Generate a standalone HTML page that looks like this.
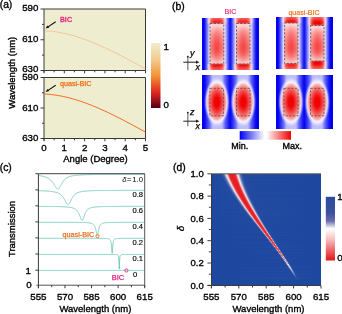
<!DOCTYPE html>
<html><head><meta charset="utf-8"><style>
html,body{margin:0;padding:0;background:#fff;width:342px;height:314px;overflow:hidden;position:relative}
#r div{position:absolute}
svg{position:absolute;left:0;top:0;will-change:transform}
text{font-family:"Liberation Sans",sans-serif}
</style></head><body>
<div id="r">
<div style="left:202px;top:18px;width:57px;height:1px;background:linear-gradient(90deg,#0000f0 0.5px,#0202f0 1.5px,#1111f1 2.5px,#6363f6 4.5px,#d2ccf7 6.5px,#f5d0d7 7.5px,#f9a0a0 8.5px,#f77b7b 9.5px,#f55b5b 11.5px,#f55454 16.5px,#f55d5d 18.5px,#f77f7f 20.5px,#f9a0a0 21.5px,#f7cbd0 22.5px,#ddd5f5 23.5px,#7373f7 25.5px,#2222f2 27.5px,#1616f1 28.5px,#3333f3 29.5px,#8e8ef8 31.5px,#c6c3f8 32.5px,#f1d8e4 33.5px,#faaeaf 34.5px,#f88787 35.5px,#f66060 37.5px,#f55454 40.5px,#f55a5a 44.5px,#f77777 46.5px,#f99696 47.5px,#f8c2c6 48.5px,#e3d8f2 49.5px,#aeadfa 50.5px,#4949f4 52.5px,#2222f2 53.5px,#0707f0 54.5px,#0000f0 56.5px)"></div>
<div style="left:202px;top:19px;width:57px;height:1px;background:linear-gradient(90deg,#0000f0 0.5px,#0202f0 1.5px,#1111f1 2.5px,#6363f6 4.5px,#d4cef5 6.5px,#f6cbd1 7.5px,#f99696 8.5px,#f76f6f 9.5px,#f44c4c 11.5px,#f44545 16.5px,#f54e4e 18.5px,#f77373 20.5px,#f99797 21.5px,#f7c6ca 22.5px,#dfd6f4 23.5px,#7474f7 25.5px,#2222f2 27.5px,#1616f1 28.5px,#3333f3 29.5px,#8f8ff8 31.5px,#c8c4f8 32.5px,#f2d5e0 33.5px,#f9a7a7 34.5px,#f77c7c 35.5px,#f66262 36.5px,#f44848 38.5px,#f44646 43.5px,#f55757 45.5px,#f66b6b 46.5px,#f88c8c 47.5px,#f8bcbf 48.5px,#e5d7ef 49.5px,#afaffa 50.5px,#4a4af4 52.5px,#2222f2 53.5px,#0707f0 54.5px,#0000f0 56.5px)"></div>
<div style="left:202px;top:20px;width:57px;height:1px;background:linear-gradient(90deg,#0000f0 0.5px,#0202f0 1.5px,#1212f1 2.5px,#3636f3 3.5px,#9c9cf9 5.5px,#d8d0f4 6.5px,#f6c4ca 7.5px,#f88a8a 8.5px,#f66060 9.5px,#f44848 10.5px,#f33333 12.5px,#f33434 17.5px,#f44b4b 19.5px,#f66565 20.5px,#f88b8b 21.5px,#f8bfc3 22.5px,#e1d6f2 23.5px,#aaaafa 24.5px,#4747f4 26.5px,#2222f2 27.5px,#1616f1 28.5px,#3333f3 29.5px,#9191f9 31.5px,#cac6f7 32.5px,#f3d2db 33.5px,#f99d9d 34.5px,#f76f6f 35.5px,#f55151 36.5px,#f33535 38.5px,#f33333 43.5px,#f44545 45.5px,#f55b5b 46.5px,#f77f7f 47.5px,#f8b4b7 48.5px,#e7d7ed 49.5px,#b2b1f9 50.5px,#4a4af4 52.5px,#2222f2 53.5px,#0707f0 54.5px,#0000f0 56.5px)"></div>
<div style="left:202px;top:21px;width:57px;height:1px;background:linear-gradient(90deg,#0000f0 0.5px,#0202f0 1.5px,#1212f1 2.5px,#3636f3 3.5px,#6565f6 4.5px,#dbd1f3 6.5px,#f6bec2 7.5px,#f77e7e 8.5px,#f55151 9.5px,#f33636 10.5px,#f22020 12.5px,#f22121 17.5px,#f33b3b 19.5px,#f55757 20.5px,#f88080 21.5px,#f8b9bc 22.5px,#e3d5ef 23.5px,#acacfa 24.5px,#4747f4 26.5px,#2222f2 27.5px,#1616f1 28.5px,#3333f3 29.5px,#9292f9 31.5px,#cdc7f6 32.5px,#f4cdd5 33.5px,#f99393 34.5px,#f66161 35.5px,#f44141 36.5px,#f22323 38.5px,#f22020 43.5px,#f33434 45.5px,#f44c4c 46.5px,#f77373 47.5px,#f8adaf 48.5px,#e9d6ea 49.5px,#b4b2f9 50.5px,#4a4af4 52.5px,#2222f2 53.5px,#0707f0 54.5px,#0000f0 56.5px)"></div>
<div style="left:202px;top:22px;width:57px;height:1px;background:linear-gradient(90deg,#0000f0 0.5px,#0202f0 1.5px,#1212f1 2.5px,#3636f3 3.5px,#9d9df9 5.5px,#d7cdf2 6.5px,#f3bcc4 7.5px,#f78283 8.5px,#f55858 9.5px,#f43f3f 10.5px,#f22929 12.5px,#f22a2a 17.5px,#f44343 19.5px,#f55d5d 20.5px,#f88585 21.5px,#f6b9be 22.5px,#e0d3ef 23.5px,#abaaf9 24.5px,#4747f4 26.5px,#2222f2 27.5px,#1616f1 28.5px,#3333f3 29.5px,#9191f9 31.5px,#cac5f6 32.5px,#f1cbd6 33.5px,#f89697 34.5px,#f66767 35.5px,#f44949 36.5px,#f32c2c 38.5px,#f22929 43.5px,#f43c3c 45.5px,#f55353 46.5px,#f77878 47.5px,#f7aeb1 48.5px,#e6d3ea 49.5px,#b2b0f9 50.5px,#4a4af4 52.5px,#2222f2 53.5px,#0707f0 54.5px,#0000f0 56.5px)"></div>
<div style="left:202px;top:23px;width:57px;height:1px;background:linear-gradient(90deg,#0000f0 0.5px,#0202f0 1.5px,#1111f1 2.5px,#5f5ff6 4.5px,#c2bdf6 6.5px,#e7cbe0 7.5px,#f8b8bb 8.5px,#faa4a4 9.5px,#f88a8a 12.5px,#f88a8a 17.5px,#faa6a6 20.5px,#fabbbd 21.5px,#f0d1de 22.5px,#cfc9f5 23.5px,#4646f4 26.5px,#2222f2 27.5px,#1616f1 28.5px,#3232f3 29.5px,#bab7f8 32.5px,#e3d0e9 33.5px,#f7c4c8 34.5px,#faacac 35.5px,#f99191 37.5px,#f88787 41.5px,#f99595 45.5px,#f9b4b5 47.5px,#f1ccd7 48.5px,#d4cbf3 49.5px,#7474f7 51.5px,#2121f2 53.5px,#0707f0 54.5px,#0000f0 56.5px)"></div>
<div style="left:202px;top:24px;width:57px;height:1px;background:linear-gradient(90deg,#0000f0 0.5px,#0202f0 1.5px,#1111f1 2.5px,#8686f8 5.5px,#dfd7f5 7.5px,#f8dde2 8.5px,#fccece 11.5px,#fccccc 17.5px,#fbe0e2 21.5px,#ece2f4 22.5px,#c4c3fa 23.5px,#4545f4 26.5px,#2121f2 27.5px,#1616f1 28.5px,#3232f3 29.5px,#dbd6f7 33.5px,#f7e4ea 34.5px,#fcd4d4 36.5px,#fcc9c9 42.5px,#fbddde 47.5px,#eee2f1 48.5px,#c8c6fa 49.5px,#2121f2 53.5px,#0707f0 54.5px,#0000f0 56.5px)"></div>
<div style="left:202px;top:25px;width:57px;height:1px;background:linear-gradient(90deg,#0000f0 0.5px,#0202f0 1.5px,#1111f1 2.5px,#8484f8 5.5px,#dfdaf8 7.5px,#f9dfe4 8.5px,#fccfcf 12.5px,#fcd0d0 17.5px,#fbe3e5 21.5px,#ece5f7 22.5px,#9696f9 24.5px,#2121f2 27.5px,#1616f1 28.5px,#3232f3 29.5px,#dad7fa 33.5px,#f8e7ec 34.5px,#fdd7d7 36.5px,#fccccc 42.5px,#fcdfe1 47.5px,#efe6f5 48.5px,#c7c6fb 49.5px,#2121f2 53.5px,#0707f0 54.5px,#0000f0 56.5px)"></div>
<div style="left:202px;top:26px;width:57px;height:1px;background:linear-gradient(90deg,#0000f0 0.5px,#0202f0 1.5px,#1111f1 2.5px,#8484f8 5.5px,#e1dbf6 7.5px,#f9dade 8.5px,#fccdcd 10.5px,#fbc0c0 15.5px,#fcd3d3 20.5px,#fbdedf 21.5px,#ede4f5 22.5px,#c3c3fb 23.5px,#4545f4 26.5px,#2121f2 27.5px,#1616f1 28.5px,#3232f3 29.5px,#adadfa 32.5px,#dbd7f9 33.5px,#f8e3e8 34.5px,#fdd6d6 35.5px,#fbc0c0 41.5px,#fcd1d1 46.5px,#fcd9da 47.5px,#f0e5f3 48.5px,#c8c7fb 49.5px,#4747f4 52.5px,#2121f2 53.5px,#0707f0 54.5px,#0000f0 56.5px)"></div>
<div style="left:202px;top:27px;width:57px;height:1px;background:linear-gradient(90deg,#0000f0 0.5px,#0202f0 1.5px,#1111f1 2.5px,#8484f8 5.5px,#e3dbf5 7.5px,#f9d4d8 8.5px,#fcc4c4 10.5px,#fbb5b5 15.5px,#fccbcb 20.5px,#fbd8da 21.5px,#eee4f3 22.5px,#c4c3fb 23.5px,#4545f4 26.5px,#2121f2 27.5px,#1616f1 28.5px,#3232f3 29.5px,#aeaefa 32.5px,#ddd8f8 33.5px,#f8dfe4 34.5px,#fccfcf 35.5px,#fbb6b6 40.5px,#fbc3c3 45.5px,#fbd3d4 47.5px,#f1e3f0 48.5px,#c9c7fa 49.5px,#4747f4 52.5px,#2121f2 53.5px,#0707f0 54.5px,#0000f0 56.5px)"></div>
<div style="left:202px;top:28px;width:57px;height:1px;background:linear-gradient(90deg,#0000f0 0.5px,#0202f0 1.5px,#1111f1 2.5px,#8585f8 5.5px,#e5dbf4 7.5px,#f9ced1 8.5px,#fbbbbb 10.5px,#faaaaa 15.5px,#fbc3c3 20.5px,#fbd3d4 21.5px,#efe3f1 22.5px,#c5c3fa 23.5px,#4545f4 26.5px,#2121f2 27.5px,#1616f1 28.5px,#3232f3 29.5px,#aeaefa 32.5px,#ded8f7 33.5px,#f8dadf 34.5px,#fcc7c7 35.5px,#faabab 40.5px,#fbb5b5 44.5px,#fbcccd 47.5px,#f1e1ed 48.5px,#c9c8fa 49.5px,#4747f4 52.5px,#2121f2 53.5px,#0707f0 54.5px,#0000f0 56.5px)"></div>
<div style="left:202px;top:29px;width:57px;height:1px;background:linear-gradient(90deg,#0000f0 0.5px,#0202f0 1.5px,#1111f1 2.5px,#8585f8 5.5px,#b6b6fa 6.5px,#e6dbf2 7.5px,#f9c8cb 8.5px,#fbbaba 9.5px,#f99f9f 14.5px,#faaeae 18.5px,#fbbcbc 20.5px,#fbcecf 21.5px,#efe2f0 22.5px,#c5c4fa 23.5px,#4545f4 26.5px,#2121f2 27.5px,#1616f1 28.5px,#3232f3 29.5px,#afaffa 32.5px,#dfd9f6 33.5px,#f8d6db 34.5px,#fbc0c0 35.5px,#f9a0a0 40.5px,#faabab 44.5px,#fbb8b8 46.5px,#fbc6c6 47.5px,#f2dfeb 48.5px,#cac8fa 49.5px,#6f6ff7 51.5px,#2121f2 53.5px,#0707f0 54.5px,#0000f0 56.5px)"></div>
<div style="left:202px;top:30px;width:57px;height:1px;background:linear-gradient(90deg,#0000f0 0.5px,#0202f0 1.5px,#1111f1 2.5px,#8585f8 5.5px,#b7b6fa 6.5px,#e7daf0 7.5px,#f9c3c5 8.5px,#fab2b2 9.5px,#f99595 14.5px,#faa5a5 18.5px,#fbb5b5 20.5px,#fbc9ca 21.5px,#f0e0ee 22.5px,#c6c4fa 23.5px,#4545f4 26.5px,#2121f2 27.5px,#1616f1 28.5px,#3232f3 29.5px,#afaffa 32.5px,#e0d9f6 33.5px,#f8d3d7 34.5px,#fbbaba 35.5px,#f99696 40.5px,#f99c9c 43.5px,#fab1b1 46.5px,#fbc0c0 47.5px,#f2dee8 48.5px,#cbc9f9 49.5px,#6f6ff7 51.5px,#2121f2 53.5px,#0707f0 54.5px,#0000f0 56.5px)"></div>
<div style="left:202px;top:31px;width:57px;height:1px;background:linear-gradient(90deg,#0000f0 0.5px,#0202f0 1.5px,#1111f1 2.5px,#8585f8 5.5px,#b8b7fa 6.5px,#e8d9ee 7.5px,#f9bec0 8.5px,#faacac 9.5px,#f88c8c 14.5px,#f99d9d 18.5px,#faafaf 20.5px,#fbc4c5 21.5px,#f0dfec 22.5px,#c6c4fa 23.5px,#4545f4 26.5px,#2121f2 27.5px,#1616f1 28.5px,#3232f3 29.5px,#afaffa 32.5px,#e1d9f5 33.5px,#f8cfd3 34.5px,#fbb4b4 35.5px,#f88d8d 40.5px,#f99494 43.5px,#faaaaa 46.5px,#fbbbbb 47.5px,#f3dce6 48.5px,#ccc9f9 49.5px,#6f6ff7 51.5px,#2121f2 53.5px,#0707f0 54.5px,#0000f0 56.5px)"></div>
<div style="left:202px;top:32px;width:57px;height:1px;background:linear-gradient(90deg,#0000f0 0.5px,#0202f0 1.5px,#1111f1 2.5px,#8585f8 5.5px,#b8b8fa 6.5px,#e9d9ed 7.5px,#f9b9bb 8.5px,#faa6a6 9.5px,#f88484 14.5px,#f88e8e 17.5px,#faa9a9 20.5px,#fac0c1 21.5px,#f0ddea 22.5px,#c6c4f9 23.5px,#4545f4 26.5px,#2121f2 27.5px,#1616f1 28.5px,#3232f3 29.5px,#b0b0fa 32.5px,#e2d9f4 33.5px,#f8ccd0 34.5px,#faaeae 35.5px,#f88989 39.5px,#f88686 42.5px,#faa4a4 46.5px,#fab6b6 47.5px,#f3dae4 48.5px,#ccc9f9 49.5px,#6f6ff7 51.5px,#2121f2 53.5px,#0707f0 54.5px,#0000f0 56.5px)"></div>
<div style="left:202px;top:33px;width:57px;height:1px;background:linear-gradient(90deg,#0000f0 0.5px,#0202f0 1.5px,#1111f1 2.5px,#8585f8 5.5px,#b9b8fa 6.5px,#ead8eb 7.5px,#f9b5b7 8.5px,#f9a0a0 9.5px,#f77d7d 14.5px,#f88888 17.5px,#faa4a4 20.5px,#fabcbd 21.5px,#f1dce8 22.5px,#c7c4f9 23.5px,#4545f4 26.5px,#2121f2 27.5px,#1616f1 28.5px,#3232f3 29.5px,#b0b0fa 32.5px,#e2d9f3 33.5px,#f8c9cd 34.5px,#faa9a9 35.5px,#f88282 39.5px,#f77f7f 42.5px,#f99f9f 46.5px,#fab1b1 47.5px,#f4d9e2 48.5px,#cdcaf9 49.5px,#6f6ff7 51.5px,#2121f2 53.5px,#0707f0 54.5px,#0000f0 56.5px)"></div>
<div style="left:202px;top:34px;width:57px;height:1px;background:linear-gradient(90deg,#0000f0 0.5px,#0202f0 1.5px,#1111f1 2.5px,#8585f8 5.5px,#b9b8fa 6.5px,#ead8ea 7.5px,#f9b1b3 8.5px,#f99b9b 9.5px,#f77979 13.5px,#f77a7a 16.5px,#f99f9f 20.5px,#fab8b9 21.5px,#f1dbe7 22.5px,#c7c4f9 23.5px,#4545f4 26.5px,#2121f2 27.5px,#1616f1 28.5px,#3232f3 29.5px,#b0b0fa 32.5px,#e3d9f3 33.5px,#f8c6ca 34.5px,#faa5a5 35.5px,#f77c7c 39.5px,#f77878 42.5px,#f99a9a 46.5px,#faadad 47.5px,#f4d8e0 48.5px,#cecaf8 49.5px,#6f6ff7 51.5px,#2121f2 53.5px,#0707f0 54.5px,#0000f0 56.5px)"></div>
<div style="left:202px;top:35px;width:57px;height:1px;background:linear-gradient(90deg,#0000f0 0.5px,#0202f0 1.5px,#1111f1 2.5px,#8686f8 5.5px,#bab9fa 6.5px,#ebd7e9 7.5px,#f9aeb0 8.5px,#f99797 9.5px,#f77373 13.5px,#f77575 16.5px,#f99b9b 20.5px,#fab5b6 21.5px,#f1dae6 22.5px,#c7c5f9 23.5px,#4545f4 26.5px,#2121f2 27.5px,#1616f1 28.5px,#3232f3 29.5px,#b0b0fa 32.5px,#e3d8f2 33.5px,#f8c4c7 34.5px,#f9a1a1 35.5px,#f77676 39.5px,#f77272 42.5px,#f99595 46.5px,#faaaaa 47.5px,#f4d6df 48.5px,#cecaf8 49.5px,#6f6ff7 51.5px,#2121f2 53.5px,#0707f0 54.5px,#0000f0 56.5px)"></div>
<div style="left:202px;top:36px;width:57px;height:1px;background:linear-gradient(90deg,#0000f0 0.5px,#0202f0 1.5px,#1111f1 2.5px,#8686f8 5.5px,#bab9fa 6.5px,#ecd7e8 7.5px,#f9abac 8.5px,#f99393 9.5px,#f66e6e 13.5px,#f76f6f 16.5px,#f99797 20.5px,#fab3b3 21.5px,#f1d9e5 22.5px,#c7c5f9 23.5px,#4545f4 26.5px,#2121f2 27.5px,#1616f1 28.5px,#3232f3 29.5px,#b0b0fa 32.5px,#e4d8f1 33.5px,#f8c2c5 34.5px,#f99d9d 35.5px,#f77171 39.5px,#f66d6d 42.5px,#f99191 46.5px,#faa6a6 47.5px,#f5d5dd 48.5px,#cfcbf8 49.5px,#6f6ff7 51.5px,#2121f2 53.5px,#0707f0 54.5px,#0000f0 56.5px)"></div>
<div style="left:202px;top:37px;width:57px;height:1px;background:linear-gradient(90deg,#0000f0 0.5px,#0202f0 1.5px,#1111f1 2.5px,#8686f8 5.5px,#bbbafa 6.5px,#ecd6e7 7.5px,#f9a8a9 8.5px,#f88f8f 9.5px,#f66969 13.5px,#f66a6a 16.5px,#f99393 20.5px,#fab0b0 21.5px,#f1d8e3 22.5px,#c8c5f9 23.5px,#4545f4 26.5px,#2121f2 27.5px,#1616f1 28.5px,#3232f3 29.5px,#b1b0fa 32.5px,#e4d8f0 33.5px,#f8c0c3 34.5px,#f99a9a 35.5px,#f66c6c 39.5px,#f66868 42.5px,#f88d8d 46.5px,#faa3a3 47.5px,#f5d4dc 48.5px,#cfcbf8 49.5px,#6f6ff7 51.5px,#2121f2 53.5px,#0707f0 54.5px,#0000f0 56.5px)"></div>
<div style="left:202px;top:38px;width:57px;height:1px;background:linear-gradient(90deg,#0000f0 0.5px,#0202f0 1.5px,#1111f1 2.5px,#8686f8 5.5px,#bbbaf9 6.5px,#ecd6e6 7.5px,#f8a5a6 8.5px,#f88c8c 9.5px,#f66464 13.5px,#f66565 16.5px,#f89090 20.5px,#faadae 21.5px,#f2d7e2 22.5px,#c8c5f8 23.5px,#6d6df6 25.5px,#2121f2 27.5px,#1616f1 28.5px,#3232f3 29.5px,#b1b0fa 32.5px,#e4d7f0 33.5px,#f8bec1 34.5px,#f99696 35.5px,#f66767 39.5px,#f66363 42.5px,#f88a8a 46.5px,#f9a0a0 47.5px,#f5d3da 48.5px,#cfcbf7 49.5px,#6f6ff7 51.5px,#2121f2 53.5px,#0707f0 54.5px,#0000f0 56.5px)"></div>
<div style="left:202px;top:39px;width:57px;height:1px;background:linear-gradient(90deg,#0000f0 0.5px,#0202f0 1.5px,#1111f1 2.5px,#8686f8 5.5px,#bcbaf9 6.5px,#edd5e5 7.5px,#f8a2a4 8.5px,#f88888 9.5px,#f66060 13.5px,#f66161 16.5px,#f88c8c 20.5px,#faabab 21.5px,#f2d7e1 22.5px,#c8c5f8 23.5px,#6d6df6 25.5px,#2121f2 27.5px,#1616f1 28.5px,#3232f3 29.5px,#b1b0fa 32.5px,#e4d7ef 33.5px,#f8bcbf 34.5px,#f99393 35.5px,#f66c6c 38.5px,#f55b5b 41.5px,#f77070 44.5px,#f88686 46.5px,#f99d9d 47.5px,#f5d1d9 48.5px,#cfcbf7 49.5px,#6f6ff7 51.5px,#2121f2 53.5px,#0707f0 54.5px,#0000f0 56.5px)"></div>
<div style="left:202px;top:40px;width:57px;height:1px;background:linear-gradient(90deg,#0000f0 0.5px,#0202f0 1.5px,#1111f1 2.5px,#8686f8 5.5px,#bcbaf9 6.5px,#edd4e4 7.5px,#f8a0a1 8.5px,#f88585 9.5px,#f55b5b 13.5px,#f55d5d 16.5px,#f88989 20.5px,#faa9a9 21.5px,#f2d6e1 22.5px,#c8c5f8 23.5px,#6d6df6 25.5px,#2121f2 27.5px,#1616f1 28.5px,#3232f3 29.5px,#b1b0fa 32.5px,#e5d7ef 33.5px,#f8babd 34.5px,#f89090 35.5px,#f66868 38.5px,#f55757 41.5px,#f66c6c 44.5px,#f88383 46.5px,#f99b9b 47.5px,#f5d0d8 48.5px,#d0cbf7 49.5px,#6f6ff7 51.5px,#2121f2 53.5px,#0707f0 54.5px,#0000f0 56.5px)"></div>
<div style="left:202px;top:41px;width:57px;height:1px;background:linear-gradient(90deg,#0000f0 0.5px,#0202f0 1.5px,#1111f1 2.5px,#8686f8 5.5px,#bcbaf9 6.5px,#edd3e3 7.5px,#f89d9f 8.5px,#f88282 9.5px,#f55757 13.5px,#f55959 16.5px,#f88686 20.5px,#f9a7a7 21.5px,#f2d5e0 22.5px,#c8c5f8 23.5px,#6d6df6 25.5px,#2121f2 27.5px,#1616f1 28.5px,#3232f3 29.5px,#b1b0fa 32.5px,#e5d6ee 33.5px,#f8b8bb 34.5px,#f88d8d 35.5px,#f66464 38.5px,#f55353 41.5px,#f66969 44.5px,#f88080 46.5px,#f99898 47.5px,#f5cfd6 48.5px,#d0cbf7 49.5px,#6f6ff7 51.5px,#2121f2 53.5px,#0707f0 54.5px,#0000f0 56.5px)"></div>
<div style="left:202px;top:42px;width:57px;height:1px;background:linear-gradient(90deg,#0000f0 0.5px,#0202f0 1.5px,#1111f1 2.5px,#8686f8 5.5px,#bcbaf9 6.5px,#edd2e2 7.5px,#f89b9c 8.5px,#f77f7f 9.5px,#f55353 13.5px,#f55555 16.5px,#f88484 20.5px,#f9a5a5 21.5px,#f2d4df 22.5px,#c9c5f8 23.5px,#6d6df6 25.5px,#2121f2 27.5px,#1616f1 28.5px,#3232f3 29.5px,#b1b1fa 32.5px,#e5d6ee 33.5px,#f8b7b9 34.5px,#f88b8b 35.5px,#f66161 38.5px,#f54f4f 41.5px,#f66565 44.5px,#f77d7d 46.5px,#f99696 47.5px,#f5ced5 48.5px,#d0cbf7 49.5px,#6f6ff7 51.5px,#2121f2 53.5px,#0707f0 54.5px,#0000f0 56.5px)"></div>
<div style="left:202px;top:43px;width:57px;height:1px;background:linear-gradient(90deg,#0000f0 0.5px,#0202f0 1.5px,#1111f1 2.5px,#8686f8 5.5px,#bdbaf9 6.5px,#edd2e1 7.5px,#f8999a 8.5px,#f77c7c 9.5px,#f55050 13.5px,#f55151 16.5px,#f88181 20.5px,#f9a3a3 21.5px,#f2d4de 22.5px,#c9c5f8 23.5px,#6d6df6 25.5px,#2121f2 27.5px,#1616f1 28.5px,#3232f3 29.5px,#b1b1fa 32.5px,#e5d6ed 33.5px,#f8b5b8 34.5px,#f88989 35.5px,#f55d5d 38.5px,#f44b4b 41.5px,#f66262 44.5px,#f77a7a 46.5px,#f99393 47.5px,#f5cdd4 48.5px,#d1cbf7 49.5px,#6f6ff7 51.5px,#2121f2 53.5px,#0707f0 54.5px,#0000f0 56.5px)"></div>
<div style="left:202px;top:44px;width:57px;height:1px;background:linear-gradient(90deg,#0000f0 0.5px,#0202f0 1.5px,#1111f1 2.5px,#8686f8 5.5px,#bdbbf9 6.5px,#edd1e0 7.5px,#f89798 8.5px,#f77a7a 9.5px,#f54d4d 13.5px,#f44949 15.5px,#f77070 19.5px,#f77f7f 20.5px,#f9a1a2 21.5px,#f2d3dd 22.5px,#c9c5f8 23.5px,#6d6df6 25.5px,#2121f2 27.5px,#1616f1 28.5px,#3232f3 29.5px,#b1b1fa 32.5px,#e5d6ed 33.5px,#f8b4b7 34.5px,#f88787 35.5px,#f55b5b 38.5px,#f44848 41.5px,#f66060 44.5px,#f77878 46.5px,#f99292 47.5px,#f5ccd3 48.5px,#d1cbf6 49.5px,#6f6ff7 51.5px,#2121f2 53.5px,#0707f0 54.5px,#0000f0 56.5px)"></div>
<div style="left:202px;top:45px;width:57px;height:1px;background:linear-gradient(90deg,#0000f0 0.5px,#0202f0 1.5px,#1111f1 2.5px,#8686f8 5.5px,#bdbbf9 6.5px,#eed1df 7.5px,#f89697 8.5px,#f77979 9.5px,#f44b4b 13.5px,#f44747 15.5px,#f66e6e 19.5px,#f77e7e 20.5px,#f9a0a0 21.5px,#f2d3dd 22.5px,#c9c5f8 23.5px,#6d6df6 25.5px,#2121f2 27.5px,#1616f1 28.5px,#3232f3 29.5px,#b2b1fa 32.5px,#e6d6ed 33.5px,#f8b3b6 34.5px,#f88585 35.5px,#f55959 38.5px,#f44646 41.5px,#f65e5e 44.5px,#f77777 46.5px,#f89090 47.5px,#f5cbd3 48.5px,#d1cbf6 49.5px,#6f6ff7 51.5px,#2121f2 53.5px,#0707f0 54.5px,#0000f0 56.5px)"></div>
<div style="left:202px;top:46px;width:57px;height:1px;background:linear-gradient(90deg,#0000f0 0.5px,#0202f0 1.5px,#1111f1 2.5px,#8686f8 5.5px,#bdbbf9 6.5px,#eed1df 7.5px,#f89596 8.5px,#f77878 9.5px,#f44949 13.5px,#f44545 15.5px,#f66d6d 19.5px,#f77c7c 20.5px,#f99fa0 21.5px,#f2d3dd 22.5px,#c9c5f8 23.5px,#6d6df6 25.5px,#2121f2 27.5px,#1616f1 28.5px,#3232f3 29.5px,#8282f8 31.5px,#b2b1fa 32.5px,#e6d6ec 33.5px,#f8b3b5 34.5px,#f88484 35.5px,#f55757 38.5px,#f44545 41.5px,#f55c5c 44.5px,#f77575 46.5px,#f88f8f 47.5px,#f5cbd2 48.5px,#d1cbf6 49.5px,#6f6ff7 51.5px,#2121f2 53.5px,#0707f0 54.5px,#0000f0 56.5px)"></div>
<div style="left:202px;top:47px;width:57px;height:1px;background:linear-gradient(90deg,#0000f0 0.5px,#0202f0 1.5px,#1111f1 2.5px,#8686f8 5.5px,#bdbbf9 6.5px,#eed0df 7.5px,#f89596 8.5px,#f77777 9.5px,#f44949 13.5px,#f44545 15.5px,#f66d6d 19.5px,#f77c7c 20.5px,#f99f9f 21.5px,#f2d3dd 22.5px,#c9c5f8 23.5px,#6d6df6 25.5px,#2121f2 27.5px,#1616f1 28.5px,#3232f3 29.5px,#8282f8 31.5px,#b2b1fa 32.5px,#e6d6ec 33.5px,#f8b2b5 34.5px,#f88484 35.5px,#f55757 38.5px,#f44444 41.5px,#f55c5c 44.5px,#f77575 46.5px,#f88f8f 47.5px,#f5cbd2 48.5px,#d1cbf6 49.5px,#6f6ff7 51.5px,#2121f2 53.5px,#0707f0 54.5px,#0000f0 56.5px)"></div>
<div style="left:202px;top:48px;width:57px;height:1px;background:linear-gradient(90deg,#0000f0 0.5px,#0202f0 1.5px,#1111f1 2.5px,#8686f8 5.5px,#bdbbf9 6.5px,#eed1df 7.5px,#f89596 8.5px,#f77777 9.5px,#f44949 13.5px,#f44545 15.5px,#f66d6d 19.5px,#f77c7c 20.5px,#f99fa0 21.5px,#f2d3dd 22.5px,#c9c5f8 23.5px,#6d6df6 25.5px,#2121f2 27.5px,#1616f1 28.5px,#3232f3 29.5px,#8282f8 31.5px,#b2b1fa 32.5px,#e6d6ec 33.5px,#f8b3b5 34.5px,#f88484 35.5px,#f55757 38.5px,#f44444 41.5px,#f55c5c 44.5px,#f77575 46.5px,#f88f8f 47.5px,#f5cbd2 48.5px,#d1cbf6 49.5px,#6f6ff7 51.5px,#2121f2 53.5px,#0707f0 54.5px,#0000f0 56.5px)"></div>
<div style="left:202px;top:49px;width:57px;height:1px;background:linear-gradient(90deg,#0000f0 0.5px,#0202f0 1.5px,#1111f1 2.5px,#8686f8 5.5px,#bdbbf9 6.5px,#eed1df 7.5px,#f89697 8.5px,#f77979 9.5px,#f44b4b 13.5px,#f44747 15.5px,#f66e6e 19.5px,#f77d7d 20.5px,#f9a0a0 21.5px,#f2d3dd 22.5px,#c9c5f8 23.5px,#6d6df6 25.5px,#2121f2 27.5px,#1616f1 28.5px,#3232f3 29.5px,#b2b1fa 32.5px,#e6d6ed 33.5px,#f8b3b6 34.5px,#f88585 35.5px,#f55959 38.5px,#f44646 41.5px,#f55d5d 44.5px,#f77676 46.5px,#f89090 47.5px,#f5cbd2 48.5px,#d1cbf6 49.5px,#6f6ff7 51.5px,#2121f2 53.5px,#0707f0 54.5px,#0000f0 56.5px)"></div>
<div style="left:202px;top:50px;width:57px;height:1px;background:linear-gradient(90deg,#0000f0 0.5px,#0202f0 1.5px,#1111f1 2.5px,#8686f8 5.5px,#bdbaf9 6.5px,#edd1e0 7.5px,#f89899 8.5px,#f77b7b 9.5px,#f54d4d 13.5px,#f44949 15.5px,#f77171 19.5px,#f77f7f 20.5px,#f9a2a2 21.5px,#f2d3de 22.5px,#c9c5f8 23.5px,#6d6df6 25.5px,#2121f2 27.5px,#1616f1 28.5px,#3232f3 29.5px,#b1b1fa 32.5px,#e5d6ed 33.5px,#f8b4b7 34.5px,#f88787 35.5px,#f55b5b 38.5px,#f44949 41.5px,#f66060 44.5px,#f77878 46.5px,#f99292 47.5px,#f5ccd3 48.5px,#d1cbf6 49.5px,#6f6ff7 51.5px,#2121f2 53.5px,#0707f0 54.5px,#0000f0 56.5px)"></div>
<div style="left:202px;top:51px;width:57px;height:1px;background:linear-gradient(90deg,#0000f0 0.5px,#0202f0 1.5px,#1111f1 2.5px,#8686f8 5.5px,#bcbaf9 6.5px,#edd2e1 7.5px,#f89a9b 8.5px,#f77d7d 9.5px,#f55151 13.5px,#f55353 16.5px,#f88282 20.5px,#f9a4a4 21.5px,#f2d4de 22.5px,#c9c5f8 23.5px,#6d6df6 25.5px,#2121f2 27.5px,#1616f1 28.5px,#3232f3 29.5px,#b1b1fa 32.5px,#e5d6ed 33.5px,#f8b6b9 34.5px,#f88989 35.5px,#f65f5f 38.5px,#f54d4d 41.5px,#f66363 44.5px,#f77b7b 46.5px,#f99494 47.5px,#f5cdd5 48.5px,#d0cbf7 49.5px,#6f6ff7 51.5px,#2121f2 53.5px,#0707f0 54.5px,#0000f0 56.5px)"></div>
<div style="left:202px;top:52px;width:57px;height:1px;background:linear-gradient(90deg,#0000f0 0.5px,#0202f0 1.5px,#1111f1 2.5px,#8686f8 5.5px,#bcbaf9 6.5px,#edd3e2 7.5px,#f89d9e 8.5px,#f88181 9.5px,#f55656 13.5px,#f55858 16.5px,#f88686 20.5px,#f9a6a7 21.5px,#f2d5df 22.5px,#c8c5f8 23.5px,#6d6df6 25.5px,#2121f2 27.5px,#1616f1 28.5px,#3232f3 29.5px,#b1b0fa 32.5px,#e5d6ee 33.5px,#f8b8bb 34.5px,#f88d8d 35.5px,#f66363 38.5px,#f55252 41.5px,#f66868 44.5px,#f77f7f 46.5px,#f99797 47.5px,#f5cfd6 48.5px,#d0cbf7 49.5px,#6f6ff7 51.5px,#2121f2 53.5px,#0707f0 54.5px,#0000f0 56.5px)"></div>
<div style="left:202px;top:53px;width:57px;height:1px;background:linear-gradient(90deg,#0000f0 0.5px,#0202f0 1.5px,#1111f1 2.5px,#8686f8 5.5px,#bcbaf9 6.5px,#edd4e4 7.5px,#f8a1a2 8.5px,#f88686 9.5px,#f55c5c 13.5px,#f65e5e 16.5px,#f88a8a 20.5px,#faa9aa 21.5px,#f2d6e1 22.5px,#c8c5f8 23.5px,#6d6df6 25.5px,#2121f2 27.5px,#1616f1 28.5px,#3232f3 29.5px,#b1b0fa 32.5px,#e5d7ef 33.5px,#f8bbbd 34.5px,#f99191 35.5px,#f66969 38.5px,#f55858 41.5px,#f66d6d 44.5px,#f88484 46.5px,#f99b9b 47.5px,#f5d0d8 48.5px,#d0cbf7 49.5px,#6f6ff7 51.5px,#2121f2 53.5px,#0707f0 54.5px,#0000f0 56.5px)"></div>
<div style="left:202px;top:54px;width:57px;height:1px;background:linear-gradient(90deg,#0000f0 0.5px,#0202f0 1.5px,#1111f1 2.5px,#8686f8 5.5px,#bbbaf9 6.5px,#ecd6e6 7.5px,#f8a5a6 8.5px,#f88b8b 9.5px,#f66464 13.5px,#f66565 16.5px,#f88f8f 20.5px,#faadae 21.5px,#f2d7e2 22.5px,#c8c5f8 23.5px,#6d6df6 25.5px,#2121f2 27.5px,#1616f1 28.5px,#3232f3 29.5px,#b1b0fa 32.5px,#e4d7f0 33.5px,#f8bec1 34.5px,#f99696 35.5px,#f66767 39.5px,#f66363 42.5px,#f88989 46.5px,#f9a0a0 47.5px,#f5d3da 48.5px,#cfcbf7 49.5px,#6f6ff7 51.5px,#2121f2 53.5px,#0707f0 54.5px,#0000f0 56.5px)"></div>
<div style="left:202px;top:55px;width:57px;height:1px;background:linear-gradient(90deg,#0000f0 0.5px,#0202f0 1.5px,#1111f1 2.5px,#8686f8 5.5px,#bbb9fa 6.5px,#ecd7e8 7.5px,#f9aaab 8.5px,#f99191 9.5px,#f66c6c 13.5px,#f66d6d 16.5px,#f99595 20.5px,#fab2b2 21.5px,#f1d9e4 22.5px,#c8c5f9 23.5px,#4545f4 26.5px,#2121f2 27.5px,#1616f1 28.5px,#3232f3 29.5px,#b1b0fa 32.5px,#e4d8f1 33.5px,#f8c1c4 34.5px,#f99c9c 35.5px,#f76f6f 39.5px,#f66b6b 42.5px,#f89090 46.5px,#faa5a5 47.5px,#f5d5dd 48.5px,#cfcbf8 49.5px,#6f6ff7 51.5px,#2121f2 53.5px,#0707f0 54.5px,#0000f0 56.5px)"></div>
<div style="left:202px;top:56px;width:57px;height:1px;background:linear-gradient(90deg,#0000f0 0.5px,#0202f0 1.5px,#1111f1 2.5px,#8686f8 5.5px,#bab9fa 6.5px,#ebd7e9 7.5px,#f9afb1 8.5px,#f99898 9.5px,#f77575 13.5px,#f77676 16.5px,#f99c9c 20.5px,#fab6b7 21.5px,#f1dae6 22.5px,#c7c4f9 23.5px,#4545f4 26.5px,#2121f2 27.5px,#1616f1 28.5px,#3232f3 29.5px,#b0b0fa 32.5px,#e3d8f2 33.5px,#f8c5c8 34.5px,#faa2a2 35.5px,#f77878 39.5px,#f77474 42.5px,#f99797 46.5px,#faabab 47.5px,#f4d7df 48.5px,#cecaf8 49.5px,#6f6ff7 51.5px,#2121f2 53.5px,#0707f0 54.5px,#0000f0 56.5px)"></div>
<div style="left:202px;top:57px;width:57px;height:1px;background:linear-gradient(90deg,#0000f0 0.5px,#0202f0 1.5px,#1111f1 2.5px,#8585f8 5.5px,#b9b8fa 6.5px,#ead8eb 7.5px,#f9b5b7 8.5px,#f9a0a0 9.5px,#f77c7c 14.5px,#f88787 17.5px,#faa3a3 20.5px,#fabcbc 21.5px,#f1dce8 22.5px,#c7c4f9 23.5px,#4545f4 26.5px,#2121f2 27.5px,#1616f1 28.5px,#3232f3 29.5px,#b0b0fa 32.5px,#e2d9f3 33.5px,#f8c9cc 34.5px,#faa9a9 35.5px,#f88282 39.5px,#f77f7f 42.5px,#f99e9e 46.5px,#fab1b1 47.5px,#f4d9e2 48.5px,#cdcaf9 49.5px,#6f6ff7 51.5px,#2121f2 53.5px,#0707f0 54.5px,#0000f0 56.5px)"></div>
<div style="left:202px;top:58px;width:57px;height:1px;background:linear-gradient(90deg,#0000f0 0.5px,#0202f0 1.5px,#1111f1 2.5px,#8585f8 5.5px,#b8b7fa 6.5px,#e9d9ed 7.5px,#f9bbbd 8.5px,#faa8a8 9.5px,#f88787 14.5px,#f99191 17.5px,#faabab 20.5px,#fbc1c2 21.5px,#f0deeb 22.5px,#c6c4fa 23.5px,#4545f4 26.5px,#2121f2 27.5px,#1616f1 28.5px,#3232f3 29.5px,#b0b0fa 32.5px,#e2d9f5 33.5px,#f8cdd1 34.5px,#fab0b0 35.5px,#f88888 40.5px,#f88f8f 43.5px,#faa7a7 46.5px,#fab8b8 47.5px,#f3dbe5 48.5px,#ccc9f9 49.5px,#6f6ff7 51.5px,#2121f2 53.5px,#0707f0 54.5px,#0000f0 56.5px)"></div>
<div style="left:202px;top:59px;width:57px;height:1px;background:linear-gradient(90deg,#0000f0 0.5px,#0202f0 1.5px,#1111f1 2.5px,#8585f8 5.5px,#b7b7fa 6.5px,#e7daef 7.5px,#f9c2c4 8.5px,#fab1b1 9.5px,#f99393 14.5px,#faa3a3 18.5px,#fbb3b3 20.5px,#fbc7c8 21.5px,#f0e0ed 22.5px,#c6c4fa 23.5px,#4545f4 26.5px,#2121f2 27.5px,#1616f1 28.5px,#3232f3 29.5px,#afaffa 32.5px,#e0d9f6 33.5px,#f8d2d6 34.5px,#fbb8b8 35.5px,#f99494 40.5px,#f99a9a 43.5px,#faafaf 46.5px,#fbbfbf 47.5px,#f3dde8 48.5px,#cbc9f9 49.5px,#6f6ff7 51.5px,#2121f2 53.5px,#0707f0 54.5px,#0000f0 56.5px)"></div>
<div style="left:202px;top:60px;width:57px;height:1px;background:linear-gradient(90deg,#0000f0 0.5px,#0202f0 1.5px,#1111f1 2.5px,#8585f8 5.5px,#b6b6fa 6.5px,#e6dbf2 7.5px,#f9c8cb 8.5px,#fbbaba 9.5px,#f99f9f 14.5px,#faaeae 18.5px,#fbbcbc 20.5px,#fbcecf 21.5px,#efe2f0 22.5px,#c5c4fa 23.5px,#4545f4 26.5px,#2121f2 27.5px,#1616f1 28.5px,#3232f3 29.5px,#afaffa 32.5px,#dfd9f6 33.5px,#f8d6db 34.5px,#fbc0c0 35.5px,#f9a0a0 40.5px,#faabab 44.5px,#fbb8b8 46.5px,#fbc6c6 47.5px,#f2dfeb 48.5px,#cac8fa 49.5px,#6f6ff7 51.5px,#2121f2 53.5px,#0707f0 54.5px,#0000f0 56.5px)"></div>
<div style="left:202px;top:61px;width:57px;height:1px;background:linear-gradient(90deg,#0000f0 0.5px,#0202f0 1.5px,#1111f1 2.5px,#8585f8 5.5px,#e5dbf4 7.5px,#f9cfd2 8.5px,#fbbdbd 10.5px,#faacac 15.5px,#fcc5c5 20.5px,#fbd4d5 21.5px,#efe3f2 22.5px,#c4c3fa 23.5px,#4545f4 26.5px,#2121f2 27.5px,#1616f1 28.5px,#3232f3 29.5px,#aeaefa 32.5px,#ded8f7 33.5px,#f8dbe0 34.5px,#fcc9c9 35.5px,#faacac 40.5px,#fbb6b6 44.5px,#fbcdce 47.5px,#f1e2ee 48.5px,#c9c8fa 49.5px,#4747f4 52.5px,#2121f2 53.5px,#0707f0 54.5px,#0000f0 56.5px)"></div>
<div style="left:202px;top:62px;width:57px;height:1px;background:linear-gradient(90deg,#0000f0 0.5px,#0202f0 1.5px,#1111f1 2.5px,#8484f8 5.5px,#e3dbf5 7.5px,#f9d6d9 8.5px,#fcc7c7 10.5px,#fbb8b8 15.5px,#fccdcd 20.5px,#fbdadb 21.5px,#ede4f4 22.5px,#c4c3fb 23.5px,#4545f4 26.5px,#2121f2 27.5px,#1616f1 28.5px,#3232f3 29.5px,#adadfa 32.5px,#dcd8f8 33.5px,#f8e0e5 34.5px,#fcd1d1 35.5px,#fbb9b9 40.5px,#fcc6c6 45.5px,#fbd4d5 47.5px,#f1e4f1 48.5px,#c8c7fa 49.5px,#4747f4 52.5px,#2121f2 53.5px,#0707f0 54.5px,#0000f0 56.5px)"></div>
<div style="left:202px;top:63px;width:57px;height:1px;background:linear-gradient(90deg,#0000f0 0.5px,#0202f0 1.5px,#1111f1 2.5px,#5d5df5 4.5px,#bbb8f8 6.5px,#e5d4eb 7.5px,#f8c7ca 8.5px,#faaeae 10.5px,#f99f9f 14.5px,#faa9a9 18.5px,#fbbaba 20.5px,#facacc 21.5px,#efdbe9 22.5px,#c9c6f8 23.5px,#4545f4 26.5px,#2121f2 27.5px,#1616f1 28.5px,#3232f3 29.5px,#b3b2f9 32.5px,#e0d4f1 33.5px,#f8d2d7 34.5px,#fbbebe 35.5px,#faa5a5 38.5px,#faa3a3 43.5px,#fbb6b6 46.5px,#fbc4c5 47.5px,#f1d9e4 48.5px,#cec9f7 49.5px,#4848f4 52.5px,#2121f2 53.5px,#0707f0 54.5px,#0000f0 56.5px)"></div>
<div style="left:202px;top:64px;width:57px;height:1px;background:linear-gradient(90deg,#0000f0 0.5px,#0202f0 1.5px,#1212f1 2.5px,#3636f3 3.5px,#9c9cf9 5.5px,#d6ccf2 6.5px,#f3bbc3 7.5px,#f78182 8.5px,#f55757 9.5px,#f43e3e 10.5px,#f22929 12.5px,#f22a2a 17.5px,#f44242 19.5px,#f55d5d 20.5px,#f78585 21.5px,#f6b9be 22.5px,#dfd1ef 23.5px,#aaa9f9 24.5px,#4747f4 26.5px,#2222f2 27.5px,#1616f1 28.5px,#3333f3 29.5px,#9191f9 31.5px,#c9c4f6 32.5px,#f0c9d5 33.5px,#f89697 34.5px,#f66767 35.5px,#f44848 36.5px,#f32b2b 38.5px,#f22828 43.5px,#f43c3c 45.5px,#f55353 46.5px,#f77878 47.5px,#f7aeb2 48.5px,#e5d2e9 49.5px,#b1aff9 50.5px,#4a4af4 52.5px,#2222f2 53.5px,#0707f0 54.5px,#0000f0 56.5px)"></div>
<div style="left:202px;top:65px;width:57px;height:1px;background:linear-gradient(90deg,#0000f0 0.5px,#0202f0 1.5px,#1212f1 2.5px,#3636f3 3.5px,#6666f6 4.5px,#a1a0f9 5.5px,#ddd1f1 6.5px,#f7b7bc 7.5px,#f77373 8.5px,#f44343 9.5px,#f22727 10.5px,#f10f0f 12.5px,#f11010 17.5px,#f32b2b 19.5px,#f44949 20.5px,#f77676 21.5px,#f8b2b5 22.5px,#e4d5ed 23.5px,#aeadf9 24.5px,#4747f4 26.5px,#2222f2 27.5px,#1616f1 28.5px,#3333f3 29.5px,#9494f9 31.5px,#cfc8f5 32.5px,#f4c9d0 33.5px,#f88a8a 34.5px,#f55555 35.5px,#f33232 36.5px,#f21d1d 37.5px,#f10d0d 39.5px,#f10e0e 43.5px,#f22424 45.5px,#f43e3e 46.5px,#f66868 47.5px,#f8a6a7 48.5px,#ead5e7 49.5px,#b5b4f9 50.5px,#4a4af4 52.5px,#2222f2 53.5px,#0707f0 54.5px,#0000f0 56.5px)"></div>
<div style="left:202px;top:66px;width:57px;height:1px;background:linear-gradient(90deg,#0000f0 0.5px,#0202f0 1.5px,#1212f1 2.5px,#3636f3 3.5px,#6565f6 4.5px,#dbd1f3 6.5px,#f6bec2 7.5px,#f77e7e 8.5px,#f55151 9.5px,#f33636 10.5px,#f22020 12.5px,#f22121 17.5px,#f33b3b 19.5px,#f55757 20.5px,#f88080 21.5px,#f8b9bc 22.5px,#e3d5ef 23.5px,#acacfa 24.5px,#4747f4 26.5px,#2222f2 27.5px,#1616f1 28.5px,#3333f3 29.5px,#9292f9 31.5px,#cdc7f6 32.5px,#f4cdd5 33.5px,#f99393 34.5px,#f66161 35.5px,#f44141 36.5px,#f22323 38.5px,#f22020 43.5px,#f33434 45.5px,#f44c4c 46.5px,#f77373 47.5px,#f8adaf 48.5px,#e9d6ea 49.5px,#b4b2f9 50.5px,#4a4af4 52.5px,#2222f2 53.5px,#0707f0 54.5px,#0000f0 56.5px)"></div>
<div style="left:202px;top:67px;width:57px;height:1px;background:linear-gradient(90deg,#0000f0 0.5px,#0202f0 1.5px,#1212f1 2.5px,#3636f3 3.5px,#9c9cf9 5.5px,#d8d0f4 6.5px,#f6c4ca 7.5px,#f88a8a 8.5px,#f66060 9.5px,#f44848 10.5px,#f33333 12.5px,#f33434 17.5px,#f44b4b 19.5px,#f66565 20.5px,#f88b8b 21.5px,#f8bfc3 22.5px,#e1d6f2 23.5px,#aaaafa 24.5px,#4747f4 26.5px,#2222f2 27.5px,#1616f1 28.5px,#3333f3 29.5px,#9191f9 31.5px,#cac6f7 32.5px,#f3d2db 33.5px,#f99d9d 34.5px,#f76f6f 35.5px,#f55151 36.5px,#f33535 38.5px,#f33333 43.5px,#f44545 45.5px,#f55b5b 46.5px,#f77f7f 47.5px,#f8b4b7 48.5px,#e7d7ed 49.5px,#b2b1f9 50.5px,#4a4af4 52.5px,#2222f2 53.5px,#0707f0 54.5px,#0000f0 56.5px)"></div>
<div style="left:202px;top:68px;width:57px;height:1px;background:linear-gradient(90deg,#0000f0 0.5px,#0202f0 1.5px,#1111f1 2.5px,#6363f6 4.5px,#d4cef5 6.5px,#f6cbd1 7.5px,#f99696 8.5px,#f76f6f 9.5px,#f44c4c 11.5px,#f44545 16.5px,#f54e4e 18.5px,#f77373 20.5px,#f99797 21.5px,#f7c6ca 22.5px,#dfd6f4 23.5px,#7474f7 25.5px,#2222f2 27.5px,#1616f1 28.5px,#3333f3 29.5px,#8f8ff8 31.5px,#c8c4f8 32.5px,#f2d5e0 33.5px,#f9a7a7 34.5px,#f77c7c 35.5px,#f66262 36.5px,#f44848 38.5px,#f44646 43.5px,#f55757 45.5px,#f66b6b 46.5px,#f88c8c 47.5px,#f8bcbf 48.5px,#e5d7ef 49.5px,#afaffa 50.5px,#4a4af4 52.5px,#2222f2 53.5px,#0707f0 54.5px,#0000f0 56.5px)"></div>
<div style="left:202px;top:69px;width:57px;height:1px;background:linear-gradient(90deg,#0000f0 0.5px,#0202f0 1.5px,#1111f1 2.5px,#6363f6 4.5px,#d2ccf7 6.5px,#f5d0d7 7.5px,#f9a0a0 8.5px,#f77b7b 9.5px,#f55b5b 11.5px,#f55454 16.5px,#f55d5d 18.5px,#f77f7f 20.5px,#f9a0a0 21.5px,#f7cbd0 22.5px,#ddd5f5 23.5px,#7373f7 25.5px,#2222f2 27.5px,#1616f1 28.5px,#3333f3 29.5px,#8e8ef8 31.5px,#c6c3f8 32.5px,#f1d8e4 33.5px,#faaeaf 34.5px,#f88787 35.5px,#f66060 37.5px,#f55454 40.5px,#f55a5a 44.5px,#f77777 46.5px,#f99696 47.5px,#f8c2c6 48.5px,#e3d8f2 49.5px,#aeadfa 50.5px,#4949f4 52.5px,#2222f2 53.5px,#0707f0 54.5px,#0000f0 56.5px)"></div>
<div style="left:276px;top:17px;width:57px;height:1px;background:linear-gradient(90deg,#0000f0 0.5px,#0202f0 1.5px,#1111f1 2.5px,#5e5ef6 4.5px,#c5c2f9 6.5px,#f1d9e5 7.5px,#fab0b1 8.5px,#f88a8a 9.5px,#f66060 11.5px,#f55454 14.5px,#f55b5b 18.5px,#f77979 20.5px,#f99999 21.5px,#f8c6ca 22.5px,#e0d7f3 23.5px,#7474f7 25.5px,#2222f2 27.5px,#1616f1 28.5px,#3232f3 29.5px,#8b8bf8 31.5px,#c2c0f9 32.5px,#efdae7 33.5px,#fab4b5 34.5px,#f88d8d 35.5px,#f66262 37.5px,#f55454 40.5px,#f55a5a 44.5px,#f77777 46.5px,#f99595 47.5px,#f8c2c5 48.5px,#e3d7f2 49.5px,#adadfa 50.5px,#4949f4 52.5px,#2222f2 53.5px,#0707f0 54.5px,#0000f0 56.5px)"></div>
<div style="left:276px;top:18px;width:57px;height:1px;background:linear-gradient(90deg,#0000f0 0.5px,#0202f0 1.5px,#1111f1 2.5px,#5f5ff6 4.5px,#c7c4f8 6.5px,#f2d6e1 7.5px,#f9a9a9 8.5px,#f77f7f 9.5px,#f66363 10.5px,#f44949 12.5px,#f44646 17.5px,#f55757 19.5px,#f66d6d 20.5px,#f88f8f 21.5px,#f8c0c3 22.5px,#e2d6f1 23.5px,#ababfa 24.5px,#4747f4 26.5px,#2222f2 27.5px,#1616f1 28.5px,#3232f3 29.5px,#8c8cf8 31.5px,#c3c1f9 32.5px,#f0d7e4 33.5px,#f9adad 34.5px,#f88282 35.5px,#f66565 36.5px,#f44949 38.5px,#f44646 43.5px,#f55656 45.5px,#f66a6a 46.5px,#f88b8b 47.5px,#f8bcbf 48.5px,#e4d7ef 49.5px,#afaefa 50.5px,#4949f4 52.5px,#2222f2 53.5px,#0707f0 54.5px,#0000f0 56.5px)"></div>
<div style="left:276px;top:19px;width:57px;height:1px;background:linear-gradient(90deg,#0000f0 0.5px,#0202f0 1.5px,#1111f1 2.5px,#5f5ff6 4.5px,#c9c5f7 6.5px,#f3d3dc 7.5px,#f9a0a0 8.5px,#f77171 9.5px,#f55353 10.5px,#f33636 12.5px,#f33333 17.5px,#f44646 19.5px,#f55d5d 20.5px,#f88383 21.5px,#f8b9bc 22.5px,#e4d6ef 23.5px,#adadfa 24.5px,#4747f4 26.5px,#2222f2 27.5px,#1616f1 28.5px,#3232f3 29.5px,#8e8ef8 31.5px,#c6c2f8 32.5px,#f1d4e0 33.5px,#f9a4a4 34.5px,#f77575 35.5px,#f55555 36.5px,#f33636 38.5px,#f33232 43.5px,#f44444 45.5px,#f55b5b 46.5px,#f77f7f 47.5px,#f8b4b7 48.5px,#e6d6ed 49.5px,#b1b0f9 50.5px,#4a4af4 52.5px,#2222f2 53.5px,#0707f0 54.5px,#0000f0 56.5px)"></div>
<div style="left:276px;top:20px;width:57px;height:1px;background:linear-gradient(90deg,#0000f0 0.5px,#0202f0 1.5px,#1111f1 2.5px,#5f5ff6 4.5px,#ccc7f7 6.5px,#f4cfd7 7.5px,#f99696 8.5px,#f66464 9.5px,#f44343 10.5px,#f32e2e 11.5px,#f21e1e 13.5px,#f22020 17.5px,#f33535 19.5px,#f54e4e 20.5px,#f77777 21.5px,#f8b1b4 22.5px,#e6d5ec 23.5px,#afaef9 24.5px,#4848f4 26.5px,#2222f2 27.5px,#1616f1 28.5px,#3232f3 29.5px,#8f8ff8 31.5px,#c8c4f7 32.5px,#f2d1db 33.5px,#f99b9b 34.5px,#f66868 35.5px,#f44545 36.5px,#f32f2f 37.5px,#f21f1f 39.5px,#f21f1f 43.5px,#f33333 45.5px,#f44b4b 46.5px,#f77272 47.5px,#f8acae 48.5px,#e9d6ea 49.5px,#b3b2f9 50.5px,#4a4af4 52.5px,#2222f2 53.5px,#0707f0 54.5px,#0000f0 56.5px)"></div>
<div style="left:276px;top:21px;width:57px;height:1px;background:linear-gradient(90deg,#0000f0 0.5px,#0202f0 1.5px,#1111f1 2.5px,#6060f6 4.5px,#cec8f6 6.5px,#f4cbd2 7.5px,#f88d8d 8.5px,#f55858 9.5px,#f33434 10.5px,#f21d1d 11.5px,#f10d0d 13.5px,#f10e0e 17.5px,#f22525 19.5px,#f44141 20.5px,#f66c6c 21.5px,#f8abad 22.5px,#e7d5ea 23.5px,#b1b0f9 24.5px,#4848f4 26.5px,#2222f2 27.5px,#1616f1 28.5px,#3232f3 29.5px,#9090f8 31.5px,#cac5f7 32.5px,#f3ced7 33.5px,#f99393 34.5px,#f55c5c 35.5px,#f33737 36.5px,#f21f1f 37.5px,#f10d0d 39.5px,#f10e0e 43.5px,#f22323 45.5px,#f43d3d 46.5px,#f66767 47.5px,#f8a5a7 48.5px,#ead5e7 49.5px,#b5b3f9 50.5px,#4a4af4 52.5px,#2222f2 53.5px,#0707f0 54.5px,#0000f0 56.5px)"></div>
<div style="left:276px;top:22px;width:57px;height:1px;background:linear-gradient(90deg,#0000f0 0.5px,#0202f0 1.5px,#1111f1 2.5px,#5f5ff6 4.5px,#c9c3f6 6.5px,#f0cbd7 7.5px,#f89a9b 8.5px,#f66c6c 9.5px,#f54d4d 10.5px,#f32f2f 12.5px,#f32c2c 17.5px,#f44040 19.5px,#f55858 20.5px,#f77d7e 21.5px,#f6b2b7 22.5px,#e2d1ec 23.5px,#adacf9 24.5px,#4747f4 26.5px,#2222f2 27.5px,#1616f1 28.5px,#3232f3 29.5px,#9090f8 31.5px,#cbc5f6 32.5px,#f4ccd5 33.5px,#f88e8e 34.5px,#f55555 35.5px,#f32f2f 36.5px,#f11616 37.5px,#f00404 39.5px,#f00404 43.5px,#f21a1a 45.5px,#f33535 46.5px,#f66161 47.5px,#f8a1a3 48.5px,#ebd4e5 49.5px,#b6b4f9 50.5px,#7b7bf7 51.5px,#2222f2 53.5px,#0707f0 54.5px,#0000f0 56.5px)"></div>
<div style="left:276px;top:23px;width:57px;height:1px;background:linear-gradient(90deg,#0000f0 0.5px,#0202f0 1.5px,#1111f1 2.5px,#8686f8 5.5px,#dfd5f3 7.5px,#f8d9de 8.5px,#fbc0c0 10.5px,#fab1b1 15.5px,#fbbcbc 19.5px,#facfd1 21.5px,#eedae9 22.5px,#cac6f8 23.5px,#4646f4 26.5px,#2121f2 27.5px,#1616f1 28.5px,#3333f3 29.5px,#9090f8 31.5px,#cbc5f6 32.5px,#f4ccd4 33.5px,#f88d8d 34.5px,#f55454 35.5px,#f32e2e 36.5px,#f11515 37.5px,#f00202 39.5px,#f00303 43.5px,#f11919 45.5px,#f33434 46.5px,#f66060 47.5px,#f8a1a2 48.5px,#ebd4e5 49.5px,#b6b4f9 50.5px,#7b7bf7 51.5px,#2222f2 53.5px,#0707f0 54.5px,#0000f0 56.5px)"></div>
<div style="left:276px;top:24px;width:57px;height:1px;background:linear-gradient(90deg,#0000f0 0.5px,#0202f0 1.5px,#1111f1 2.5px,#8383f8 5.5px,#dbd8fa 7.5px,#f8e9ee 8.5px,#fddbdb 10.5px,#fcd0d0 16.5px,#fbe2e4 21.5px,#ece5f6 22.5px,#c4c3fb 23.5px,#4545f4 26.5px,#2121f2 27.5px,#1616f1 28.5px,#3232f3 29.5px,#8f8ff8 31.5px,#c7c2f7 32.5px,#f0cdd9 33.5px,#f8999a 34.5px,#f66666 35.5px,#f44444 36.5px,#f32e2e 37.5px,#f21d1d 39.5px,#f21d1d 43.5px,#f33131 45.5px,#f44a4a 46.5px,#f67071 47.5px,#f7a9ac 48.5px,#e6d2e8 49.5px,#b3b1f9 50.5px,#4a4af4 52.5px,#2222f2 53.5px,#0707f0 54.5px,#0000f0 56.5px)"></div>
<div style="left:276px;top:25px;width:57px;height:1px;background:linear-gradient(90deg,#0000f0 0.5px,#0202f0 1.5px,#1111f1 2.5px,#8383f8 5.5px,#dcd8f9 7.5px,#f8e5ea 8.5px,#fdd9d9 9.5px,#fcc5c5 15.5px,#fbdcdd 21.5px,#eee4f4 22.5px,#c4c4fb 23.5px,#4545f4 26.5px,#2121f2 27.5px,#1616f1 28.5px,#3232f3 29.5px,#b8b6f9 32.5px,#e2d2ec 33.5px,#f7c6cb 34.5px,#faaeae 35.5px,#f99191 37.5px,#f88686 41.5px,#f99393 45.5px,#f9b3b4 47.5px,#f1cbd6 48.5px,#d4caf2 49.5px,#7474f7 51.5px,#2121f2 53.5px,#0707f0 54.5px,#0000f0 56.5px)"></div>
<div style="left:276px;top:26px;width:57px;height:1px;background:linear-gradient(90deg,#0000f0 0.5px,#0202f0 1.5px,#1111f1 2.5px,#8383f8 5.5px,#ddd9f8 7.5px,#f8e1e6 8.5px,#fcd2d2 9.5px,#fbbaba 14.5px,#fcc7c7 19.5px,#fbd5d7 21.5px,#efe3f2 22.5px,#c5c4fb 23.5px,#4545f4 26.5px,#2121f2 27.5px,#1616f1 28.5px,#3232f3 29.5px,#dad5f8 33.5px,#f7e4eb 34.5px,#fcd4d4 36.5px,#fcc9c9 42.5px,#fbdcde 47.5px,#eee2f1 48.5px,#c8c6fa 49.5px,#2121f2 53.5px,#0707f0 54.5px,#0000f0 56.5px)"></div>
<div style="left:276px;top:27px;width:57px;height:1px;background:linear-gradient(90deg,#0000f0 0.5px,#0202f0 1.5px,#1111f1 2.5px,#8383f8 5.5px,#ded9f8 7.5px,#f8dce1 8.5px,#fccbcb 9.5px,#faafaf 14.5px,#fbb9b9 18.5px,#fbcfd0 21.5px,#f0e2f0 22.5px,#c6c5fa 23.5px,#4545f4 26.5px,#2121f2 27.5px,#1616f1 28.5px,#3232f3 29.5px,#d9d6fa 33.5px,#f7e7ed 34.5px,#fdd7d7 36.5px,#fccbcb 42.5px,#fcdee0 47.5px,#efe6f4 48.5px,#c7c6fb 49.5px,#2121f2 53.5px,#0707f0 54.5px,#0000f0 56.5px)"></div>
<div style="left:276px;top:28px;width:57px;height:1px;background:linear-gradient(90deg,#0000f0 0.5px,#0202f0 1.5px,#1111f1 2.5px,#8383f8 5.5px,#dfd9f7 7.5px,#f8d8dd 8.5px,#fcc4c4 9.5px,#faa4a4 14.5px,#faafaf 18.5px,#fbbcbc 20.5px,#fbc9ca 21.5px,#f0e0ed 22.5px,#c7c6fa 23.5px,#4545f4 26.5px,#2121f2 27.5px,#1616f1 28.5px,#3232f3 29.5px,#dad6f9 33.5px,#f8e2e8 34.5px,#fdd5d5 35.5px,#fbbdbd 41.5px,#fccece 46.5px,#fcd7d8 47.5px,#f0e5f2 48.5px,#c8c7fb 49.5px,#4747f4 52.5px,#2121f2 53.5px,#0707f0 54.5px,#0000f0 56.5px)"></div>
<div style="left:276px;top:29px;width:57px;height:1px;background:linear-gradient(90deg,#0000f0 0.5px,#0202f0 1.5px,#1111f1 2.5px,#8484f8 5.5px,#e0daf6 7.5px,#f8d5d9 8.5px,#fbbdbd 9.5px,#f99a9a 14.5px,#faa7a7 18.5px,#fbb4b4 20.5px,#fbc3c4 21.5px,#f1dfeb 22.5px,#c8c6fa 23.5px,#4545f4 26.5px,#2121f2 27.5px,#1616f1 28.5px,#3232f3 29.5px,#adadfa 32.5px,#dbd7f8 33.5px,#f8dee3 34.5px,#fccdcd 35.5px,#fab1b1 40.5px,#fbbaba 44.5px,#fbd0d1 47.5px,#f1e3ef 48.5px,#c9c7fa 49.5px,#4747f4 52.5px,#2121f2 53.5px,#0707f0 54.5px,#0000f0 56.5px)"></div>
<div style="left:276px;top:30px;width:57px;height:1px;background:linear-gradient(90deg,#0000f0 0.5px,#0202f0 1.5px,#1111f1 2.5px,#8484f8 5.5px,#e1daf5 7.5px,#f8d1d5 8.5px,#fbb7b7 9.5px,#f99191 14.5px,#f99797 17.5px,#faaeae 20.5px,#fabdbe 21.5px,#f1dde9 22.5px,#c8c6f9 23.5px,#6d6df6 25.5px,#2121f2 27.5px,#1616f1 28.5px,#3232f3 29.5px,#adadfa 32.5px,#dcd7f7 33.5px,#f8d9de 34.5px,#fcc5c5 35.5px,#faa5a5 40.5px,#faafaf 44.5px,#fbc9c9 47.5px,#f2e0ec 48.5px,#cac8fa 49.5px,#4747f4 52.5px,#2121f2 53.5px,#0707f0 54.5px,#0000f0 56.5px)"></div>
<div style="left:276px;top:31px;width:57px;height:1px;background:linear-gradient(90deg,#0000f0 0.5px,#0202f0 1.5px,#1111f1 2.5px,#8484f8 5.5px,#e2daf5 7.5px,#f8ced2 8.5px,#fab1b1 9.5px,#f88888 14.5px,#f88f8f 17.5px,#faa7a7 20.5px,#fab8b9 21.5px,#f2dbe7 22.5px,#c9c6f9 23.5px,#6d6df6 25.5px,#2121f2 27.5px,#1616f1 28.5px,#3232f3 29.5px,#adadfa 32.5px,#ddd7f6 33.5px,#f8d5da 34.5px,#fbbdbd 35.5px,#f99a9a 40.5px,#f99f9f 43.5px,#fbb3b3 46.5px,#fbc2c2 47.5px,#f2dee9 48.5px,#cbc9f9 49.5px,#6f6ff7 51.5px,#2121f2 53.5px,#0707f0 54.5px,#0000f0 56.5px)"></div>
<div style="left:276px;top:32px;width:57px;height:1px;background:linear-gradient(90deg,#0000f0 0.5px,#0202f0 1.5px,#1111f1 2.5px,#8484f8 5.5px,#e2daf4 7.5px,#f8cbcf 8.5px,#faacac 9.5px,#f88585 13.5px,#f88282 16.5px,#f9a1a1 20.5px,#fab4b4 21.5px,#f2dae5 22.5px,#c9c7f9 23.5px,#6d6df6 25.5px,#2121f2 27.5px,#1616f1 28.5px,#3232f3 29.5px,#aeaefa 32.5px,#ded7f6 33.5px,#f8d1d6 34.5px,#fbb6b6 35.5px,#f88f8f 40.5px,#f99595 43.5px,#faacac 46.5px,#fbbcbc 47.5px,#f3dce6 48.5px,#ccc9f9 49.5px,#6f6ff7 51.5px,#2121f2 53.5px,#0707f0 54.5px,#0000f0 56.5px)"></div>
<div style="left:276px;top:33px;width:57px;height:1px;background:linear-gradient(90deg,#0000f0 0.5px,#0202f0 1.5px,#1111f1 2.5px,#8484f8 5.5px,#e3d9f3 7.5px,#f8c8cc 8.5px,#faa7a7 9.5px,#f77f7f 13.5px,#f77b7b 16.5px,#f99c9c 20.5px,#fab0b0 21.5px,#f2d8e3 22.5px,#cac7f9 23.5px,#6d6df6 25.5px,#2121f2 27.5px,#1616f1 28.5px,#3232f3 29.5px,#aeaefa 32.5px,#dfd7f5 33.5px,#f8ced2 34.5px,#fab0b0 35.5px,#f88686 40.5px,#f88c8c 43.5px,#faa5a5 46.5px,#fab6b6 47.5px,#f3dae4 48.5px,#ccc9f9 49.5px,#6f6ff7 51.5px,#2121f2 53.5px,#0707f0 54.5px,#0000f0 56.5px)"></div>
<div style="left:276px;top:34px;width:57px;height:1px;background:linear-gradient(90deg,#0000f0 0.5px,#0202f0 1.5px,#1111f1 2.5px,#8484f8 5.5px,#b1b1fa 6.5px,#e3d9f2 7.5px,#f8c6c9 8.5px,#faa3a3 9.5px,#f77979 13.5px,#f77575 16.5px,#f99898 20.5px,#faacac 21.5px,#f3d7e1 22.5px,#cac7f9 23.5px,#6d6df6 25.5px,#2121f2 27.5px,#1616f1 28.5px,#3232f3 29.5px,#aeaefa 32.5px,#e0d7f4 33.5px,#f8cbcf 34.5px,#faabab 35.5px,#f88383 39.5px,#f77f7f 42.5px,#f99e9e 46.5px,#fab1b1 47.5px,#f4d9e2 48.5px,#cdcaf9 49.5px,#6f6ff7 51.5px,#2121f2 53.5px,#0707f0 54.5px,#0000f0 56.5px)"></div>
<div style="left:276px;top:35px;width:57px;height:1px;background:linear-gradient(90deg,#0000f0 0.5px,#0202f0 1.5px,#1111f1 2.5px,#8484f8 5.5px,#b1b1fa 6.5px,#e3d8f2 7.5px,#f8c4c7 8.5px,#f99f9f 9.5px,#f77373 13.5px,#f76f6f 16.5px,#f99494 20.5px,#faa9a9 21.5px,#f3d6e0 22.5px,#cbc7f8 23.5px,#6d6df6 25.5px,#2121f2 27.5px,#1616f1 28.5px,#3232f3 29.5px,#aeaefa 32.5px,#e0d8f4 33.5px,#f8c8cc 34.5px,#faa6a6 35.5px,#f77c7c 39.5px,#f77777 42.5px,#f99999 46.5px,#faadad 47.5px,#f4d7e0 48.5px,#cecaf8 49.5px,#6f6ff7 51.5px,#2121f2 53.5px,#0707f0 54.5px,#0000f0 56.5px)"></div>
<div style="left:276px;top:36px;width:57px;height:1px;background:linear-gradient(90deg,#0000f0 0.5px,#0202f0 1.5px,#1111f1 2.5px,#8484f8 5.5px,#b2b1fa 6.5px,#e4d8f1 7.5px,#f8c1c5 8.5px,#f99c9c 9.5px,#f66e6e 13.5px,#f66a6a 16.5px,#f89090 20.5px,#f9a6a6 21.5px,#f3d5df 22.5px,#cbc8f8 23.5px,#6d6df6 25.5px,#2121f2 27.5px,#1616f1 28.5px,#3232f3 29.5px,#afaffa 32.5px,#e1d7f3 33.5px,#f8c6ca 34.5px,#faa2a2 35.5px,#f77676 39.5px,#f77171 42.5px,#f99494 46.5px,#faa9a9 47.5px,#f4d6de 48.5px,#cecaf8 49.5px,#6f6ff7 51.5px,#2121f2 53.5px,#0707f0 54.5px,#0000f0 56.5px)"></div>
<div style="left:276px;top:37px;width:57px;height:1px;background:linear-gradient(90deg,#0000f0 0.5px,#0202f0 1.5px,#1111f1 2.5px,#8484f8 5.5px,#b2b1fa 6.5px,#e4d8f0 7.5px,#f8bfc3 8.5px,#f99999 9.5px,#f66969 13.5px,#f66565 16.5px,#f88c8c 20.5px,#f9a3a3 21.5px,#f3d4dd 22.5px,#cbc8f8 23.5px,#6d6df6 25.5px,#2121f2 27.5px,#1616f1 28.5px,#3232f3 29.5px,#afaffa 32.5px,#e1d7f3 33.5px,#f8c4c7 34.5px,#f99e9e 35.5px,#f77070 39.5px,#f66b6b 42.5px,#f89090 46.5px,#faa5a5 47.5px,#f5d5dd 48.5px,#cfcbf8 49.5px,#6f6ff7 51.5px,#2121f2 53.5px,#0707f0 54.5px,#0000f0 56.5px)"></div>
<div style="left:276px;top:38px;width:57px;height:1px;background:linear-gradient(90deg,#0000f0 0.5px,#0202f0 1.5px,#1111f1 2.5px,#8484f8 5.5px,#b2b1fa 6.5px,#e4d7f0 7.5px,#f8bec1 8.5px,#f99595 9.5px,#f66565 13.5px,#f66161 16.5px,#f88888 20.5px,#f9a0a0 21.5px,#f3d3dc 22.5px,#ccc8f8 23.5px,#6d6df6 25.5px,#2121f2 27.5px,#1616f1 28.5px,#3232f3 29.5px,#afaffa 32.5px,#e1d7f2 33.5px,#f8c2c5 34.5px,#f99a9a 35.5px,#f66b6b 39.5px,#f66666 42.5px,#f88c8c 46.5px,#faa2a2 47.5px,#f5d4db 48.5px,#cfcbf8 49.5px,#6f6ff7 51.5px,#2121f2 53.5px,#0707f0 54.5px,#0000f0 56.5px)"></div>
<div style="left:276px;top:39px;width:57px;height:1px;background:linear-gradient(90deg,#0000f0 0.5px,#0202f0 1.5px,#1111f1 2.5px,#8484f8 5.5px,#b2b1fa 6.5px,#e4d7ef 7.5px,#f8bcbf 8.5px,#f99292 9.5px,#f66a6a 12.5px,#f55959 15.5px,#f66e6e 18.5px,#f88585 20.5px,#f99d9d 21.5px,#f4d3db 22.5px,#ccc8f8 23.5px,#6d6df6 25.5px,#2121f2 27.5px,#1616f1 28.5px,#3232f3 29.5px,#afaffa 32.5px,#e2d6f1 33.5px,#f8c0c3 34.5px,#f99797 35.5px,#f77070 38.5px,#f65e5e 41.5px,#f77272 44.5px,#f88888 46.5px,#f99f9f 47.5px,#f5d2da 48.5px,#cfcbf7 49.5px,#6f6ff7 51.5px,#2121f2 53.5px,#0707f0 54.5px,#0000f0 56.5px)"></div>
<div style="left:276px;top:40px;width:57px;height:1px;background:linear-gradient(90deg,#0000f0 0.5px,#0202f0 1.5px,#1111f1 2.5px,#8484f8 5.5px,#b2b1fa 6.5px,#e5d7ef 7.5px,#f8babd 8.5px,#f89090 9.5px,#f66666 12.5px,#f55555 15.5px,#f66b6b 18.5px,#f88282 20.5px,#f99b9b 21.5px,#f4d2da 22.5px,#ccc8f8 23.5px,#6d6df6 25.5px,#2121f2 27.5px,#1616f1 28.5px,#3232f3 29.5px,#afaffa 32.5px,#e2d6f1 33.5px,#f8bec1 34.5px,#f99494 35.5px,#f66b6b 38.5px,#f55959 41.5px,#f66d6d 44.5px,#f88484 46.5px,#f99c9c 47.5px,#f5d1d8 48.5px,#d0cbf7 49.5px,#6f6ff7 51.5px,#2121f2 53.5px,#0707f0 54.5px,#0000f0 56.5px)"></div>
<div style="left:276px;top:41px;width:57px;height:1px;background:linear-gradient(90deg,#0000f0 0.5px,#0202f0 1.5px,#1111f1 2.5px,#8484f8 5.5px,#b2b1fa 6.5px,#e5d7ee 7.5px,#f8b9bb 8.5px,#f88d8d 9.5px,#f66363 12.5px,#f55050 15.5px,#f66767 18.5px,#f77f7f 20.5px,#f99898 21.5px,#f4d1d9 22.5px,#cdc8f7 23.5px,#6d6df6 25.5px,#2121f2 27.5px,#1616f1 28.5px,#3232f3 29.5px,#afaffa 32.5px,#e2d6f0 33.5px,#f8bcbf 34.5px,#f99191 35.5px,#f66767 38.5px,#f55454 41.5px,#f66969 44.5px,#f88181 46.5px,#f99999 47.5px,#f5cfd7 48.5px,#d0cbf7 49.5px,#6f6ff7 51.5px,#2121f2 53.5px,#0707f0 54.5px,#0000f0 56.5px)"></div>
<div style="left:276px;top:42px;width:57px;height:1px;background:linear-gradient(90deg,#0000f0 0.5px,#0202f0 1.5px,#1111f1 2.5px,#8484f8 5.5px,#b2b2fa 6.5px,#e5d6ee 7.5px,#f8b7ba 8.5px,#f88b8b 9.5px,#f65f5f 12.5px,#f54d4d 15.5px,#f66464 18.5px,#f77c7c 20.5px,#f99696 21.5px,#f4d0d8 22.5px,#cdc8f7 23.5px,#6d6df6 25.5px,#2121f2 27.5px,#1616f1 28.5px,#3232f3 29.5px,#afaffa 32.5px,#e2d5f0 33.5px,#f8babd 34.5px,#f88e8e 35.5px,#f66363 38.5px,#f55050 41.5px,#f66565 44.5px,#f77d7d 46.5px,#f99696 47.5px,#f5ced5 48.5px,#d0cbf7 49.5px,#6f6ff7 51.5px,#2121f2 53.5px,#0707f0 54.5px,#0000f0 56.5px)"></div>
<div style="left:276px;top:43px;width:57px;height:1px;background:linear-gradient(90deg,#0000f0 0.5px,#0202f0 1.5px,#1111f1 2.5px,#8484f8 5.5px,#b2b2fa 6.5px,#e5d6ee 7.5px,#f8b6b9 8.5px,#f88888 9.5px,#f55c5c 12.5px,#f44a4a 15.5px,#f66161 18.5px,#f77a7a 20.5px,#f99494 21.5px,#f4cfd7 22.5px,#cdc8f7 23.5px,#6d6df6 25.5px,#2121f2 27.5px,#1616f1 28.5px,#3232f3 29.5px,#afaffa 32.5px,#e2d5ef 33.5px,#f7b8bc 34.5px,#f88b8b 35.5px,#f65f5f 38.5px,#f44c4c 41.5px,#f66262 44.5px,#f77a7a 46.5px,#f99494 47.5px,#f5cdd4 48.5px,#d1cbf7 49.5px,#6f6ff7 51.5px,#2121f2 53.5px,#0707f0 54.5px,#0000f0 56.5px)"></div>
<div style="left:276px;top:44px;width:57px;height:1px;background:linear-gradient(90deg,#0000f0 0.5px,#0202f0 1.5px,#1111f1 2.5px,#8484f8 5.5px,#b2b2fa 6.5px,#e5d6ed 7.5px,#f8b5b8 8.5px,#f88787 9.5px,#f55a5a 12.5px,#f44747 15.5px,#f65f5f 18.5px,#f77878 20.5px,#f99292 21.5px,#f4ced6 22.5px,#cdc8f7 23.5px,#6d6df6 25.5px,#2121f2 27.5px,#1616f1 28.5px,#3232f3 29.5px,#afaffa 32.5px,#e2d5ef 33.5px,#f7b7bb 34.5px,#f88989 35.5px,#f55c5c 38.5px,#f44848 41.5px,#f65f5f 44.5px,#f77878 46.5px,#f99191 47.5px,#f5ccd3 48.5px,#d1cbf6 49.5px,#6f6ff7 51.5px,#2121f2 53.5px,#0707f0 54.5px,#0000f0 56.5px)"></div>
<div style="left:276px;top:45px;width:57px;height:1px;background:linear-gradient(90deg,#0000f0 0.5px,#0202f0 1.5px,#1111f1 2.5px,#8484f8 5.5px,#b2b2fa 6.5px,#e5d6ed 7.5px,#f8b4b7 8.5px,#f88585 9.5px,#f55858 12.5px,#f44545 15.5px,#f55d5d 18.5px,#f77777 20.5px,#f99191 21.5px,#f4ced6 22.5px,#cdc8f7 23.5px,#6d6df6 25.5px,#2121f2 27.5px,#1616f1 28.5px,#3232f3 29.5px,#afaffa 32.5px,#e3d5ef 33.5px,#f7b6ba 34.5px,#f88787 35.5px,#f55a5a 38.5px,#f44646 41.5px,#f55d5d 44.5px,#f77676 46.5px,#f89090 47.5px,#f5cbd2 48.5px,#d1cbf6 49.5px,#6f6ff7 51.5px,#2121f2 53.5px,#0707f0 54.5px,#0000f0 56.5px)"></div>
<div style="left:276px;top:46px;width:57px;height:2px;background:linear-gradient(90deg,#0000f0 0.5px,#0202f0 1.5px,#1111f1 2.5px,#8484f8 5.5px,#b2b2fa 6.5px,#e5d6ed 7.5px,#f8b4b6 8.5px,#f88585 9.5px,#f55757 12.5px,#f44444 15.5px,#f55c5c 18.5px,#f77676 20.5px,#f99191 21.5px,#f4ced6 22.5px,#cdc8f7 23.5px,#6d6df6 25.5px,#2121f2 27.5px,#1616f1 28.5px,#3232f3 29.5px,#afaffa 32.5px,#e3d5ef 33.5px,#f7b6b9 34.5px,#f88686 35.5px,#f55959 38.5px,#f44444 41.5px,#f55b5b 44.5px,#f77575 46.5px,#f88f8f 47.5px,#f5cbd2 48.5px,#d1cbf6 49.5px,#6f6ff7 51.5px,#2121f2 53.5px,#0707f0 54.5px,#0000f0 56.5px)"></div>
<div style="left:276px;top:48px;width:57px;height:1px;background:linear-gradient(90deg,#0000f0 0.5px,#0202f0 1.5px,#1111f1 2.5px,#8484f8 5.5px,#b2b2fa 6.5px,#e5d6ed 7.5px,#f8b4b7 8.5px,#f88585 9.5px,#f55858 12.5px,#f44545 15.5px,#f55d5d 18.5px,#f77777 20.5px,#f99191 21.5px,#f4ced6 22.5px,#cdc8f7 23.5px,#6d6df6 25.5px,#2121f2 27.5px,#1616f1 28.5px,#3232f3 29.5px,#afaffa 32.5px,#e3d5ef 33.5px,#f7b6b9 34.5px,#f88787 35.5px,#f55a5a 38.5px,#f44545 41.5px,#f55c5c 44.5px,#f77676 46.5px,#f89090 47.5px,#f5cbd2 48.5px,#d1cbf6 49.5px,#6f6ff7 51.5px,#2121f2 53.5px,#0707f0 54.5px,#0000f0 56.5px)"></div>
<div style="left:276px;top:49px;width:57px;height:1px;background:linear-gradient(90deg,#0000f0 0.5px,#0202f0 1.5px,#1111f1 2.5px,#8484f8 5.5px,#b2b2fa 6.5px,#e5d6ed 7.5px,#f8b5b8 8.5px,#f88787 9.5px,#f55a5a 12.5px,#f44747 15.5px,#f65f5f 18.5px,#f77878 20.5px,#f99393 21.5px,#f4ced7 22.5px,#cdc8f7 23.5px,#6d6df6 25.5px,#2121f2 27.5px,#1616f1 28.5px,#3232f3 29.5px,#afaffa 32.5px,#e2d5ef 33.5px,#f7b7bb 34.5px,#f88989 35.5px,#f55c5c 38.5px,#f44848 41.5px,#f65f5f 44.5px,#f77878 46.5px,#f99292 47.5px,#f5ccd3 48.5px,#d1cbf6 49.5px,#6f6ff7 51.5px,#2121f2 53.5px,#0707f0 54.5px,#0000f0 56.5px)"></div>
<div style="left:276px;top:50px;width:57px;height:1px;background:linear-gradient(90deg,#0000f0 0.5px,#0202f0 1.5px,#1111f1 2.5px,#8484f8 5.5px,#b2b2fa 6.5px,#e5d6ee 7.5px,#f8b6b9 8.5px,#f88989 9.5px,#f55d5d 12.5px,#f44b4b 15.5px,#f66262 18.5px,#f77b7b 20.5px,#f99595 21.5px,#f4cfd7 22.5px,#cdc8f7 23.5px,#6d6df6 25.5px,#2121f2 27.5px,#1616f1 28.5px,#3232f3 29.5px,#afaffa 32.5px,#e2d5f0 33.5px,#f7b9bc 34.5px,#f88c8c 35.5px,#f66161 38.5px,#f54d4d 41.5px,#f66363 44.5px,#f77b7b 46.5px,#f99494 47.5px,#f5cdd5 48.5px,#d0cbf7 49.5px,#6f6ff7 51.5px,#2121f2 53.5px,#0707f0 54.5px,#0000f0 56.5px)"></div>
<div style="left:276px;top:51px;width:57px;height:1px;background:linear-gradient(90deg,#0000f0 0.5px,#0202f0 1.5px,#1111f1 2.5px,#8484f8 5.5px,#b2b1fa 6.5px,#e5d7ee 7.5px,#f8b8bb 8.5px,#f88c8c 9.5px,#f66161 12.5px,#f54f4f 15.5px,#f66666 18.5px,#f77e7e 20.5px,#f99898 21.5px,#f4d1d9 22.5px,#cdc8f7 23.5px,#6d6df6 25.5px,#2121f2 27.5px,#1616f1 28.5px,#3232f3 29.5px,#afaffa 32.5px,#e2d6f0 33.5px,#f8bbbf 34.5px,#f89090 35.5px,#f66666 38.5px,#f55353 41.5px,#f66868 44.5px,#f88080 46.5px,#f99898 47.5px,#f5cfd6 48.5px,#d0cbf7 49.5px,#6f6ff7 51.5px,#2121f2 53.5px,#0707f0 54.5px,#0000f0 56.5px)"></div>
<div style="left:276px;top:52px;width:57px;height:1px;background:linear-gradient(90deg,#0000f0 0.5px,#0202f0 1.5px,#1111f1 2.5px,#8484f8 5.5px,#b2b1fa 6.5px,#e5d7ef 7.5px,#f8babd 8.5px,#f89090 9.5px,#f66767 12.5px,#f55555 15.5px,#f66b6b 18.5px,#f88282 20.5px,#f99b9b 21.5px,#f4d2da 22.5px,#ccc8f8 23.5px,#6d6df6 25.5px,#2121f2 27.5px,#1616f1 28.5px,#3232f3 29.5px,#afaffa 32.5px,#e2d6f1 33.5px,#f8bec2 34.5px,#f99595 35.5px,#f66d6d 38.5px,#f55b5b 41.5px,#f76f6f 44.5px,#f88686 46.5px,#f99d9d 47.5px,#f5d1d9 48.5px,#d0cbf7 49.5px,#6f6ff7 51.5px,#2121f2 53.5px,#0707f0 54.5px,#0000f0 56.5px)"></div>
<div style="left:276px;top:53px;width:57px;height:1px;background:linear-gradient(90deg,#0000f0 0.5px,#0202f0 1.5px,#1111f1 2.5px,#8484f8 5.5px,#b2b1fa 6.5px,#e4d7f0 7.5px,#f8bdc0 8.5px,#f99494 9.5px,#f66363 13.5px,#f65f5f 16.5px,#f88787 20.5px,#f99f9f 21.5px,#f4d3dc 22.5px,#ccc8f8 23.5px,#6d6df6 25.5px,#2121f2 27.5px,#1616f1 28.5px,#3232f3 29.5px,#afaffa 32.5px,#e1d7f2 33.5px,#f8c2c6 34.5px,#f99b9b 35.5px,#f66c6c 39.5px,#f66767 42.5px,#f88d8d 46.5px,#faa3a3 47.5px,#f5d4dc 48.5px,#cfcbf8 49.5px,#6f6ff7 51.5px,#2121f2 53.5px,#0707f0 54.5px,#0000f0 56.5px)"></div>
<div style="left:276px;top:54px;width:57px;height:1px;background:linear-gradient(90deg,#0000f0 0.5px,#0202f0 1.5px,#1111f1 2.5px,#8484f8 5.5px,#b2b1fa 6.5px,#e4d8f1 7.5px,#f8c0c3 8.5px,#f99a9a 9.5px,#f66b6b 13.5px,#f66767 16.5px,#f88d8d 20.5px,#f9a4a4 21.5px,#f3d5de 22.5px,#cbc8f8 23.5px,#6d6df6 25.5px,#2121f2 27.5px,#1616f1 28.5px,#3232f3 29.5px,#afaffa 32.5px,#e1d7f3 33.5px,#f8c6ca 34.5px,#faa2a2 35.5px,#f77676 39.5px,#f77171 42.5px,#f99494 46.5px,#faa9a9 47.5px,#f4d6de 48.5px,#cecaf8 49.5px,#6f6ff7 51.5px,#2121f2 53.5px,#0707f0 54.5px,#0000f0 56.5px)"></div>
<div style="left:276px;top:55px;width:57px;height:1px;background:linear-gradient(90deg,#0000f0 0.5px,#0202f0 1.5px,#1111f1 2.5px,#8484f8 5.5px,#b1b1fa 6.5px,#e3d8f2 7.5px,#f8c4c7 8.5px,#f9a0a0 9.5px,#f77474 13.5px,#f77070 16.5px,#f99494 20.5px,#faa9a9 21.5px,#f3d6e0 22.5px,#cbc7f8 23.5px,#6d6df6 25.5px,#2121f2 27.5px,#1616f1 28.5px,#3232f3 29.5px,#aeaefa 32.5px,#e0d7f4 33.5px,#f8cacf 34.5px,#faaaaa 35.5px,#f88181 39.5px,#f77d7d 42.5px,#f99d9d 46.5px,#fab0b0 47.5px,#f4d9e1 48.5px,#cdcaf8 49.5px,#6f6ff7 51.5px,#2121f2 53.5px,#0707f0 54.5px,#0000f0 56.5px)"></div>
<div style="left:276px;top:56px;width:57px;height:1px;background:linear-gradient(90deg,#0000f0 0.5px,#0202f0 1.5px,#1111f1 2.5px,#8484f8 5.5px,#e3d9f3 7.5px,#f8c8cb 8.5px,#faa6a6 9.5px,#f77d7d 13.5px,#f77a7a 16.5px,#f99b9b 20.5px,#faafaf 21.5px,#f2d8e3 22.5px,#cac7f9 23.5px,#6d6df6 25.5px,#2121f2 27.5px,#1616f1 28.5px,#3232f3 29.5px,#aeaefa 32.5px,#dfd7f5 33.5px,#f8cfd4 34.5px,#fab2b2 35.5px,#f88989 40.5px,#f88f8f 43.5px,#faa7a7 46.5px,#fab8b8 47.5px,#f3dbe5 48.5px,#ccc9f9 49.5px,#6f6ff7 51.5px,#2121f2 53.5px,#0707f0 54.5px,#0000f0 56.5px)"></div>
<div style="left:276px;top:57px;width:57px;height:1px;background:linear-gradient(90deg,#0000f0 0.5px,#0202f0 1.5px,#1111f1 2.5px,#8484f8 5.5px,#e2daf4 7.5px,#f8cccf 8.5px,#faadad 9.5px,#f88787 13.5px,#f88484 16.5px,#faa3a3 20.5px,#fab5b6 21.5px,#f2dae5 22.5px,#c9c7f9 23.5px,#6d6df6 25.5px,#2121f2 27.5px,#1616f1 28.5px,#3232f3 29.5px,#adadfa 32.5px,#ded7f6 33.5px,#f8d4d9 34.5px,#fbbbbb 35.5px,#f99797 40.5px,#f99c9c 43.5px,#fab1b1 46.5px,#fbc0c1 47.5px,#f2dee8 48.5px,#cbc9f9 49.5px,#6f6ff7 51.5px,#2121f2 53.5px,#0707f0 54.5px,#0000f0 56.5px)"></div>
<div style="left:276px;top:58px;width:57px;height:1px;background:linear-gradient(90deg,#0000f0 0.5px,#0202f0 1.5px,#1111f1 2.5px,#8484f8 5.5px,#e1daf5 7.5px,#f8d0d4 8.5px,#fbb5b5 9.5px,#f88e8e 14.5px,#f99595 17.5px,#faacac 20.5px,#fabcbd 21.5px,#f1dce8 22.5px,#c9c6f9 23.5px,#6d6df6 25.5px,#2121f2 27.5px,#1616f1 28.5px,#3232f3 29.5px,#adadfa 32.5px,#dcd7f7 33.5px,#f8d9de 34.5px,#fcc4c4 35.5px,#faa5a5 40.5px,#faafaf 44.5px,#fbc8c9 47.5px,#f2e0ec 48.5px,#cac8fa 49.5px,#4747f4 52.5px,#2121f2 53.5px,#0707f0 54.5px,#0000f0 56.5px)"></div>
<div style="left:276px;top:59px;width:57px;height:1px;background:linear-gradient(90deg,#0000f0 0.5px,#0202f0 1.5px,#1111f1 2.5px,#8484f8 5.5px,#e0daf6 7.5px,#f8d5d9 8.5px,#fbbdbd 9.5px,#f99a9a 14.5px,#faa7a7 18.5px,#fbb4b4 20.5px,#fbc3c4 21.5px,#f1dfeb 22.5px,#c8c6fa 23.5px,#4545f4 26.5px,#2121f2 27.5px,#1616f1 28.5px,#3232f3 29.5px,#dbd6f8 33.5px,#f8dee4 34.5px,#fccece 35.5px,#fbb3b3 40.5px,#fbbcbc 44.5px,#fbd1d2 47.5px,#f1e3ef 48.5px,#c9c7fa 49.5px,#4747f4 52.5px,#2121f2 53.5px,#0707f0 54.5px,#0000f0 56.5px)"></div>
<div style="left:276px;top:60px;width:57px;height:1px;background:linear-gradient(90deg,#0000f0 0.5px,#0202f0 1.5px,#1111f1 2.5px,#8383f8 5.5px,#dfd9f7 7.5px,#f8d9de 8.5px,#fcc5c5 9.5px,#faa6a6 14.5px,#fab1b1 18.5px,#fbbdbd 20.5px,#fbcacb 21.5px,#f0e1ee 22.5px,#c7c5fa 23.5px,#4545f4 26.5px,#2121f2 27.5px,#1616f1 28.5px,#3232f3 29.5px,#b2b1f9 32.5px,#dfd4f2 33.5px,#f8d3d8 34.5px,#fbbebe 35.5px,#faa2a2 38.5px,#f99c9c 42.5px,#fbb3b3 46.5px,#fac2c3 47.5px,#f2d8e4 48.5px,#cec9f7 49.5px,#4848f4 52.5px,#2121f2 53.5px,#0707f0 54.5px,#0000f0 56.5px)"></div>
<div style="left:276px;top:61px;width:57px;height:1px;background:linear-gradient(90deg,#0000f0 0.5px,#0202f0 1.5px,#1111f1 2.5px,#8383f8 5.5px,#ded9f8 7.5px,#f8dee3 8.5px,#fccdcd 9.5px,#fbb3b3 14.5px,#fbc1c1 19.5px,#fbd1d2 21.5px,#efe3f1 22.5px,#c6c5fa 23.5px,#4545f4 26.5px,#2121f2 27.5px,#1616f1 28.5px,#3232f3 29.5px,#8e8ef8 31.5px,#c5c1f7 32.5px,#efcedb 33.5px,#f89d9e 34.5px,#f66c6c 35.5px,#f44b4b 36.5px,#f22a2a 38.5px,#f22323 42.5px,#f32c2c 44.5px,#f55050 46.5px,#f77676 47.5px,#f7adb0 48.5px,#e5d1e9 49.5px,#b1aff9 50.5px,#4a4af4 52.5px,#2222f2 53.5px,#0707f0 54.5px,#0000f0 56.5px)"></div>
<div style="left:276px;top:62px;width:57px;height:1px;background:linear-gradient(90deg,#0000f0 0.5px,#0202f0 1.5px,#1111f1 2.5px,#8484f8 5.5px,#ded8f6 7.5px,#f8dde1 8.5px,#fccdcd 9.5px,#fab2b2 14.5px,#fbc0c0 19.5px,#fbd1d2 21.5px,#efe0ee 22.5px,#c7c5fa 23.5px,#4545f4 26.5px,#2121f2 27.5px,#1616f1 28.5px,#3232f3 29.5px,#9090f8 31.5px,#cbc5f6 32.5px,#f4ccd4 33.5px,#f88d8d 34.5px,#f55454 35.5px,#f32e2e 36.5px,#f11515 37.5px,#f00202 39.5px,#f00303 43.5px,#f11919 45.5px,#f33434 46.5px,#f66060 47.5px,#f8a1a2 48.5px,#ebd4e5 49.5px,#b6b4f9 50.5px,#7b7bf7 51.5px,#2222f2 53.5px,#0707f0 54.5px,#0000f0 56.5px)"></div>
<div style="left:276px;top:63px;width:57px;height:1px;background:linear-gradient(90deg,#0000f0 0.5px,#0202f0 1.5px,#1111f1 2.5px,#5d5df5 4.5px,#bbb9f8 6.5px,#e5d2e9 7.5px,#f8c1c4 8.5px,#faa5a5 9.5px,#f88787 11.5px,#f77979 15.5px,#f88282 18.5px,#f99898 20.5px,#f9aeaf 21.5px,#f2cdd7 22.5px,#d2caf4 23.5px,#7171f7 25.5px,#2222f2 27.5px,#1616f1 28.5px,#3232f3 29.5px,#9090f8 31.5px,#cbc5f6 32.5px,#f4ccd5 33.5px,#f88e8e 34.5px,#f55555 35.5px,#f32f2f 36.5px,#f11616 37.5px,#f00404 39.5px,#f00404 43.5px,#f21a1a 45.5px,#f33535 46.5px,#f66161 47.5px,#f8a1a3 48.5px,#ebd4e5 49.5px,#b6b4f9 50.5px,#7b7bf7 51.5px,#2222f2 53.5px,#0707f0 54.5px,#0000f0 56.5px)"></div>
<div style="left:276px;top:64px;width:57px;height:1px;background:linear-gradient(90deg,#0000f0 0.5px,#0202f0 1.5px,#1111f1 2.5px,#5f5ff6 4.5px,#cac5f6 6.5px,#f1cdd7 7.5px,#f89999 8.5px,#f66868 9.5px,#f44848 10.5px,#f22a2a 12.5px,#f22626 17.5px,#f33b3b 19.5px,#f55454 20.5px,#f77a7a 21.5px,#f7b2b6 22.5px,#e3d3ec 23.5px,#aeacf9 24.5px,#4747f4 26.5px,#2222f2 27.5px,#1616f1 28.5px,#3232f3 29.5px,#9090f8 31.5px,#cac5f7 32.5px,#f3ced7 33.5px,#f99393 34.5px,#f55c5c 35.5px,#f33737 36.5px,#f21f1f 37.5px,#f10d0d 39.5px,#f10e0e 43.5px,#f22323 45.5px,#f43d3d 46.5px,#f66767 47.5px,#f8a5a7 48.5px,#ead5e7 49.5px,#b5b3f9 50.5px,#4a4af4 52.5px,#2222f2 53.5px,#0707f0 54.5px,#0000f0 56.5px)"></div>
<div style="left:276px;top:65px;width:57px;height:1px;background:linear-gradient(90deg,#0000f0 0.5px,#0202f0 1.5px,#1111f1 2.5px,#5f5ff6 4.5px,#ccc7f7 6.5px,#f4cfd7 7.5px,#f99696 8.5px,#f66464 9.5px,#f44343 10.5px,#f32e2e 11.5px,#f21e1e 13.5px,#f22020 17.5px,#f33535 19.5px,#f54e4e 20.5px,#f77777 21.5px,#f8b1b4 22.5px,#e6d5ec 23.5px,#afaef9 24.5px,#4848f4 26.5px,#2222f2 27.5px,#1616f1 28.5px,#3232f3 29.5px,#8f8ff8 31.5px,#c8c4f7 32.5px,#f2d1db 33.5px,#f99b9b 34.5px,#f66868 35.5px,#f44545 36.5px,#f32f2f 37.5px,#f21f1f 39.5px,#f21f1f 43.5px,#f33333 45.5px,#f44b4b 46.5px,#f77272 47.5px,#f8acae 48.5px,#e9d6ea 49.5px,#b3b2f9 50.5px,#4a4af4 52.5px,#2222f2 53.5px,#0707f0 54.5px,#0000f0 56.5px)"></div>
<div style="left:276px;top:66px;width:57px;height:1px;background:linear-gradient(90deg,#0000f0 0.5px,#0202f0 1.5px,#1111f1 2.5px,#5f5ff6 4.5px,#c9c5f7 6.5px,#f3d3dc 7.5px,#f9a0a0 8.5px,#f77171 9.5px,#f55353 10.5px,#f33636 12.5px,#f33333 17.5px,#f44646 19.5px,#f55d5d 20.5px,#f88383 21.5px,#f8b9bc 22.5px,#e4d6ef 23.5px,#adadfa 24.5px,#4747f4 26.5px,#2222f2 27.5px,#1616f1 28.5px,#3232f3 29.5px,#8e8ef8 31.5px,#c6c2f8 32.5px,#f1d4e0 33.5px,#f9a4a4 34.5px,#f77575 35.5px,#f55555 36.5px,#f33636 38.5px,#f33232 43.5px,#f44444 45.5px,#f55b5b 46.5px,#f77f7f 47.5px,#f8b4b7 48.5px,#e6d6ed 49.5px,#b1b0f9 50.5px,#4a4af4 52.5px,#2222f2 53.5px,#0707f0 54.5px,#0000f0 56.5px)"></div>
<div style="left:276px;top:67px;width:57px;height:1px;background:linear-gradient(90deg,#0000f0 0.5px,#0202f0 1.5px,#1111f1 2.5px,#5f5ff6 4.5px,#c7c4f8 6.5px,#f2d6e1 7.5px,#f9a9a9 8.5px,#f77f7f 9.5px,#f66363 10.5px,#f44949 12.5px,#f44646 17.5px,#f55757 19.5px,#f66d6d 20.5px,#f88f8f 21.5px,#f8c0c3 22.5px,#e2d6f1 23.5px,#ababfa 24.5px,#4747f4 26.5px,#2222f2 27.5px,#1616f1 28.5px,#3232f3 29.5px,#8c8cf8 31.5px,#c3c1f9 32.5px,#f0d7e4 33.5px,#f9adad 34.5px,#f88282 35.5px,#f66565 36.5px,#f44949 38.5px,#f44646 43.5px,#f55656 45.5px,#f66a6a 46.5px,#f88b8b 47.5px,#f8bcbf 48.5px,#e4d7ef 49.5px,#afaefa 50.5px,#4949f4 52.5px,#2222f2 53.5px,#0707f0 54.5px,#0000f0 56.5px)"></div>
<div style="left:276px;top:68px;width:57px;height:1px;background:linear-gradient(90deg,#0000f0 0.5px,#0202f0 1.5px,#1111f1 2.5px,#5e5ef6 4.5px,#c5c2f9 6.5px,#f1d9e5 7.5px,#fab0b1 8.5px,#f88a8a 9.5px,#f66060 11.5px,#f55454 14.5px,#f55b5b 18.5px,#f77979 20.5px,#f99999 21.5px,#f8c6ca 22.5px,#e0d7f3 23.5px,#7474f7 25.5px,#2222f2 27.5px,#1616f1 28.5px,#3232f3 29.5px,#8b8bf8 31.5px,#c2c0f9 32.5px,#efdae7 33.5px,#fab4b5 34.5px,#f88d8d 35.5px,#f66262 37.5px,#f55454 40.5px,#f55a5a 44.5px,#f77777 46.5px,#f99595 47.5px,#f8c2c5 48.5px,#e3d7f2 49.5px,#adadfa 50.5px,#4949f4 52.5px,#2222f2 53.5px,#0707f0 54.5px,#0000f0 56.5px)"></div>
<div style="left:202px;top:75px;width:57px;height:1px;background:linear-gradient(90deg,#0000f0 0.5px,#0707f0 2.5px,#6666f6 7.5px,#b8b8fb 10.5px,#bfbffb 13.5px,#bcbcfb 19.5px,#acacfa 20.5px,#5a5af5 23.5px,#0f0ff1 27.5px,#0909f1 28.5px,#3b3bf3 31.5px,#7e7ef7 34.5px,#b7b7fb 36.5px,#bfbffb 39.5px,#bdbdfb 45.5px,#adadfa 46.5px,#5b5bf5 49.5px,#0e0ef1 53.5px,#0000f0 55.5px,#0000f0 56.5px)"></div>
<div style="left:202px;top:76px;width:57px;height:1px;background:linear-gradient(90deg,#0000f0 0.5px,#0707f0 2.5px,#6666f6 7.5px,#b8b8fb 10.5px,#bfbffb 14.5px,#bcbcfb 19.5px,#acacfa 20.5px,#5a5af5 23.5px,#0f0ff1 27.5px,#0909f1 28.5px,#3b3bf3 31.5px,#7e7ef7 34.5px,#b7b7fb 36.5px,#bfbffb 39.5px,#bdbdfb 45.5px,#adadfa 46.5px,#5b5bf5 49.5px,#0e0ef1 53.5px,#0000f0 55.5px,#0000f0 56.5px)"></div>
<div style="left:202px;top:77px;width:57px;height:1px;background:linear-gradient(90deg,#0000f0 0.5px,#0707f0 2.5px,#6666f6 7.5px,#b8b8fb 10.5px,#c2c2fb 14.5px,#bcbcfb 19.5px,#acacfa 20.5px,#5a5af5 23.5px,#0f0ff1 27.5px,#0909f1 28.5px,#3b3bf3 31.5px,#7e7ef7 34.5px,#b7b7fb 36.5px,#c1c1fb 39.5px,#bdbdfb 45.5px,#adadfa 46.5px,#5b5bf5 49.5px,#0e0ef1 53.5px,#0000f0 55.5px,#0000f0 56.5px)"></div>
<div style="left:202px;top:78px;width:57px;height:1px;background:linear-gradient(90deg,#0000f0 0.5px,#0707f0 2.5px,#6666f6 7.5px,#b9b9fb 10.5px,#cbcbfc 14.5px,#bdbdfb 19.5px,#acacfa 20.5px,#5a5af5 23.5px,#0f0ff1 27.5px,#0909f1 28.5px,#3b3bf3 31.5px,#7e7ef7 34.5px,#b8b8fb 36.5px,#cacafc 40.5px,#bebefb 45.5px,#adadfa 46.5px,#5b5bf5 49.5px,#0e0ef1 53.5px,#0000f0 55.5px,#0000f0 56.5px)"></div>
<div style="left:202px;top:79px;width:57px;height:1px;background:linear-gradient(90deg,#0000f0 0.5px,#0707f0 2.5px,#6666f6 7.5px,#bebefb 10.5px,#d1d1fc 12.5px,#d4d4fc 16.5px,#c1c1fb 19.5px,#adadfa 20.5px,#5a5af5 23.5px,#0f0ff1 27.5px,#0909f1 28.5px,#3b3bf3 31.5px,#7e7ef7 34.5px,#bbbbfb 36.5px,#cfcffc 38.5px,#d6d6fd 42.5px,#c4c4fc 45.5px,#afaffa 46.5px,#5b5bf5 49.5px,#0e0ef1 53.5px,#0000f0 55.5px,#0000f0 56.5px)"></div>
<div style="left:202px;top:80px;width:57px;height:1px;background:linear-gradient(90deg,#0000f0 0.5px,#0707f0 2.5px,#6767f6 7.5px,#c9c9fc 10.5px,#dedefd 12.5px,#e1e1fd 16.5px,#cbcbfc 19.5px,#b2b2fa 20.5px,#7171f7 22.5px,#1f1ff2 26.5px,#0f0ff1 27.5px,#0909f1 28.5px,#3b3bf3 31.5px,#8080f8 34.5px,#c4c4fc 36.5px,#dbdbfd 38.5px,#e3e3fd 42.5px,#cfcffc 45.5px,#b7b7fb 46.5px,#7373f7 48.5px,#1f1ff2 52.5px,#0303f0 54.5px,#0000f0 56.5px)"></div>
<div style="left:202px;top:81px;width:57px;height:1px;background:linear-gradient(90deg,#0000f0 0.5px,#0707f0 2.5px,#5050f5 6.5px,#6969f6 7.5px,#d6d6fd 10.5px,#ebeafe 12.5px,#eeeefd 16.5px,#d7d7fd 19.5px,#bdbdfb 20.5px,#7373f7 22.5px,#1f1ff2 26.5px,#0f0ff1 27.5px,#0909f1 28.5px,#3b3bf3 31.5px,#6666f6 33.5px,#d1d1fc 36.5px,#e8e8fe 38.5px,#efeffd 42.5px,#dbdbfd 45.5px,#c4c4fc 46.5px,#7777f7 48.5px,#3232f3 51.5px,#0303f0 54.5px,#0000f0 56.5px)"></div>
<div style="left:202px;top:82px;width:57px;height:1px;background:linear-gradient(90deg,#0000f0 0.5px,#0707f0 2.5px,#5252f5 6.5px,#7272f7 7.5px,#c7c7fc 9.5px,#e3e3fd 10.5px,#f6f1f9 12.5px,#faeef2 15.5px,#eeedfd 18.5px,#e3e3fd 19.5px,#ccccfc 20.5px,#7979f7 22.5px,#4545f4 24.5px,#0f0ff1 27.5px,#0909f1 28.5px,#3b3bf3 31.5px,#6b6bf6 33.5px,#bebefb 35.5px,#dedefd 36.5px,#f4f0fb 38.5px,#fbedf1 41.5px,#f1effc 44.5px,#e7e7fd 45.5px,#d3d3fc 46.5px,#5e5ef6 49.5px,#0e0ef1 53.5px,#0000f0 55.5px,#0000f0 56.5px)"></div>
<div style="left:202px;top:83px;width:57px;height:1px;background:linear-gradient(90deg,#0000f0 0.5px,#0707f0 2.5px,#3c3cf4 5.5px,#5858f5 6.5px,#b2b2fa 8.5px,#d8d8fc 9.5px,#efecfb 10.5px,#f9edf2 11.5px,#fcd6d7 13.5px,#fcd1d2 15.5px,#f8eef4 18.5px,#efedfc 19.5px,#dadafd 20.5px,#5f5ff6 23.5px,#1f1ff2 26.5px,#0f0ff1 27.5px,#0909f1 28.5px,#3b3bf3 31.5px,#5252f5 32.5px,#7777f7 33.5px,#cfcffc 35.5px,#ebe9fc 36.5px,#f7eff6 37.5px,#fcd2d2 40.5px,#fcd4d5 42.5px,#faebef 44.5px,#f3eefa 45.5px,#e1e1fd 46.5px,#bfbffb 47.5px,#6565f6 49.5px,#3232f3 51.5px,#0303f0 54.5px,#0000f0 56.5px)"></div>
<div style="left:202px;top:84px;width:57px;height:1px;background:linear-gradient(90deg,#0000f0 0.5px,#0707f0 2.5px,#3f3ff4 5.5px,#6565f6 6.5px,#c7c7fb 8.5px,#e8e5fa 9.5px,#f8e8ed 10.5px,#fbc5c5 12.5px,#fbb4b4 14.5px,#fbbbbb 16.5px,#fcdadb 18.5px,#f8eaf1 19.5px,#e8e6fb 20.5px,#c7c7fc 21.5px,#6868f6 23.5px,#4747f4 24.5px,#0f0ff1 27.5px,#0909f1 28.5px,#3c3cf4 31.5px,#5a5af5 32.5px,#bbbbfb 34.5px,#e0defc 35.5px,#f5ebf4 36.5px,#fbbdbd 39.5px,#fbb4b4 41.5px,#fbc2c2 43.5px,#fae5e9 45.5px,#eee9f8 46.5px,#d2d2fc 47.5px,#4b4bf4 50.5px,#0e0ef1 53.5px,#0000f0 55.5px,#0000f0 56.5px)"></div>
<div style="left:202px;top:85px;width:57px;height:1px;background:linear-gradient(90deg,#0000f0 0.5px,#0707f0 2.5px,#2929f2 4.5px,#4646f4 5.5px,#b0b0fa 7.5px,#dbd9fa 8.5px,#f4e5ee 9.5px,#fbbcbc 11.5px,#faa3a3 13.5px,#faa4a4 16.5px,#fbc0c0 18.5px,#f3e7f2 20.5px,#d9d8fb 21.5px,#aeaefa 22.5px,#4b4bf4 24.5px,#1f1ff2 26.5px,#0f0ff1 27.5px,#0909f1 28.5px,#2828f2 30.5px,#3f3ff4 31.5px,#6868f6 32.5px,#cfcefb 34.5px,#eee6f5 35.5px,#fadcde 36.5px,#fab1b1 38.5px,#f9a0a0 40.5px,#faaaaa 43.5px,#fbcdce 45.5px,#f7e3e9 46.5px,#e4e0f9 47.5px,#bdbdfb 48.5px,#5454f5 50.5px,#3434f3 51.5px,#0303f0 54.5px,#0000f0 56.5px)"></div>
<div style="left:202px;top:86px;width:57px;height:1px;background:linear-gradient(90deg,#0000f0 0.5px,#0707f0 2.5px,#2c2cf3 4.5px,#5353f5 5.5px,#c6c5fb 7.5px,#ece1f3 8.5px,#fad5d7 9.5px,#faa6a6 11.5px,#f88c8c 14.5px,#f99a9a 17.5px,#fbbfbf 19.5px,#f9dade 20.5px,#e9e2f6 21.5px,#c3c2fb 22.5px,#5555f5 24.5px,#3333f3 25.5px,#0f0ff1 27.5px,#0909f1 28.5px,#2929f2 30.5px,#4646f4 31.5px,#b5b5fa 33.5px,#e1dcf8 34.5px,#f7dee4 35.5px,#faadad 37.5px,#f99292 39.5px,#f88e8e 42.5px,#faa2a2 44.5px,#fbcfd1 46.5px,#f1e2ef 47.5px,#d2d0fa 48.5px,#9f9ff9 49.5px,#6363f6 50.5px,#3737f3 51.5px,#0e0ef1 53.5px,#0000f0 55.5px,#0000f0 56.5px)"></div>
<div style="left:202px;top:87px;width:57px;height:1px;background:linear-gradient(90deg,#0000f0 0.5px,#0707f0 2.5px,#1717f1 3.5px,#3131f3 4.5px,#6666f6 5.5px,#a6a6fa 6.5px,#dbd6f7 7.5px,#f6dbe2 8.5px,#faa6a6 10.5px,#f88787 12.5px,#f77b7b 15.5px,#f99797 18.5px,#fbc6c6 20.5px,#f4dfe8 21.5px,#d6d3f9 22.5px,#a1a1f9 23.5px,#6363f6 24.5px,#3636f3 25.5px,#0f0ff1 27.5px,#0909f1 28.5px,#2b2bf3 30.5px,#5353f5 31.5px,#cbc9fa 33.5px,#efe0ed 34.5px,#facbcd 35.5px,#f99a9a 37.5px,#f77c7c 40.5px,#f88585 43.5px,#f9a1a1 45.5px,#f8d7db 47.5px,#e4dcf5 48.5px,#b5b5fa 49.5px,#3e3ef4 51.5px,#2020f2 52.5px,#0303f0 54.5px,#0000f0 56.5px)"></div>
<div style="left:202px;top:88px;width:57px;height:1px;background:linear-gradient(90deg,#0000f0 0.5px,#0707f0 2.5px,#1818f1 3.5px,#3b3bf3 4.5px,#bdbbfa 6.5px,#ebddef 7.5px,#facbcd 8.5px,#f99494 10.5px,#f76f6f 13.5px,#f77070 16.5px,#f99999 19.5px,#f9d1d4 21.5px,#e6dcf3 22.5px,#b6b6fa 23.5px,#3d3df4 25.5px,#1f1ff2 26.5px,#0f0ff1 27.5px,#0909f1 28.5px,#1616f1 29.5px,#3030f3 30.5px,#6464f6 31.5px,#a7a7fa 32.5px,#ddd7f6 33.5px,#f7d6dc 34.5px,#f99d9d 36.5px,#f77272 39.5px,#f66e6e 42.5px,#f99191 45.5px,#fac4c6 47.5px,#f0dde9 48.5px,#cac7f9 49.5px,#4a4af4 51.5px,#2323f2 52.5px,#0303f0 54.5px,#0000f0 56.5px)"></div>
<div style="left:202px;top:89px;width:57px;height:1px;background:linear-gradient(90deg,#0000f0 0.5px,#0707f0 2.5px,#1b1bf2 3.5px,#4949f4 4.5px,#9090f8 5.5px,#d1ccf7 6.5px,#f4d7e0 7.5px,#f99b9b 9.5px,#f66868 12.5px,#f55d5d 15.5px,#f77878 18.5px,#f9a1a1 20.5px,#fac0c1 21.5px,#f1dbe7 22.5px,#cac6f9 23.5px,#4747f4 25.5px,#2121f2 26.5px,#0f0ff1 27.5px,#0909f1 28.5px,#1717f1 29.5px,#3838f3 30.5px,#bcbaf9 32.5px,#ebdbed 33.5px,#fac6c8 34.5px,#f88d8d 36.5px,#f66363 39.5px,#f65f5f 42.5px,#f88282 45.5px,#fab3b3 47.5px,#f7d3d8 48.5px,#dcd5f5 49.5px,#a1a1f9 50.5px,#5b5bf5 51.5px,#2727f2 52.5px,#0f0ff1 53.5px,#0000f0 55.5px,#0000f0 56.5px)"></div>
<div style="left:202px;top:90px;width:57px;height:1px;background:linear-gradient(90deg,#0000f0 0.5px,#0808f0 2.5px,#2020f2 3.5px,#5a5af5 4.5px,#a5a5f9 5.5px,#e1d6f1 6.5px,#f8cace 7.5px,#f88d8d 9.5px,#f55b5b 12.5px,#f54f4f 15.5px,#f66a6a 18.5px,#f99292 20.5px,#f7d1d7 22.5px,#dad3f5 23.5px,#9d9df9 24.5px,#5555f5 25.5px,#2424f2 26.5px,#0f0ff1 27.5px,#0909f1 28.5px,#1919f1 29.5px,#4343f4 30.5px,#cec9f7 32.5px,#f4d6df 33.5px,#f99797 35.5px,#f65f5f 38.5px,#f54f4f 41.5px,#f66565 44.5px,#f88888 46.5px,#f9c4c6 48.5px,#eadaed 49.5px,#b6b4f9 50.5px,#2d2df3 52.5px,#0f0ff1 53.5px,#0000f0 55.5px,#0000f0 56.5px)"></div>
<div style="left:202px;top:91px;width:57px;height:1px;background:linear-gradient(90deg,#0000f0 0.5px,#0909f1 2.5px,#2727f2 3.5px,#b9b6f8 5.5px,#edd7e8 6.5px,#fabdbe 7.5px,#f88080 9.5px,#f54e4e 12.5px,#f44242 15.5px,#f65e5e 18.5px,#f88585 20.5px,#f9c4c7 22.5px,#e7d8ee 23.5px,#afaef9 24.5px,#6565f6 25.5px,#2929f2 26.5px,#0f0ff1 27.5px,#0a0af1 28.5px,#1d1df2 29.5px,#5252f5 30.5px,#9e9ef9 31.5px,#ded4f2 32.5px,#f8cbcf 33.5px,#f88a8a 35.5px,#f55353 38.5px,#f44242 41.5px,#f55858 44.5px,#f99595 47.5px,#f2d6e0 49.5px,#c7c3f7 50.5px,#3636f3 52.5px,#1111f1 53.5px,#0303f0 54.5px,#0000f0 56.5px)"></div>
<div style="left:202px;top:92px;width:57px;height:1px;background:linear-gradient(90deg,#0000f0 0.5px,#0a0af1 2.5px,#3030f3 3.5px,#c9c4f6 5.5px,#f3d2db 6.5px,#f88f8f 8.5px,#f55050 11.5px,#f33636 14.5px,#f44545 17.5px,#f77a7a 20.5px,#fab8b9 22.5px,#f0d6e3 23.5px,#c0bcf7 24.5px,#2f2ff3 26.5px,#1010f1 27.5px,#0a0af1 28.5px,#2121f2 29.5px,#6161f6 30.5px,#b0aef8 31.5px,#e9d7ea 32.5px,#f9bfc1 33.5px,#f77f7f 35.5px,#f44747 38.5px,#f33535 41.5px,#f54d4d 44.5px,#f88989 47.5px,#f6ccd2 49.5px,#d7cef4 50.5px,#9191f8 51.5px,#4242f4 52.5px,#1313f1 53.5px,#0303f0 54.5px,#0000f0 56.5px)"></div>
<div style="left:202px;top:93px;width:57px;height:1px;background:linear-gradient(90deg,#0000f0 0.5px,#0101f0 1.5px,#0c0cf1 2.5px,#3b3bf3 3.5px,#8e8ef8 4.5px,#d7cef3 5.5px,#f7c9ce 6.5px,#f88484 8.5px,#f44545 11.5px,#f22a2a 14.5px,#f33a3a 17.5px,#f77070 20.5px,#faacac 22.5px,#f5d0d7 23.5px,#cec8f5 24.5px,#3838f3 26.5px,#1111f1 27.5px,#0b0bf1 28.5px,#2828f2 29.5px,#bfbbf7 31.5px,#f0d4e0 32.5px,#fab4b4 33.5px,#f77575 35.5px,#f43c3c 38.5px,#f22929 41.5px,#f44242 44.5px,#f77f7f 47.5px,#f8c2c5 49.5px,#e2d4ee 50.5px,#a1a0f8 51.5px,#4f4ff5 52.5px,#1616f1 53.5px,#0303f0 54.5px,#0000f0 56.5px)"></div>
<div style="left:202px;top:94px;width:57px;height:1px;background:linear-gradient(90deg,#0000f0 0.5px,#0101f0 1.5px,#0f0ff1 2.5px,#4848f4 3.5px,#9d9cf8 4.5px,#e2d2ed 5.5px,#f8c0c2 6.5px,#f77b7b 8.5px,#f33b3b 11.5px,#f21e1e 14.5px,#f22525 16.5px,#f55151 19.5px,#f88181 21.5px,#f7c7cc 23.5px,#dad0f2 24.5px,#9292f8 25.5px,#4141f4 26.5px,#1313f1 27.5px,#0c0cf1 28.5px,#2f2ff3 29.5px,#ccc6f5 31.5px,#f5cdd5 32.5px,#f88787 34.5px,#f44242 37.5px,#f22020 40.5px,#f22222 42.5px,#f44949 45.5px,#f99393 48.5px,#f9b9ba 49.5px,#ebd5e6 50.5px,#b0adf7 51.5px,#5c5cf5 52.5px,#1a1af2 53.5px,#0303f0 54.5px,#0000f0 56.5px)"></div>
<div style="left:202px;top:95px;width:57px;height:1px;background:linear-gradient(90deg,#0000f0 0.5px,#0101f0 1.5px,#1212f1 2.5px,#5353f5 3.5px,#aaa8f7 4.5px,#ead3e6 5.5px,#f9b8b9 6.5px,#f77474 8.5px,#f33232 11.5px,#f11313 14.5px,#f21b1b 16.5px,#f44949 19.5px,#f99999 22.5px,#f8bfc2 23.5px,#e3d3ed 24.5px,#9f9ef8 25.5px,#4b4bf4 26.5px,#1515f1 27.5px,#0e0ef1 28.5px,#3838f3 29.5px,#8c8bf8 30.5px,#d7cdf2 31.5px,#f7c6cb 32.5px,#f77f7f 34.5px,#f33939 37.5px,#f11515 40.5px,#f11717 42.5px,#f44141 45.5px,#f88b8b 48.5px,#fab0b1 49.5px,#f0d2de 50.5px,#bcb7f6 51.5px,#1f1ff2 53.5px,#0404f0 54.5px,#0000f0 56.5px)"></div>
<div style="left:202px;top:96px;width:57px;height:1px;background:linear-gradient(90deg,#0000f0 0.5px,#0202f0 1.5px,#1616f1 2.5px,#5e5ef6 3.5px,#b5b1f6 4.5px,#efd1df 5.5px,#fab0b1 6.5px,#f66d6d 8.5px,#f22a2a 11.5px,#f10f0f 13.5px,#f10a0a 15.5px,#f21d1d 17.5px,#f55858 20.5px,#f99191 22.5px,#f9b8ba 23.5px,#e9d4e7 24.5px,#aaa7f7 25.5px,#5555f5 26.5px,#1818f1 27.5px,#1010f1 28.5px,#4040f4 29.5px,#9796f8 30.5px,#dfd1ee 31.5px,#f8bfc2 32.5px,#f77878 34.5px,#f33232 37.5px,#f10b0b 40.5px,#f10d0d 42.5px,#f33939 45.5px,#f88484 48.5px,#f4cdd6 50.5px,#c6c0f5 51.5px,#2424f2 53.5px,#0505f0 54.5px,#0000f0 56.5px)"></div>
<div style="left:202px;top:97px;width:57px;height:1px;background:linear-gradient(90deg,#0000f0 0.5px,#0202f0 1.5px,#1a1af2 2.5px,#6767f6 3.5px,#beb9f5 4.5px,#f2cfd9 5.5px,#f88585 7.5px,#f33737 10.5px,#f00707 13.5px,#f00303 15.5px,#f11616 17.5px,#f55252 20.5px,#f88b8b 22.5px,#fab2b3 23.5px,#edd2e1 24.5px,#b3aff7 25.5px,#5d5df5 26.5px,#1a1af2 27.5px,#1111f1 28.5px,#4848f4 29.5px,#a09ef7 30.5px,#e5d2ea 31.5px,#f9babc 32.5px,#f77272 34.5px,#f32b2b 37.5px,#f10b0b 39.5px,#f00202 41.5px,#f11010 43.5px,#f44949 46.5px,#f77e7e 48.5px,#f5c8ce 50.5px,#cfc6f3 51.5px,#2929f2 53.5px,#0606f0 54.5px,#0000f0 56.5px)"></div>
<div style="left:202px;top:98px;width:57px;height:1px;background:linear-gradient(90deg,#0000f0 0.5px,#0303f0 1.5px,#1e1ef2 2.5px,#c6bef4 4.5px,#f4cad3 5.5px,#f88080 7.5px,#f33232 10.5px,#f10c0c 12.5px,#f00000 14.5px,#f00404 16.5px,#f22121 18.5px,#f66868 21.5px,#faadae 23.5px,#f0d1dd 24.5px,#bab5f6 25.5px,#6464f6 26.5px,#1d1df2 27.5px,#1313f1 28.5px,#4f4ff5 29.5px,#a8a5f7 30.5px,#e9d2e5 31.5px,#f9b5b7 32.5px,#f66e6e 34.5px,#f22525 37.5px,#f00505 39.5px,#f00202 42.5px,#f21a1a 44.5px,#f55d5d 47.5px,#f99d9d 49.5px,#f6c4c9 50.5px,#d5cbf2 51.5px,#8484f8 52.5px,#2e2ef3 53.5px,#0707f0 54.5px,#0000f0 56.5px)"></div>
<div style="left:202px;top:99px;width:57px;height:1px;background:linear-gradient(90deg,#0000f0 0.5px,#0303f0 1.5px,#2121f2 2.5px,#cbc2f3 4.5px,#f5c7ce 5.5px,#f77d7d 7.5px,#f32e2e 10.5px,#f00808 12.5px,#f00000 15.5px,#f10b0b 17.5px,#f44a4a 20.5px,#f88383 22.5px,#f2cfd9 24.5px,#bfb9f5 25.5px,#6969f6 26.5px,#1f1ff2 27.5px,#1515f1 28.5px,#5454f5 29.5px,#ada9f6 30.5px,#ecd1e1 31.5px,#f9b1b2 32.5px,#f66b6b 34.5px,#f22121 37.5px,#f00303 39.5px,#f00606 43.5px,#f44040 46.5px,#f99999 49.5px,#f7c0c5 50.5px,#d9cdef 51.5px,#8a89f7 52.5px,#3232f3 53.5px,#0707f0 54.5px,#0000f0 56.5px)"></div>
<div style="left:202px;top:100px;width:57px;height:1px;background:linear-gradient(90deg,#0000f0 0.5px,#0404f0 1.5px,#2323f2 2.5px,#cec5f3 4.5px,#f5c5cb 5.5px,#f77b7b 7.5px,#f32b2b 10.5px,#f00606 12.5px,#f00101 16.5px,#f00808 17.5px,#f44848 20.5px,#f88181 22.5px,#f3cdd6 24.5px,#c2bcf5 25.5px,#2121f2 27.5px,#1616f1 28.5px,#5757f5 29.5px,#b1adf6 30.5px,#edd0df 31.5px,#faafb0 32.5px,#f66868 34.5px,#f21e1e 37.5px,#f00202 39.5px,#f00404 43.5px,#f22727 45.5px,#f77474 48.5px,#f7bec2 50.5px,#dccdee 51.5px,#8e8df7 52.5px,#3535f3 53.5px,#0808f0 54.5px,#0000f0 56.5px)"></div>
<div style="left:202px;top:101px;width:57px;height:2px;background:linear-gradient(90deg,#0000f0 0.5px,#0404f0 1.5px,#2424f2 2.5px,#d0c7f3 4.5px,#f5c4ca 5.5px,#f77979 7.5px,#f22a2a 10.5px,#f00505 12.5px,#f00101 16.5px,#f00707 17.5px,#f44747 20.5px,#f88080 22.5px,#f3ccd4 24.5px,#c4bdf4 25.5px,#2222f2 27.5px,#1717f1 28.5px,#5959f5 29.5px,#b3aef6 30.5px,#eed0de 31.5px,#faaeaf 32.5px,#f66767 34.5px,#f21c1c 37.5px,#f10a0a 38.5px,#f00000 40.5px,#f00303 43.5px,#f22525 45.5px,#f77373 48.5px,#f8bdc0 50.5px,#ddceed 51.5px,#8f8ef7 52.5px,#3636f3 53.5px,#0808f0 54.5px,#0000f0 56.5px)"></div>
<div style="left:202px;top:103px;width:57px;height:1px;background:linear-gradient(90deg,#0000f0 0.5px,#0404f0 1.5px,#2323f2 2.5px,#cec5f3 4.5px,#f5c5cb 5.5px,#f77b7b 7.5px,#f32b2b 10.5px,#f00606 12.5px,#f00101 16.5px,#f00808 17.5px,#f44848 20.5px,#f88181 22.5px,#f3cdd6 24.5px,#c2bcf5 25.5px,#2121f2 27.5px,#1616f1 28.5px,#5757f5 29.5px,#b1adf6 30.5px,#edd0df 31.5px,#faafb0 32.5px,#f66868 34.5px,#f21e1e 37.5px,#f00202 39.5px,#f00404 43.5px,#f22727 45.5px,#f77474 48.5px,#f7bec2 50.5px,#dccdee 51.5px,#8e8df7 52.5px,#3535f3 53.5px,#0808f0 54.5px,#0000f0 56.5px)"></div>
<div style="left:202px;top:104px;width:57px;height:1px;background:linear-gradient(90deg,#0000f0 0.5px,#0303f0 1.5px,#2121f2 2.5px,#cbc2f3 4.5px,#f5c7ce 5.5px,#f77d7d 7.5px,#f32e2e 10.5px,#f00808 12.5px,#f00000 15.5px,#f10b0b 17.5px,#f44a4a 20.5px,#f88383 22.5px,#f2cfd9 24.5px,#bfb9f5 25.5px,#6969f6 26.5px,#1f1ff2 27.5px,#1515f1 28.5px,#5454f5 29.5px,#ada9f6 30.5px,#ecd1e1 31.5px,#f9b1b2 32.5px,#f66b6b 34.5px,#f22121 37.5px,#f00303 39.5px,#f00606 43.5px,#f44040 46.5px,#f99999 49.5px,#f7c0c5 50.5px,#d9cdef 51.5px,#8a89f7 52.5px,#3232f3 53.5px,#0707f0 54.5px,#0000f0 56.5px)"></div>
<div style="left:202px;top:105px;width:57px;height:1px;background:linear-gradient(90deg,#0000f0 0.5px,#0303f0 1.5px,#1e1ef2 2.5px,#c6bef4 4.5px,#f4cad3 5.5px,#f88080 7.5px,#f33232 10.5px,#f10c0c 12.5px,#f00000 14.5px,#f00404 16.5px,#f22121 18.5px,#f66868 21.5px,#faadae 23.5px,#f0d1dd 24.5px,#bab5f6 25.5px,#6464f6 26.5px,#1d1df2 27.5px,#1313f1 28.5px,#4f4ff5 29.5px,#a8a5f7 30.5px,#e9d2e5 31.5px,#f9b5b7 32.5px,#f66e6e 34.5px,#f22525 37.5px,#f00505 39.5px,#f00202 42.5px,#f21a1a 44.5px,#f55d5d 47.5px,#f99d9d 49.5px,#f6c4c9 50.5px,#d5cbf2 51.5px,#8484f8 52.5px,#2e2ef3 53.5px,#0707f0 54.5px,#0000f0 56.5px)"></div>
<div style="left:202px;top:106px;width:57px;height:1px;background:linear-gradient(90deg,#0000f0 0.5px,#0202f0 1.5px,#1a1af2 2.5px,#6767f6 3.5px,#beb9f5 4.5px,#f2cfd9 5.5px,#f88585 7.5px,#f33737 10.5px,#f00707 13.5px,#f00303 15.5px,#f11616 17.5px,#f55252 20.5px,#f88b8b 22.5px,#fab2b3 23.5px,#edd2e1 24.5px,#b3aff7 25.5px,#5d5df5 26.5px,#1a1af2 27.5px,#1111f1 28.5px,#4848f4 29.5px,#a09ef7 30.5px,#e5d2ea 31.5px,#f9babc 32.5px,#f77272 34.5px,#f32b2b 37.5px,#f10b0b 39.5px,#f00202 41.5px,#f11010 43.5px,#f44949 46.5px,#f77e7e 48.5px,#f5c8ce 50.5px,#cfc6f3 51.5px,#2929f2 53.5px,#0606f0 54.5px,#0000f0 56.5px)"></div>
<div style="left:202px;top:107px;width:57px;height:1px;background:linear-gradient(90deg,#0000f0 0.5px,#0202f0 1.5px,#1616f1 2.5px,#5e5ef6 3.5px,#b5b1f6 4.5px,#efd1df 5.5px,#fab0b1 6.5px,#f66d6d 8.5px,#f22a2a 11.5px,#f10f0f 13.5px,#f10a0a 15.5px,#f21d1d 17.5px,#f55858 20.5px,#f99191 22.5px,#f9b8ba 23.5px,#e9d4e7 24.5px,#aaa7f7 25.5px,#5555f5 26.5px,#1818f1 27.5px,#1010f1 28.5px,#4040f4 29.5px,#9796f8 30.5px,#dfd1ee 31.5px,#f8bfc2 32.5px,#f77878 34.5px,#f33232 37.5px,#f10b0b 40.5px,#f10d0d 42.5px,#f33939 45.5px,#f88484 48.5px,#f4cdd6 50.5px,#c6c0f5 51.5px,#2424f2 53.5px,#0505f0 54.5px,#0000f0 56.5px)"></div>
<div style="left:202px;top:108px;width:57px;height:1px;background:linear-gradient(90deg,#0000f0 0.5px,#0101f0 1.5px,#1212f1 2.5px,#5353f5 3.5px,#aaa8f7 4.5px,#ead3e6 5.5px,#f9b8b9 6.5px,#f77474 8.5px,#f33232 11.5px,#f11313 14.5px,#f21b1b 16.5px,#f44949 19.5px,#f99999 22.5px,#f8bfc2 23.5px,#e3d3ed 24.5px,#9f9ef8 25.5px,#4b4bf4 26.5px,#1515f1 27.5px,#0e0ef1 28.5px,#3838f3 29.5px,#8c8bf8 30.5px,#d7cdf2 31.5px,#f7c6cb 32.5px,#f77f7f 34.5px,#f33939 37.5px,#f11515 40.5px,#f11717 42.5px,#f44141 45.5px,#f88b8b 48.5px,#fab0b1 49.5px,#f0d2de 50.5px,#bcb7f6 51.5px,#1f1ff2 53.5px,#0404f0 54.5px,#0000f0 56.5px)"></div>
<div style="left:202px;top:109px;width:57px;height:1px;background:linear-gradient(90deg,#0000f0 0.5px,#0101f0 1.5px,#0f0ff1 2.5px,#4848f4 3.5px,#9d9cf8 4.5px,#e2d2ed 5.5px,#f8c0c2 6.5px,#f77b7b 8.5px,#f33b3b 11.5px,#f21e1e 14.5px,#f22525 16.5px,#f55151 19.5px,#f88181 21.5px,#f7c7cc 23.5px,#dad0f2 24.5px,#9292f8 25.5px,#4141f4 26.5px,#1313f1 27.5px,#0c0cf1 28.5px,#2f2ff3 29.5px,#ccc6f5 31.5px,#f5cdd5 32.5px,#f88787 34.5px,#f44242 37.5px,#f22020 40.5px,#f22222 42.5px,#f44949 45.5px,#f99393 48.5px,#f9b9ba 49.5px,#ebd5e6 50.5px,#b0adf7 51.5px,#5c5cf5 52.5px,#1a1af2 53.5px,#0303f0 54.5px,#0000f0 56.5px)"></div>
<div style="left:202px;top:110px;width:57px;height:1px;background:linear-gradient(90deg,#0000f0 0.5px,#0101f0 1.5px,#0c0cf1 2.5px,#3b3bf3 3.5px,#8e8ef8 4.5px,#d7cef3 5.5px,#f7c9ce 6.5px,#f88484 8.5px,#f44545 11.5px,#f22a2a 14.5px,#f33a3a 17.5px,#f77070 20.5px,#faacac 22.5px,#f5d0d7 23.5px,#cec8f5 24.5px,#3838f3 26.5px,#1111f1 27.5px,#0b0bf1 28.5px,#2828f2 29.5px,#bfbbf7 31.5px,#f0d4e0 32.5px,#fab4b4 33.5px,#f77575 35.5px,#f43c3c 38.5px,#f22929 41.5px,#f44242 44.5px,#f77f7f 47.5px,#f8c2c5 49.5px,#e2d4ee 50.5px,#a1a0f8 51.5px,#4f4ff5 52.5px,#1616f1 53.5px,#0303f0 54.5px,#0000f0 56.5px)"></div>
<div style="left:202px;top:111px;width:57px;height:1px;background:linear-gradient(90deg,#0000f0 0.5px,#0a0af1 2.5px,#3030f3 3.5px,#c9c4f6 5.5px,#f3d2db 6.5px,#f88f8f 8.5px,#f55050 11.5px,#f33636 14.5px,#f44545 17.5px,#f77a7a 20.5px,#fab8b9 22.5px,#f0d6e3 23.5px,#c0bcf7 24.5px,#2f2ff3 26.5px,#1010f1 27.5px,#0a0af1 28.5px,#2121f2 29.5px,#6161f6 30.5px,#b0aef8 31.5px,#e9d7ea 32.5px,#f9bfc1 33.5px,#f77f7f 35.5px,#f44747 38.5px,#f33535 41.5px,#f54d4d 44.5px,#f88989 47.5px,#f6ccd2 49.5px,#d7cef4 50.5px,#9191f8 51.5px,#4242f4 52.5px,#1313f1 53.5px,#0303f0 54.5px,#0000f0 56.5px)"></div>
<div style="left:202px;top:112px;width:57px;height:1px;background:linear-gradient(90deg,#0000f0 0.5px,#0909f1 2.5px,#2727f2 3.5px,#b9b6f8 5.5px,#edd7e8 6.5px,#fabdbe 7.5px,#f88080 9.5px,#f54e4e 12.5px,#f44242 15.5px,#f65e5e 18.5px,#f88585 20.5px,#f9c4c7 22.5px,#e7d8ee 23.5px,#afaef9 24.5px,#6565f6 25.5px,#2929f2 26.5px,#0f0ff1 27.5px,#0a0af1 28.5px,#1d1df2 29.5px,#5252f5 30.5px,#9e9ef9 31.5px,#ded4f2 32.5px,#f8cbcf 33.5px,#f88a8a 35.5px,#f55353 38.5px,#f44242 41.5px,#f55858 44.5px,#f99595 47.5px,#f2d6e0 49.5px,#c7c3f7 50.5px,#3636f3 52.5px,#1111f1 53.5px,#0303f0 54.5px,#0000f0 56.5px)"></div>
<div style="left:202px;top:113px;width:57px;height:1px;background:linear-gradient(90deg,#0000f0 0.5px,#0808f0 2.5px,#2020f2 3.5px,#5a5af5 4.5px,#a5a5f9 5.5px,#e1d6f1 6.5px,#f8cace 7.5px,#f88d8d 9.5px,#f55b5b 12.5px,#f54f4f 15.5px,#f66a6a 18.5px,#f99292 20.5px,#f7d1d7 22.5px,#dad3f5 23.5px,#9d9df9 24.5px,#5555f5 25.5px,#2424f2 26.5px,#0f0ff1 27.5px,#0909f1 28.5px,#1919f1 29.5px,#4343f4 30.5px,#cec9f7 32.5px,#f4d6df 33.5px,#f99797 35.5px,#f65f5f 38.5px,#f54f4f 41.5px,#f66565 44.5px,#f88888 46.5px,#f9c4c6 48.5px,#eadaed 49.5px,#b6b4f9 50.5px,#2d2df3 52.5px,#0f0ff1 53.5px,#0000f0 55.5px,#0000f0 56.5px)"></div>
<div style="left:202px;top:114px;width:57px;height:1px;background:linear-gradient(90deg,#0000f0 0.5px,#0707f0 2.5px,#1b1bf2 3.5px,#4949f4 4.5px,#9090f8 5.5px,#d1ccf7 6.5px,#f4d7e0 7.5px,#f99b9b 9.5px,#f66868 12.5px,#f55d5d 15.5px,#f77878 18.5px,#f9a1a1 20.5px,#fac0c1 21.5px,#f1dbe7 22.5px,#cac6f9 23.5px,#4747f4 25.5px,#2121f2 26.5px,#0f0ff1 27.5px,#0909f1 28.5px,#1717f1 29.5px,#3838f3 30.5px,#bcbaf9 32.5px,#ebdbed 33.5px,#fac6c8 34.5px,#f88d8d 36.5px,#f66363 39.5px,#f65f5f 42.5px,#f88282 45.5px,#fab3b3 47.5px,#f7d3d8 48.5px,#dcd5f5 49.5px,#a1a1f9 50.5px,#5b5bf5 51.5px,#2727f2 52.5px,#0f0ff1 53.5px,#0000f0 55.5px,#0000f0 56.5px)"></div>
<div style="left:202px;top:115px;width:57px;height:1px;background:linear-gradient(90deg,#0000f0 0.5px,#0707f0 2.5px,#1818f1 3.5px,#3b3bf3 4.5px,#bdbbfa 6.5px,#ebddef 7.5px,#facbcd 8.5px,#f99494 10.5px,#f76f6f 13.5px,#f77070 16.5px,#f99999 19.5px,#f9d1d4 21.5px,#e6dcf3 22.5px,#b6b6fa 23.5px,#3d3df4 25.5px,#1f1ff2 26.5px,#0f0ff1 27.5px,#0909f1 28.5px,#1616f1 29.5px,#3030f3 30.5px,#6464f6 31.5px,#a7a7fa 32.5px,#ddd7f6 33.5px,#f7d6dc 34.5px,#f99d9d 36.5px,#f77272 39.5px,#f66e6e 42.5px,#f99191 45.5px,#fac4c6 47.5px,#f0dde9 48.5px,#cac7f9 49.5px,#4a4af4 51.5px,#2323f2 52.5px,#0303f0 54.5px,#0000f0 56.5px)"></div>
<div style="left:202px;top:116px;width:57px;height:1px;background:linear-gradient(90deg,#0000f0 0.5px,#0707f0 2.5px,#1717f1 3.5px,#3131f3 4.5px,#6666f6 5.5px,#a6a6fa 6.5px,#dbd6f7 7.5px,#f6dbe2 8.5px,#faa6a6 10.5px,#f88787 12.5px,#f77b7b 15.5px,#f99797 18.5px,#fbc6c6 20.5px,#f4dfe8 21.5px,#d6d3f9 22.5px,#a1a1f9 23.5px,#6363f6 24.5px,#3636f3 25.5px,#0f0ff1 27.5px,#0909f1 28.5px,#2b2bf3 30.5px,#5353f5 31.5px,#cbc9fa 33.5px,#efe0ed 34.5px,#facbcd 35.5px,#f99a9a 37.5px,#f77c7c 40.5px,#f88585 43.5px,#f9a1a1 45.5px,#f8d7db 47.5px,#e4dcf5 48.5px,#b5b5fa 49.5px,#3e3ef4 51.5px,#2020f2 52.5px,#0303f0 54.5px,#0000f0 56.5px)"></div>
<div style="left:202px;top:117px;width:57px;height:1px;background:linear-gradient(90deg,#0000f0 0.5px,#0707f0 2.5px,#2c2cf3 4.5px,#5353f5 5.5px,#c6c5fb 7.5px,#ece1f3 8.5px,#fad5d7 9.5px,#faa6a6 11.5px,#f88c8c 14.5px,#f99a9a 17.5px,#fbbfbf 19.5px,#f9dade 20.5px,#e9e2f6 21.5px,#c3c2fb 22.5px,#5555f5 24.5px,#3333f3 25.5px,#0f0ff1 27.5px,#0909f1 28.5px,#2929f2 30.5px,#4646f4 31.5px,#b5b5fa 33.5px,#e1dcf8 34.5px,#f7dee4 35.5px,#faadad 37.5px,#f99292 39.5px,#f88e8e 42.5px,#faa2a2 44.5px,#fbcfd1 46.5px,#f1e2ef 47.5px,#d2d0fa 48.5px,#9f9ff9 49.5px,#6363f6 50.5px,#3737f3 51.5px,#0e0ef1 53.5px,#0000f0 55.5px,#0000f0 56.5px)"></div>
<div style="left:202px;top:118px;width:57px;height:1px;background:linear-gradient(90deg,#0000f0 0.5px,#0707f0 2.5px,#2929f2 4.5px,#4646f4 5.5px,#b0b0fa 7.5px,#dbd9fa 8.5px,#f4e5ee 9.5px,#fbbcbc 11.5px,#faa3a3 13.5px,#faa4a4 16.5px,#fbc0c0 18.5px,#f3e7f2 20.5px,#d9d8fb 21.5px,#aeaefa 22.5px,#4b4bf4 24.5px,#1f1ff2 26.5px,#0f0ff1 27.5px,#0909f1 28.5px,#2828f2 30.5px,#3f3ff4 31.5px,#6868f6 32.5px,#cfcefb 34.5px,#eee6f5 35.5px,#fadcde 36.5px,#fab1b1 38.5px,#f9a0a0 40.5px,#faaaaa 43.5px,#fbcdce 45.5px,#f7e3e9 46.5px,#e4e0f9 47.5px,#bdbdfb 48.5px,#5454f5 50.5px,#3434f3 51.5px,#0303f0 54.5px,#0000f0 56.5px)"></div>
<div style="left:202px;top:119px;width:57px;height:1px;background:linear-gradient(90deg,#0000f0 0.5px,#0707f0 2.5px,#3f3ff4 5.5px,#6565f6 6.5px,#c7c7fb 8.5px,#e8e5fa 9.5px,#f8e8ed 10.5px,#fbc5c5 12.5px,#fbb4b4 14.5px,#fbbbbb 16.5px,#fcdadb 18.5px,#f8eaf1 19.5px,#e8e6fb 20.5px,#c7c7fc 21.5px,#6868f6 23.5px,#4747f4 24.5px,#0f0ff1 27.5px,#0909f1 28.5px,#3c3cf4 31.5px,#5a5af5 32.5px,#bbbbfb 34.5px,#e0defc 35.5px,#f5ebf4 36.5px,#fbbdbd 39.5px,#fbb4b4 41.5px,#fbc2c2 43.5px,#fae5e9 45.5px,#eee9f8 46.5px,#d2d2fc 47.5px,#4b4bf4 50.5px,#0e0ef1 53.5px,#0000f0 55.5px,#0000f0 56.5px)"></div>
<div style="left:202px;top:120px;width:57px;height:1px;background:linear-gradient(90deg,#0000f0 0.5px,#0707f0 2.5px,#3c3cf4 5.5px,#5858f5 6.5px,#b2b2fa 8.5px,#d8d8fc 9.5px,#efecfb 10.5px,#f9edf2 11.5px,#fcd6d7 13.5px,#fcd1d2 15.5px,#f8eef4 18.5px,#efedfc 19.5px,#dadafd 20.5px,#5f5ff6 23.5px,#1f1ff2 26.5px,#0f0ff1 27.5px,#0909f1 28.5px,#3b3bf3 31.5px,#5252f5 32.5px,#7777f7 33.5px,#cfcffc 35.5px,#ebe9fc 36.5px,#f7eff6 37.5px,#fcd2d2 40.5px,#fcd4d5 42.5px,#faebef 44.5px,#f3eefa 45.5px,#e1e1fd 46.5px,#bfbffb 47.5px,#6565f6 49.5px,#3232f3 51.5px,#0303f0 54.5px,#0000f0 56.5px)"></div>
<div style="left:202px;top:121px;width:57px;height:1px;background:linear-gradient(90deg,#0000f0 0.5px,#0707f0 2.5px,#5252f5 6.5px,#7272f7 7.5px,#c7c7fc 9.5px,#e3e3fd 10.5px,#f6f1f9 12.5px,#faeef2 15.5px,#eeedfd 18.5px,#e3e3fd 19.5px,#ccccfc 20.5px,#7979f7 22.5px,#4545f4 24.5px,#0f0ff1 27.5px,#0909f1 28.5px,#3b3bf3 31.5px,#6b6bf6 33.5px,#bebefb 35.5px,#dedefd 36.5px,#f4f0fb 38.5px,#fbedf1 41.5px,#f1effc 44.5px,#e7e7fd 45.5px,#d3d3fc 46.5px,#5e5ef6 49.5px,#0e0ef1 53.5px,#0000f0 55.5px,#0000f0 56.5px)"></div>
<div style="left:202px;top:122px;width:57px;height:1px;background:linear-gradient(90deg,#0000f0 0.5px,#0707f0 2.5px,#5050f5 6.5px,#6969f6 7.5px,#d6d6fd 10.5px,#ebeafe 12.5px,#eeeefd 16.5px,#d7d7fd 19.5px,#bdbdfb 20.5px,#7373f7 22.5px,#1f1ff2 26.5px,#0f0ff1 27.5px,#0909f1 28.5px,#3b3bf3 31.5px,#6666f6 33.5px,#d1d1fc 36.5px,#e8e8fe 38.5px,#efeffd 42.5px,#dbdbfd 45.5px,#c4c4fc 46.5px,#7777f7 48.5px,#3232f3 51.5px,#0303f0 54.5px,#0000f0 56.5px)"></div>
<div style="left:202px;top:123px;width:57px;height:1px;background:linear-gradient(90deg,#0000f0 0.5px,#0707f0 2.5px,#6767f6 7.5px,#c9c9fc 10.5px,#dedefd 12.5px,#e1e1fd 16.5px,#cbcbfc 19.5px,#b2b2fa 20.5px,#7171f7 22.5px,#1f1ff2 26.5px,#0f0ff1 27.5px,#0909f1 28.5px,#3b3bf3 31.5px,#8080f8 34.5px,#c4c4fc 36.5px,#dbdbfd 38.5px,#e3e3fd 42.5px,#cfcffc 45.5px,#b7b7fb 46.5px,#7373f7 48.5px,#1f1ff2 52.5px,#0303f0 54.5px,#0000f0 56.5px)"></div>
<div style="left:202px;top:124px;width:57px;height:1px;background:linear-gradient(90deg,#0000f0 0.5px,#0707f0 2.5px,#6666f6 7.5px,#bebefb 10.5px,#d1d1fc 12.5px,#d4d4fc 16.5px,#c1c1fb 19.5px,#adadfa 20.5px,#5a5af5 23.5px,#0f0ff1 27.5px,#0909f1 28.5px,#3b3bf3 31.5px,#7e7ef7 34.5px,#bbbbfb 36.5px,#cfcffc 38.5px,#d6d6fd 42.5px,#c4c4fc 45.5px,#afaffa 46.5px,#5b5bf5 49.5px,#0e0ef1 53.5px,#0000f0 55.5px,#0000f0 56.5px)"></div>
<div style="left:202px;top:125px;width:57px;height:1px;background:linear-gradient(90deg,#0000f0 0.5px,#0707f0 2.5px,#6666f6 7.5px,#b9b9fb 10.5px,#cbcbfc 14.5px,#bdbdfb 19.5px,#acacfa 20.5px,#5a5af5 23.5px,#0f0ff1 27.5px,#0909f1 28.5px,#3b3bf3 31.5px,#7e7ef7 34.5px,#b8b8fb 36.5px,#cacafc 40.5px,#bebefb 45.5px,#adadfa 46.5px,#5b5bf5 49.5px,#0e0ef1 53.5px,#0000f0 55.5px,#0000f0 56.5px)"></div>
<div style="left:202px;top:126px;width:57px;height:1px;background:linear-gradient(90deg,#0000f0 0.5px,#0707f0 2.5px,#6666f6 7.5px,#b8b8fb 10.5px,#c2c2fb 14.5px,#bcbcfb 19.5px,#acacfa 20.5px,#5a5af5 23.5px,#0f0ff1 27.5px,#0909f1 28.5px,#3b3bf3 31.5px,#7e7ef7 34.5px,#b7b7fb 36.5px,#c1c1fb 39.5px,#bdbdfb 45.5px,#adadfa 46.5px,#5b5bf5 49.5px,#0e0ef1 53.5px,#0000f0 55.5px,#0000f0 56.5px)"></div>
<div style="left:202px;top:127px;width:57px;height:1px;background:linear-gradient(90deg,#0000f0 0.5px,#0707f0 2.5px,#6666f6 7.5px,#b8b8fb 10.5px,#bfbffb 14.5px,#bcbcfb 19.5px,#acacfa 20.5px,#5a5af5 23.5px,#0f0ff1 27.5px,#0909f1 28.5px,#3b3bf3 31.5px,#7e7ef7 34.5px,#b7b7fb 36.5px,#bfbffb 39.5px,#bdbdfb 45.5px,#adadfa 46.5px,#5b5bf5 49.5px,#0e0ef1 53.5px,#0000f0 55.5px,#0000f0 56.5px)"></div>
<div style="left:202px;top:128px;width:57px;height:1px;background:linear-gradient(90deg,#0000f0 0.5px,#0707f0 2.5px,#6666f6 7.5px,#b8b8fb 10.5px,#bfbffb 13.5px,#bcbcfb 19.5px,#acacfa 20.5px,#5a5af5 23.5px,#0f0ff1 27.5px,#0909f1 28.5px,#3b3bf3 31.5px,#7e7ef7 34.5px,#b7b7fb 36.5px,#bfbffb 39.5px,#bdbdfb 45.5px,#adadfa 46.5px,#5b5bf5 49.5px,#0e0ef1 53.5px,#0000f0 55.5px,#0000f0 56.5px)"></div>
<div style="left:276px;top:75px;width:57px;height:1px;background:linear-gradient(90deg,#0000f0 0.5px,#0707f0 2.5px,#6666f6 7.5px,#b8b8fb 10.5px,#bfbffb 13.5px,#bcbcfb 19.5px,#acacfa 20.5px,#5a5af5 23.5px,#0f0ff1 27.5px,#0909f1 28.5px,#3b3bf3 31.5px,#7e7ef7 34.5px,#b7b7fb 36.5px,#bfbffb 39.5px,#bdbdfb 45.5px,#adadfa 46.5px,#5b5bf5 49.5px,#0e0ef1 53.5px,#0000f0 55.5px,#0000f0 56.5px)"></div>
<div style="left:276px;top:76px;width:57px;height:1px;background:linear-gradient(90deg,#0000f0 0.5px,#0707f0 2.5px,#6666f6 7.5px,#b8b8fb 10.5px,#bfbffb 14.5px,#bcbcfb 19.5px,#acacfa 20.5px,#5a5af5 23.5px,#0f0ff1 27.5px,#0909f1 28.5px,#3b3bf3 31.5px,#7e7ef7 34.5px,#b7b7fb 36.5px,#bfbffb 39.5px,#bdbdfb 45.5px,#adadfa 46.5px,#5b5bf5 49.5px,#0e0ef1 53.5px,#0000f0 55.5px,#0000f0 56.5px)"></div>
<div style="left:276px;top:77px;width:57px;height:1px;background:linear-gradient(90deg,#0000f0 0.5px,#0707f0 2.5px,#6666f6 7.5px,#b8b8fb 10.5px,#c2c2fb 14.5px,#bcbcfb 19.5px,#acacfa 20.5px,#5a5af5 23.5px,#0f0ff1 27.5px,#0909f1 28.5px,#3b3bf3 31.5px,#7e7ef7 34.5px,#b7b7fb 36.5px,#c1c1fb 39.5px,#bdbdfb 45.5px,#adadfa 46.5px,#5b5bf5 49.5px,#0e0ef1 53.5px,#0000f0 55.5px,#0000f0 56.5px)"></div>
<div style="left:276px;top:78px;width:57px;height:1px;background:linear-gradient(90deg,#0000f0 0.5px,#0707f0 2.5px,#6666f6 7.5px,#b9b9fb 10.5px,#cbcbfc 14.5px,#bdbdfb 19.5px,#acacfa 20.5px,#5a5af5 23.5px,#0f0ff1 27.5px,#0909f1 28.5px,#3b3bf3 31.5px,#7e7ef7 34.5px,#b8b8fb 36.5px,#cacafc 40.5px,#bebefb 45.5px,#adadfa 46.5px,#5b5bf5 49.5px,#0e0ef1 53.5px,#0000f0 55.5px,#0000f0 56.5px)"></div>
<div style="left:276px;top:79px;width:57px;height:1px;background:linear-gradient(90deg,#0000f0 0.5px,#0707f0 2.5px,#6666f6 7.5px,#bebefb 10.5px,#d1d1fc 12.5px,#d5d5fd 16.5px,#c2c2fb 19.5px,#adadfa 20.5px,#5a5af5 23.5px,#0f0ff1 27.5px,#0909f1 28.5px,#3b3bf3 31.5px,#7f7ff7 34.5px,#bcbcfb 36.5px,#d0d0fc 38.5px,#d5d5fd 42.5px,#c3c3fb 45.5px,#afaffa 46.5px,#5b5bf5 49.5px,#0e0ef1 53.5px,#0000f0 55.5px,#0000f0 56.5px)"></div>
<div style="left:276px;top:80px;width:57px;height:1px;background:linear-gradient(90deg,#0000f0 0.5px,#0707f0 2.5px,#6767f6 7.5px,#c8c8fc 10.5px,#ddddfd 12.5px,#e2e2fd 16.5px,#ccccfc 19.5px,#b3b3fb 20.5px,#7272f7 22.5px,#1f1ff2 26.5px,#0f0ff1 27.5px,#0909f1 28.5px,#3b3bf3 31.5px,#8080f8 34.5px,#c5c5fc 36.5px,#dcdcfd 38.5px,#e2e2fd 42.5px,#cecefc 45.5px,#b6b6fb 46.5px,#7373f7 48.5px,#1f1ff2 52.5px,#0303f0 54.5px,#0000f0 56.5px)"></div>
<div style="left:276px;top:81px;width:57px;height:1px;background:linear-gradient(90deg,#0000f0 0.5px,#0707f0 2.5px,#5050f5 6.5px,#8b8bf8 8.5px,#d5d5fd 10.5px,#eaeafe 12.5px,#efeefd 16.5px,#d8d8fd 19.5px,#bfbffb 20.5px,#7373f7 22.5px,#1f1ff2 26.5px,#0f0ff1 27.5px,#0909f1 28.5px,#3b3bf3 31.5px,#6767f6 33.5px,#d2d2fc 36.5px,#e9e9fe 38.5px,#efeefd 42.5px,#dadafd 45.5px,#c3c3fb 46.5px,#7676f7 48.5px,#1f1ff2 52.5px,#0303f0 54.5px,#0000f0 56.5px)"></div>
<div style="left:276px;top:82px;width:57px;height:1px;background:linear-gradient(90deg,#0000f0 0.5px,#0707f0 2.5px,#5252f5 6.5px,#7070f7 7.5px,#c5c5fc 9.5px,#e2e2fd 10.5px,#f5f1fa 12.5px,#faeef1 15.5px,#efeefd 18.5px,#e4e4fd 19.5px,#cdcdfc 20.5px,#7a7af7 22.5px,#4545f4 24.5px,#0f0ff1 27.5px,#0909f1 28.5px,#3b3bf3 31.5px,#6c6cf6 33.5px,#c0c0fb 35.5px,#dfdffd 36.5px,#f4f0fa 38.5px,#fbeef1 41.5px,#f1effc 44.5px,#e6e6fd 45.5px,#d1d1fc 46.5px,#5d5df5 49.5px,#0e0ef1 53.5px,#0000f0 55.5px,#0000f0 56.5px)"></div>
<div style="left:276px;top:83px;width:57px;height:1px;background:linear-gradient(90deg,#0000f0 0.5px,#0707f0 2.5px,#3c3cf4 5.5px,#5656f5 6.5px,#d6d6fc 9.5px,#eeecfb 10.5px,#f8eef3 11.5px,#fcd1d1 14.5px,#fcd7d8 16.5px,#f8eef3 18.5px,#f0edfb 19.5px,#dcdcfd 20.5px,#6060f6 23.5px,#1f1ff2 26.5px,#0f0ff1 27.5px,#0909f1 28.5px,#3b3bf3 31.5px,#5353f5 32.5px,#d1d1fc 35.5px,#eceafc 36.5px,#f7eff5 37.5px,#fcd2d2 40.5px,#fcd5d6 42.5px,#f9ecf1 44.5px,#f2eefa 45.5px,#e0dffd 46.5px,#bdbdfb 47.5px,#6464f6 49.5px,#3232f3 51.5px,#0303f0 54.5px,#0000f0 56.5px)"></div>
<div style="left:276px;top:84px;width:57px;height:1px;background:linear-gradient(90deg,#0000f0 0.5px,#0707f0 2.5px,#3e3ef4 5.5px,#6262f6 6.5px,#c4c4fb 8.5px,#e6e3fa 9.5px,#f8e9ef 10.5px,#fcc6c6 12.5px,#fbb5b5 14.5px,#fbbaba 16.5px,#fcd8d9 18.5px,#f8eaef 19.5px,#eae7fb 20.5px,#cacafc 21.5px,#6a6af6 23.5px,#4747f4 24.5px,#0f0ff1 27.5px,#0909f1 28.5px,#3c3cf4 31.5px,#5c5cf5 32.5px,#bebefb 34.5px,#e2e0fb 35.5px,#f6eaf2 36.5px,#fbbcbc 39.5px,#fbb4b4 41.5px,#fbc3c3 43.5px,#f9e7eb 45.5px,#ede9f9 46.5px,#d0cffc 47.5px,#7171f7 49.5px,#4a4af4 50.5px,#0e0ef1 53.5px,#0000f0 55.5px,#0000f0 56.5px)"></div>
<div style="left:276px;top:85px;width:57px;height:1px;background:linear-gradient(90deg,#0000f0 0.5px,#0707f0 2.5px,#2929f2 4.5px,#4444f4 5.5px,#acacfa 7.5px,#d9d6fb 8.5px,#f3e5f0 9.5px,#fbbebe 11.5px,#faa3a3 13.5px,#faa3a3 16.5px,#fbbebe 18.5px,#f4e7f0 20.5px,#dcdafb 21.5px,#b1b1fa 22.5px,#4d4df5 24.5px,#1f1ff2 26.5px,#0f0ff1 27.5px,#0909f1 28.5px,#2828f2 30.5px,#4040f4 31.5px,#6c6cf6 32.5px,#d2d1fb 34.5px,#f0e6f4 35.5px,#fbd9dc 36.5px,#fab0b0 38.5px,#f99f9f 40.5px,#faabab 43.5px,#fbd0d1 45.5px,#f7e5ec 46.5px,#e1defa 47.5px,#b9b9fb 48.5px,#5151f5 50.5px,#3333f3 51.5px,#0303f0 54.5px,#0000f0 56.5px)"></div>
<div style="left:276px;top:86px;width:57px;height:1px;background:linear-gradient(90deg,#0000f0 0.5px,#0707f0 2.5px,#2b2bf3 4.5px,#4f4ff5 5.5px,#c2c2fb 7.5px,#eae1f4 8.5px,#f9d7db 9.5px,#faa7a7 11.5px,#f89090 13.5px,#f89090 16.5px,#faa7a7 18.5px,#fad8db 20.5px,#ebe2f4 21.5px,#c6c6fb 22.5px,#5757f5 24.5px,#3333f3 25.5px,#0f0ff1 27.5px,#0909f1 28.5px,#2929f2 30.5px,#4949f4 31.5px,#bab9fb 33.5px,#e4def7 34.5px,#f8dce1 35.5px,#faabab 37.5px,#f99292 39.5px,#f88f8f 42.5px,#faa4a4 44.5px,#fad2d4 46.5px,#efe3f1 47.5px,#cecdfb 48.5px,#5f5ff6 50.5px,#3636f3 51.5px,#0e0ef1 53.5px,#0000f0 55.5px,#0000f0 56.5px)"></div>
<div style="left:276px;top:87px;width:57px;height:1px;background:linear-gradient(90deg,#0000f0 0.5px,#0707f0 2.5px,#2f2ff3 4.5px,#6161f6 5.5px,#a1a1f9 6.5px,#d7d3f8 7.5px,#f5dde5 8.5px,#faa8a8 10.5px,#f88888 12.5px,#f77b7b 15.5px,#f99595 18.5px,#fbc3c3 20.5px,#f5dde5 21.5px,#d9d5f8 22.5px,#a6a6fa 23.5px,#6868f6 24.5px,#3838f3 25.5px,#0f0ff1 27.5px,#0909f1 28.5px,#2c2cf3 30.5px,#5757f5 31.5px,#cfccf9 33.5px,#f1dfeb 34.5px,#faadad 36.5px,#f88a8a 38.5px,#f77a7a 41.5px,#f99292 44.5px,#fbbdbd 46.5px,#f7d9de 47.5px,#e1daf7 48.5px,#b0b0fa 49.5px,#3c3cf4 51.5px,#2020f2 52.5px,#0303f0 54.5px,#0000f0 56.5px)"></div>
<div style="left:276px;top:88px;width:57px;height:1px;background:linear-gradient(90deg,#0000f0 0.5px,#0707f0 2.5px,#1818f1 3.5px,#3737f3 4.5px,#b8b6fa 6.5px,#e8dcf1 7.5px,#f9ced0 8.5px,#f99696 10.5px,#f76f6f 13.5px,#f76f6f 16.5px,#f99696 19.5px,#f9ced0 21.5px,#e9ddf1 22.5px,#bbbafa 23.5px,#3f3ff4 25.5px,#2020f2 26.5px,#0f0ff1 27.5px,#0909f1 28.5px,#1616f1 29.5px,#3232f3 30.5px,#6a6af6 31.5px,#adacfa 32.5px,#e1d9f5 33.5px,#f8d3d8 34.5px,#f99b9b 36.5px,#f77171 39.5px,#f66e6e 42.5px,#f99292 45.5px,#fac8c9 47.5px,#eeddec 48.5px,#c5c3f9 49.5px,#4747f4 51.5px,#2222f2 52.5px,#0303f0 54.5px,#0000f0 56.5px)"></div>
<div style="left:276px;top:89px;width:57px;height:1px;background:linear-gradient(90deg,#0000f0 0.5px,#0707f0 2.5px,#1a1af2 3.5px,#4444f4 4.5px,#ccc8f8 6.5px,#f2d9e4 7.5px,#f99e9e 9.5px,#f77676 11.5px,#f55d5d 14.5px,#f66969 17.5px,#f88787 19.5px,#fabdbd 21.5px,#f3dae4 22.5px,#cecaf8 23.5px,#4b4bf4 25.5px,#2222f2 26.5px,#0f0ff1 27.5px,#0909f1 28.5px,#1818f1 29.5px,#3b3bf3 30.5px,#c1bff9 32.5px,#eedbea 33.5px,#fac3c5 34.5px,#f88b8b 36.5px,#f66262 39.5px,#f66060 42.5px,#f88484 45.5px,#fab6b6 47.5px,#f6d5dc 48.5px,#d8d1f6 49.5px,#9c9bf9 50.5px,#5555f5 51.5px,#2525f2 52.5px,#0f0ff1 53.5px,#0000f0 55.5px,#0000f0 56.5px)"></div>
<div style="left:276px;top:90px;width:57px;height:1px;background:linear-gradient(90deg,#0000f0 0.5px,#0707f0 2.5px,#1e1ef2 3.5px,#5454f5 4.5px,#9f9ff9 5.5px,#ddd4f3 6.5px,#f7ced2 7.5px,#f89090 9.5px,#f55c5c 12.5px,#f54f4f 15.5px,#f66969 18.5px,#f89090 20.5px,#f8ced2 22.5px,#dfd5f3 23.5px,#a3a3f9 24.5px,#5b5bf5 25.5px,#2626f2 26.5px,#0f0ff1 27.5px,#0909f1 28.5px,#1a1af2 29.5px,#4848f4 30.5px,#9291f8 31.5px,#d3cdf6 32.5px,#f5d3db 33.5px,#f99595 35.5px,#f65e5e 38.5px,#f54f4f 41.5px,#f66666 44.5px,#f88b8b 46.5px,#f9c8ca 48.5px,#e6d9ef 49.5px,#b0aff9 50.5px,#6767f6 51.5px,#2a2af2 52.5px,#0f0ff1 53.5px,#0000f0 55.5px,#0000f0 56.5px)"></div>
<div style="left:276px;top:91px;width:57px;height:1px;background:linear-gradient(90deg,#0000f0 0.5px,#0808f0 2.5px,#2424f2 3.5px,#6565f6 4.5px,#b2b0f8 5.5px,#ead8eb 6.5px,#f9c1c2 7.5px,#f88383 9.5px,#f55050 12.5px,#f44242 15.5px,#f55c5c 18.5px,#f88383 20.5px,#fac1c2 22.5px,#ead9eb 23.5px,#b6b4f9 24.5px,#6b6bf6 25.5px,#2b2bf3 26.5px,#0f0ff1 27.5px,#0a0af1 28.5px,#1e1ef2 29.5px,#5858f5 30.5px,#a5a4f9 31.5px,#e2d6f0 32.5px,#f8c7cb 33.5px,#f88888 35.5px,#f55252 38.5px,#f44242 41.5px,#f55a5a 44.5px,#f99898 47.5px,#fababb 48.5px,#f0d7e4 49.5px,#c2bef8 50.5px,#3232f3 52.5px,#1010f1 53.5px,#0303f0 54.5px,#0000f0 56.5px)"></div>
<div style="left:276px;top:92px;width:57px;height:1px;background:linear-gradient(90deg,#0000f0 0.5px,#0909f1 2.5px,#2c2cf3 3.5px,#c3bff7 5.5px,#f1d4df 6.5px,#fab4b5 7.5px,#f77878 9.5px,#f44444 12.5px,#f33636 15.5px,#f55151 18.5px,#f99292 21.5px,#f2d5df 23.5px,#c6c1f7 24.5px,#3333f3 26.5px,#1111f1 27.5px,#0a0af1 28.5px,#2424f2 29.5px,#6868f6 30.5px,#b6b4f8 31.5px,#ecd7e7 32.5px,#fabbbd 33.5px,#f77c7c 35.5px,#f44646 38.5px,#f33535 41.5px,#f54e4e 44.5px,#f88c8c 47.5px,#f5d0d6 49.5px,#d1caf5 50.5px,#8a8af8 51.5px,#3d3df4 52.5px,#1212f1 53.5px,#0303f0 54.5px,#0000f0 56.5px)"></div>
<div style="left:276px;top:93px;width:57px;height:1px;background:linear-gradient(90deg,#0000f0 0.5px,#0b0bf1 2.5px,#3636f3 3.5px,#8787f8 4.5px,#d2caf4 5.5px,#f6ccd2 6.5px,#f88787 8.5px,#f44747 11.5px,#f22a2a 14.5px,#f33939 17.5px,#f66e6e 20.5px,#faa8a8 22.5px,#f6ccd2 23.5px,#d4ccf4 24.5px,#8b8bf8 25.5px,#3d3df4 26.5px,#1212f1 27.5px,#0c0cf1 28.5px,#2c2cf3 29.5px,#c6c0f6 31.5px,#f3d2dc 32.5px,#f88d8d 34.5px,#f44a4a 37.5px,#f32b2b 40.5px,#f33636 43.5px,#f66969 46.5px,#f9a1a1 48.5px,#f8c6c9 49.5px,#ded2f1 50.5px,#9a99f8 51.5px,#4949f4 52.5px,#1515f1 53.5px,#0303f0 54.5px,#0000f0 56.5px)"></div>
<div style="left:276px;top:94px;width:57px;height:1px;background:linear-gradient(90deg,#0000f0 0.5px,#0101f0 1.5px,#0e0ef1 2.5px,#4141f4 3.5px,#9695f8 4.5px,#ddd1f0 5.5px,#f8c3c7 6.5px,#f77e7e 8.5px,#f43d3d 11.5px,#f21f1f 14.5px,#f22424 16.5px,#f54f4f 19.5px,#f77e7e 21.5px,#f8c3c7 23.5px,#dfd2f0 24.5px,#9a99f8 25.5px,#4747f4 26.5px,#1515f1 27.5px,#0d0df1 28.5px,#3535f3 29.5px,#8686f8 30.5px,#d2caf4 31.5px,#f6cad0 32.5px,#f88484 34.5px,#f44040 37.5px,#f21f1f 40.5px,#f22323 42.5px,#f44b4b 45.5px,#f99797 48.5px,#f9bcbe 49.5px,#e7d5ea 50.5px,#a9a7f8 51.5px,#5555f5 52.5px,#1818f1 53.5px,#0303f0 54.5px,#0000f0 56.5px)"></div>
<div style="left:276px;top:95px;width:57px;height:1px;background:linear-gradient(90deg,#0000f0 0.5px,#0101f0 1.5px,#1010f1 2.5px,#4c4cf4 3.5px,#a3a1f8 4.5px,#e6d3ea 5.5px,#f9bbbd 6.5px,#f77676 8.5px,#f33434 11.5px,#f11414 14.5px,#f21a1a 16.5px,#f44747 19.5px,#f99595 22.5px,#f9bbbd 23.5px,#e7d4ea 24.5px,#a6a4f8 25.5px,#5252f5 26.5px,#1717f1 27.5px,#0f0ff1 28.5px,#3e3ef4 29.5px,#9392f8 30.5px,#ddd0f0 31.5px,#f8c2c6 32.5px,#f77c7c 34.5px,#f33737 37.5px,#f11414 40.5px,#f11818 42.5px,#f44343 45.5px,#f88e8e 48.5px,#fab4b5 49.5px,#eed3e2 50.5px,#b5b1f7 51.5px,#6161f6 52.5px,#1c1cf2 53.5px,#0303f0 54.5px,#0000f0 56.5px)"></div>
<div style="left:276px;top:96px;width:57px;height:1px;background:linear-gradient(90deg,#0000f0 0.5px,#0101f0 1.5px,#1313f1 2.5px,#5656f5 3.5px,#aeabf7 4.5px,#ecd2e3 5.5px,#f9b4b5 6.5px,#f77070 8.5px,#f32c2c 11.5px,#f11010 13.5px,#f10a0a 15.5px,#f21c1c 17.5px,#f55656 20.5px,#f88e8e 22.5px,#fab4b5 23.5px,#ecd3e3 24.5px,#b1aef7 25.5px,#5c5cf5 26.5px,#1a1af2 27.5px,#1111f1 28.5px,#4747f4 29.5px,#9f9df8 30.5px,#e4d2eb 31.5px,#f9bcbe 32.5px,#f77575 34.5px,#f33030 37.5px,#f10a0a 40.5px,#f10e0e 42.5px,#f33b3b 45.5px,#f88787 48.5px,#faadad 49.5px,#f2d0db 50.5px,#bfbaf6 51.5px,#2020f2 53.5px,#0404f0 54.5px,#0000f0 56.5px)"></div>
<div style="left:276px;top:97px;width:57px;height:1px;background:linear-gradient(90deg,#0000f0 0.5px,#0202f0 1.5px,#1616f1 2.5px,#5f5ff6 3.5px,#b7b2f6 4.5px,#efd1dd 5.5px,#faaeaf 6.5px,#f66a6a 8.5px,#f22525 11.5px,#f00808 13.5px,#f00202 15.5px,#f11414 17.5px,#f55050 20.5px,#f88888 22.5px,#faaeaf 23.5px,#f0d1dd 24.5px,#bab5f6 25.5px,#6565f6 26.5px,#1d1df2 27.5px,#1414f1 28.5px,#4f4ff5 29.5px,#a8a5f7 30.5px,#e9d3e6 31.5px,#f9b6b7 32.5px,#f77070 34.5px,#f22929 37.5px,#f10a0a 39.5px,#f00202 41.5px,#f11111 43.5px,#f44b4b 46.5px,#f88282 48.5px,#f4cbd3 50.5px,#c8c1f4 51.5px,#2424f2 53.5px,#0505f0 54.5px,#0000f0 56.5px)"></div>
<div style="left:276px;top:98px;width:57px;height:1px;background:linear-gradient(90deg,#0000f0 0.5px,#0202f0 1.5px,#1a1af2 2.5px,#6767f6 3.5px,#beb9f5 4.5px,#f2ced8 5.5px,#f88383 7.5px,#f33434 10.5px,#f10e0e 12.5px,#f00000 14.5px,#f00303 16.5px,#f21f1f 18.5px,#f66565 21.5px,#faa9a9 23.5px,#f3cfd8 24.5px,#c1bbf5 25.5px,#2020f2 27.5px,#1616f1 28.5px,#5656f5 29.5px,#afabf6 30.5px,#ecd1e1 31.5px,#fab1b2 32.5px,#f66b6b 34.5px,#f22323 37.5px,#f00404 39.5px,#f00202 42.5px,#f21b1b 44.5px,#f66060 47.5px,#f9a1a1 49.5px,#f5c7cd 50.5px,#cfc6f3 51.5px,#2929f2 53.5px,#0606f0 54.5px,#0000f0 56.5px)"></div>
<div style="left:276px;top:99px;width:57px;height:1px;background:linear-gradient(90deg,#0000f0 0.5px,#0202f0 1.5px,#1c1cf2 2.5px,#c4bdf4 4.5px,#f3cbd3 5.5px,#f88080 7.5px,#f33030 10.5px,#f10909 12.5px,#f00000 15.5px,#f10909 17.5px,#f44848 20.5px,#f88080 22.5px,#f4cbd3 24.5px,#c6bff4 25.5px,#2323f2 27.5px,#1818f1 28.5px,#5c5cf5 29.5px,#b5b0f6 30.5px,#efd0dd 31.5px,#faaeae 32.5px,#f66868 34.5px,#f21f1f 37.5px,#f00202 39.5px,#f00707 43.5px,#f44343 46.5px,#f77a7a 48.5px,#f6c4c9 50.5px,#d4caf2 51.5px,#8282f8 52.5px,#2c2cf3 53.5px,#0606f0 54.5px,#0000f0 56.5px)"></div>
<div style="left:276px;top:100px;width:57px;height:1px;background:linear-gradient(90deg,#0000f0 0.5px,#0303f0 1.5px,#1e1ef2 2.5px,#c7bff4 4.5px,#f4c8d0 5.5px,#f77e7e 7.5px,#f32d2d 10.5px,#f00707 12.5px,#f00101 16.5px,#f00707 17.5px,#f44545 20.5px,#f77e7e 22.5px,#f4c9d0 24.5px,#c9c1f4 25.5px,#2525f2 27.5px,#1a1af2 28.5px,#5f5ff6 29.5px,#b8b3f5 30.5px,#f0d0db 31.5px,#faabac 32.5px,#f66565 34.5px,#f21c1c 37.5px,#f10909 38.5px,#f00000 40.5px,#f00505 43.5px,#f44040 46.5px,#f99a9a 49.5px,#f7c2c7 50.5px,#d7ccf1 51.5px,#8686f8 52.5px,#2f2ff3 53.5px,#0707f0 54.5px,#0000f0 56.5px)"></div>
<div style="left:276px;top:101px;width:57px;height:2px;background:linear-gradient(90deg,#0000f0 0.5px,#0303f0 1.5px,#1f1ff2 2.5px,#c9c1f3 4.5px,#f4c7cf 5.5px,#f77d7d 7.5px,#f32c2c 10.5px,#f00606 12.5px,#f00000 16.5px,#f00606 17.5px,#f44444 20.5px,#f77d7d 22.5px,#f5c8cf 24.5px,#cbc3f3 25.5px,#2626f2 27.5px,#1b1bf2 28.5px,#6161f6 29.5px,#bab5f5 30.5px,#f1cfda 31.5px,#faaaaa 32.5px,#f66464 34.5px,#f21a1a 37.5px,#f00808 38.5px,#f00000 41.5px,#f00404 43.5px,#f22828 45.5px,#f77676 48.5px,#f7c1c5 50.5px,#d8ccf0 51.5px,#8887f7 52.5px,#3030f3 53.5px,#0707f0 54.5px,#0000f0 56.5px)"></div>
<div style="left:276px;top:103px;width:57px;height:1px;background:linear-gradient(90deg,#0000f0 0.5px,#0303f0 1.5px,#1e1ef2 2.5px,#c7bff4 4.5px,#f4c8d0 5.5px,#f77e7e 7.5px,#f32d2d 10.5px,#f00707 12.5px,#f00101 16.5px,#f00707 17.5px,#f44545 20.5px,#f77e7e 22.5px,#f4c9d0 24.5px,#c9c1f4 25.5px,#2525f2 27.5px,#1a1af2 28.5px,#5f5ff6 29.5px,#b8b3f5 30.5px,#f0d0db 31.5px,#faabac 32.5px,#f66565 34.5px,#f21c1c 37.5px,#f10909 38.5px,#f00000 40.5px,#f00505 43.5px,#f44040 46.5px,#f99a9a 49.5px,#f7c2c7 50.5px,#d7ccf1 51.5px,#8686f8 52.5px,#2f2ff3 53.5px,#0707f0 54.5px,#0000f0 56.5px)"></div>
<div style="left:276px;top:104px;width:57px;height:1px;background:linear-gradient(90deg,#0000f0 0.5px,#0202f0 1.5px,#1c1cf2 2.5px,#c4bdf4 4.5px,#f3cbd3 5.5px,#f88080 7.5px,#f33030 10.5px,#f10909 12.5px,#f00000 15.5px,#f10909 17.5px,#f44848 20.5px,#f88080 22.5px,#f4cbd3 24.5px,#c6bff4 25.5px,#2323f2 27.5px,#1818f1 28.5px,#5c5cf5 29.5px,#b5b0f6 30.5px,#efd0dd 31.5px,#faaeae 32.5px,#f66868 34.5px,#f21f1f 37.5px,#f00202 39.5px,#f00707 43.5px,#f44343 46.5px,#f77a7a 48.5px,#f6c4c9 50.5px,#d4caf2 51.5px,#8282f8 52.5px,#2c2cf3 53.5px,#0606f0 54.5px,#0000f0 56.5px)"></div>
<div style="left:276px;top:105px;width:57px;height:1px;background:linear-gradient(90deg,#0000f0 0.5px,#0202f0 1.5px,#1a1af2 2.5px,#6767f6 3.5px,#beb9f5 4.5px,#f2ced8 5.5px,#f88383 7.5px,#f33434 10.5px,#f10e0e 12.5px,#f00000 14.5px,#f00303 16.5px,#f21f1f 18.5px,#f66565 21.5px,#faa9a9 23.5px,#f3cfd8 24.5px,#c1bbf5 25.5px,#2020f2 27.5px,#1616f1 28.5px,#5656f5 29.5px,#afabf6 30.5px,#ecd1e1 31.5px,#fab1b2 32.5px,#f66b6b 34.5px,#f22323 37.5px,#f00404 39.5px,#f00202 42.5px,#f21b1b 44.5px,#f66060 47.5px,#f9a1a1 49.5px,#f5c7cd 50.5px,#cfc6f3 51.5px,#2929f2 53.5px,#0606f0 54.5px,#0000f0 56.5px)"></div>
<div style="left:276px;top:106px;width:57px;height:1px;background:linear-gradient(90deg,#0000f0 0.5px,#0202f0 1.5px,#1616f1 2.5px,#5f5ff6 3.5px,#b7b2f6 4.5px,#efd1dd 5.5px,#faaeaf 6.5px,#f66a6a 8.5px,#f22525 11.5px,#f00808 13.5px,#f00202 15.5px,#f11414 17.5px,#f55050 20.5px,#f88888 22.5px,#faaeaf 23.5px,#f0d1dd 24.5px,#bab5f6 25.5px,#6565f6 26.5px,#1d1df2 27.5px,#1414f1 28.5px,#4f4ff5 29.5px,#a8a5f7 30.5px,#e9d3e6 31.5px,#f9b6b7 32.5px,#f77070 34.5px,#f22929 37.5px,#f10a0a 39.5px,#f00202 41.5px,#f11111 43.5px,#f44b4b 46.5px,#f88282 48.5px,#f4cbd3 50.5px,#c8c1f4 51.5px,#2424f2 53.5px,#0505f0 54.5px,#0000f0 56.5px)"></div>
<div style="left:276px;top:107px;width:57px;height:1px;background:linear-gradient(90deg,#0000f0 0.5px,#0101f0 1.5px,#1313f1 2.5px,#5656f5 3.5px,#aeabf7 4.5px,#ecd2e3 5.5px,#f9b4b5 6.5px,#f77070 8.5px,#f32c2c 11.5px,#f11010 13.5px,#f10a0a 15.5px,#f21c1c 17.5px,#f55656 20.5px,#f88e8e 22.5px,#fab4b5 23.5px,#ecd3e3 24.5px,#b1aef7 25.5px,#5c5cf5 26.5px,#1a1af2 27.5px,#1111f1 28.5px,#4747f4 29.5px,#9f9df8 30.5px,#e4d2eb 31.5px,#f9bcbe 32.5px,#f77575 34.5px,#f33030 37.5px,#f10a0a 40.5px,#f10e0e 42.5px,#f33b3b 45.5px,#f88787 48.5px,#faadad 49.5px,#f2d0db 50.5px,#bfbaf6 51.5px,#2020f2 53.5px,#0404f0 54.5px,#0000f0 56.5px)"></div>
<div style="left:276px;top:108px;width:57px;height:1px;background:linear-gradient(90deg,#0000f0 0.5px,#0101f0 1.5px,#1010f1 2.5px,#4c4cf4 3.5px,#a3a1f8 4.5px,#e6d3ea 5.5px,#f9bbbd 6.5px,#f77676 8.5px,#f33434 11.5px,#f11414 14.5px,#f21a1a 16.5px,#f44747 19.5px,#f99595 22.5px,#f9bbbd 23.5px,#e7d4ea 24.5px,#a6a4f8 25.5px,#5252f5 26.5px,#1717f1 27.5px,#0f0ff1 28.5px,#3e3ef4 29.5px,#9392f8 30.5px,#ddd0f0 31.5px,#f8c2c6 32.5px,#f77c7c 34.5px,#f33737 37.5px,#f11414 40.5px,#f11818 42.5px,#f44343 45.5px,#f88e8e 48.5px,#fab4b5 49.5px,#eed3e2 50.5px,#b5b1f7 51.5px,#6161f6 52.5px,#1c1cf2 53.5px,#0303f0 54.5px,#0000f0 56.5px)"></div>
<div style="left:276px;top:109px;width:57px;height:1px;background:linear-gradient(90deg,#0000f0 0.5px,#0101f0 1.5px,#0e0ef1 2.5px,#4141f4 3.5px,#9695f8 4.5px,#ddd1f0 5.5px,#f8c3c7 6.5px,#f77e7e 8.5px,#f43d3d 11.5px,#f21f1f 14.5px,#f22424 16.5px,#f54f4f 19.5px,#f77e7e 21.5px,#f8c3c7 23.5px,#dfd2f0 24.5px,#9a99f8 25.5px,#4747f4 26.5px,#1515f1 27.5px,#0d0df1 28.5px,#3535f3 29.5px,#8686f8 30.5px,#d2caf4 31.5px,#f6cad0 32.5px,#f88484 34.5px,#f44040 37.5px,#f21f1f 40.5px,#f22323 42.5px,#f44b4b 45.5px,#f99797 48.5px,#f9bcbe 49.5px,#e7d5ea 50.5px,#a9a7f8 51.5px,#5555f5 52.5px,#1818f1 53.5px,#0303f0 54.5px,#0000f0 56.5px)"></div>
<div style="left:276px;top:110px;width:57px;height:1px;background:linear-gradient(90deg,#0000f0 0.5px,#0b0bf1 2.5px,#3636f3 3.5px,#8787f8 4.5px,#d2caf4 5.5px,#f6ccd2 6.5px,#f88787 8.5px,#f44747 11.5px,#f22a2a 14.5px,#f33939 17.5px,#f66e6e 20.5px,#faa8a8 22.5px,#f6ccd2 23.5px,#d4ccf4 24.5px,#8b8bf8 25.5px,#3d3df4 26.5px,#1212f1 27.5px,#0c0cf1 28.5px,#2c2cf3 29.5px,#c6c0f6 31.5px,#f3d2dc 32.5px,#f88d8d 34.5px,#f44a4a 37.5px,#f32b2b 40.5px,#f33636 43.5px,#f66969 46.5px,#f9a1a1 48.5px,#f8c6c9 49.5px,#ded2f1 50.5px,#9a99f8 51.5px,#4949f4 52.5px,#1515f1 53.5px,#0303f0 54.5px,#0000f0 56.5px)"></div>
<div style="left:276px;top:111px;width:57px;height:1px;background:linear-gradient(90deg,#0000f0 0.5px,#0909f1 2.5px,#2c2cf3 3.5px,#c3bff7 5.5px,#f1d4df 6.5px,#fab4b5 7.5px,#f77878 9.5px,#f44444 12.5px,#f33636 15.5px,#f55151 18.5px,#f99292 21.5px,#f2d5df 23.5px,#c6c1f7 24.5px,#3333f3 26.5px,#1111f1 27.5px,#0a0af1 28.5px,#2424f2 29.5px,#6868f6 30.5px,#b6b4f8 31.5px,#ecd7e7 32.5px,#fabbbd 33.5px,#f77c7c 35.5px,#f44646 38.5px,#f33535 41.5px,#f54e4e 44.5px,#f88c8c 47.5px,#f5d0d6 49.5px,#d1caf5 50.5px,#8a8af8 51.5px,#3d3df4 52.5px,#1212f1 53.5px,#0303f0 54.5px,#0000f0 56.5px)"></div>
<div style="left:276px;top:112px;width:57px;height:1px;background:linear-gradient(90deg,#0000f0 0.5px,#0808f0 2.5px,#2424f2 3.5px,#6565f6 4.5px,#b2b0f8 5.5px,#ead8eb 6.5px,#f9c1c2 7.5px,#f88383 9.5px,#f55050 12.5px,#f44242 15.5px,#f55c5c 18.5px,#f88383 20.5px,#fac1c2 22.5px,#ead9eb 23.5px,#b6b4f9 24.5px,#6b6bf6 25.5px,#2b2bf3 26.5px,#0f0ff1 27.5px,#0a0af1 28.5px,#1e1ef2 29.5px,#5858f5 30.5px,#a5a4f9 31.5px,#e2d6f0 32.5px,#f8c7cb 33.5px,#f88888 35.5px,#f55252 38.5px,#f44242 41.5px,#f55a5a 44.5px,#f99898 47.5px,#fababb 48.5px,#f0d7e4 49.5px,#c2bef8 50.5px,#3232f3 52.5px,#1010f1 53.5px,#0303f0 54.5px,#0000f0 56.5px)"></div>
<div style="left:276px;top:113px;width:57px;height:1px;background:linear-gradient(90deg,#0000f0 0.5px,#0707f0 2.5px,#1e1ef2 3.5px,#5454f5 4.5px,#9f9ff9 5.5px,#ddd4f3 6.5px,#f7ced2 7.5px,#f89090 9.5px,#f55c5c 12.5px,#f54f4f 15.5px,#f66969 18.5px,#f89090 20.5px,#f8ced2 22.5px,#dfd5f3 23.5px,#a3a3f9 24.5px,#5b5bf5 25.5px,#2626f2 26.5px,#0f0ff1 27.5px,#0909f1 28.5px,#1a1af2 29.5px,#4848f4 30.5px,#9291f8 31.5px,#d3cdf6 32.5px,#f5d3db 33.5px,#f99595 35.5px,#f65e5e 38.5px,#f54f4f 41.5px,#f66666 44.5px,#f88b8b 46.5px,#f9c8ca 48.5px,#e6d9ef 49.5px,#b0aff9 50.5px,#6767f6 51.5px,#2a2af2 52.5px,#0f0ff1 53.5px,#0000f0 55.5px,#0000f0 56.5px)"></div>
<div style="left:276px;top:114px;width:57px;height:1px;background:linear-gradient(90deg,#0000f0 0.5px,#0707f0 2.5px,#1a1af2 3.5px,#4444f4 4.5px,#ccc8f8 6.5px,#f2d9e4 7.5px,#f99e9e 9.5px,#f77676 11.5px,#f55d5d 14.5px,#f66969 17.5px,#f88787 19.5px,#fabdbd 21.5px,#f3dae4 22.5px,#cecaf8 23.5px,#4b4bf4 25.5px,#2222f2 26.5px,#0f0ff1 27.5px,#0909f1 28.5px,#1818f1 29.5px,#3b3bf3 30.5px,#c1bff9 32.5px,#eedbea 33.5px,#fac3c5 34.5px,#f88b8b 36.5px,#f66262 39.5px,#f66060 42.5px,#f88484 45.5px,#fab6b6 47.5px,#f6d5dc 48.5px,#d8d1f6 49.5px,#9c9bf9 50.5px,#5555f5 51.5px,#2525f2 52.5px,#0f0ff1 53.5px,#0000f0 55.5px,#0000f0 56.5px)"></div>
<div style="left:276px;top:115px;width:57px;height:1px;background:linear-gradient(90deg,#0000f0 0.5px,#0707f0 2.5px,#1818f1 3.5px,#3737f3 4.5px,#b8b6fa 6.5px,#e8dcf1 7.5px,#f9ced0 8.5px,#f99696 10.5px,#f76f6f 13.5px,#f76f6f 16.5px,#f99696 19.5px,#f9ced0 21.5px,#e9ddf1 22.5px,#bbbafa 23.5px,#3f3ff4 25.5px,#2020f2 26.5px,#0f0ff1 27.5px,#0909f1 28.5px,#1616f1 29.5px,#3232f3 30.5px,#6a6af6 31.5px,#adacfa 32.5px,#e1d9f5 33.5px,#f8d3d8 34.5px,#f99b9b 36.5px,#f77171 39.5px,#f66e6e 42.5px,#f99292 45.5px,#fac8c9 47.5px,#eeddec 48.5px,#c5c3f9 49.5px,#4747f4 51.5px,#2222f2 52.5px,#0303f0 54.5px,#0000f0 56.5px)"></div>
<div style="left:276px;top:116px;width:57px;height:1px;background:linear-gradient(90deg,#0000f0 0.5px,#0707f0 2.5px,#2f2ff3 4.5px,#6161f6 5.5px,#a1a1f9 6.5px,#d7d3f8 7.5px,#f5dde5 8.5px,#faa8a8 10.5px,#f88888 12.5px,#f77b7b 15.5px,#f99595 18.5px,#fbc3c3 20.5px,#f5dde5 21.5px,#d9d5f8 22.5px,#a6a6fa 23.5px,#6868f6 24.5px,#3838f3 25.5px,#0f0ff1 27.5px,#0909f1 28.5px,#2c2cf3 30.5px,#5757f5 31.5px,#cfccf9 33.5px,#f1dfeb 34.5px,#faadad 36.5px,#f88a8a 38.5px,#f77a7a 41.5px,#f99292 44.5px,#fbbdbd 46.5px,#f7d9de 47.5px,#e1daf7 48.5px,#b0b0fa 49.5px,#3c3cf4 51.5px,#2020f2 52.5px,#0303f0 54.5px,#0000f0 56.5px)"></div>
<div style="left:276px;top:117px;width:57px;height:1px;background:linear-gradient(90deg,#0000f0 0.5px,#0707f0 2.5px,#2b2bf3 4.5px,#4f4ff5 5.5px,#c2c2fb 7.5px,#eae1f4 8.5px,#f9d7db 9.5px,#faa7a7 11.5px,#f89090 13.5px,#f89090 16.5px,#faa7a7 18.5px,#fad8db 20.5px,#ebe2f4 21.5px,#c6c6fb 22.5px,#5757f5 24.5px,#3333f3 25.5px,#0f0ff1 27.5px,#0909f1 28.5px,#2929f2 30.5px,#4949f4 31.5px,#bab9fb 33.5px,#e4def7 34.5px,#f8dce1 35.5px,#faabab 37.5px,#f99292 39.5px,#f88f8f 42.5px,#faa4a4 44.5px,#fad2d4 46.5px,#efe3f1 47.5px,#cecdfb 48.5px,#5f5ff6 50.5px,#3636f3 51.5px,#0e0ef1 53.5px,#0000f0 55.5px,#0000f0 56.5px)"></div>
<div style="left:276px;top:118px;width:57px;height:1px;background:linear-gradient(90deg,#0000f0 0.5px,#0707f0 2.5px,#2929f2 4.5px,#4444f4 5.5px,#acacfa 7.5px,#d9d6fb 8.5px,#f3e5f0 9.5px,#fbbebe 11.5px,#faa3a3 13.5px,#faa3a3 16.5px,#fbbebe 18.5px,#f4e7f0 20.5px,#dcdafb 21.5px,#b1b1fa 22.5px,#4d4df5 24.5px,#1f1ff2 26.5px,#0f0ff1 27.5px,#0909f1 28.5px,#2828f2 30.5px,#4040f4 31.5px,#6c6cf6 32.5px,#d2d1fb 34.5px,#f0e6f4 35.5px,#fbd9dc 36.5px,#fab0b0 38.5px,#f99f9f 40.5px,#faabab 43.5px,#fbd0d1 45.5px,#f7e5ec 46.5px,#e1defa 47.5px,#b9b9fb 48.5px,#5151f5 50.5px,#3333f3 51.5px,#0303f0 54.5px,#0000f0 56.5px)"></div>
<div style="left:276px;top:119px;width:57px;height:1px;background:linear-gradient(90deg,#0000f0 0.5px,#0707f0 2.5px,#3e3ef4 5.5px,#6262f6 6.5px,#c4c4fb 8.5px,#e6e3fa 9.5px,#f8e9ef 10.5px,#fcc6c6 12.5px,#fbb5b5 14.5px,#fbbaba 16.5px,#fcd8d9 18.5px,#f8eaef 19.5px,#eae7fb 20.5px,#cacafc 21.5px,#6a6af6 23.5px,#4747f4 24.5px,#0f0ff1 27.5px,#0909f1 28.5px,#3c3cf4 31.5px,#5c5cf5 32.5px,#bebefb 34.5px,#e2e0fb 35.5px,#f6eaf2 36.5px,#fbbcbc 39.5px,#fbb4b4 41.5px,#fbc3c3 43.5px,#f9e7eb 45.5px,#ede9f9 46.5px,#d0cffc 47.5px,#7171f7 49.5px,#4a4af4 50.5px,#0e0ef1 53.5px,#0000f0 55.5px,#0000f0 56.5px)"></div>
<div style="left:276px;top:120px;width:57px;height:1px;background:linear-gradient(90deg,#0000f0 0.5px,#0707f0 2.5px,#3c3cf4 5.5px,#5656f5 6.5px,#d6d6fc 9.5px,#eeecfb 10.5px,#f8eef3 11.5px,#fcd1d1 14.5px,#fcd7d8 16.5px,#f8eef3 18.5px,#f0edfb 19.5px,#dcdcfd 20.5px,#6060f6 23.5px,#1f1ff2 26.5px,#0f0ff1 27.5px,#0909f1 28.5px,#3b3bf3 31.5px,#5353f5 32.5px,#d1d1fc 35.5px,#eceafc 36.5px,#f7eff5 37.5px,#fcd2d2 40.5px,#fcd5d6 42.5px,#f9ecf1 44.5px,#f2eefa 45.5px,#e0dffd 46.5px,#bdbdfb 47.5px,#6464f6 49.5px,#3232f3 51.5px,#0303f0 54.5px,#0000f0 56.5px)"></div>
<div style="left:276px;top:121px;width:57px;height:1px;background:linear-gradient(90deg,#0000f0 0.5px,#0707f0 2.5px,#5252f5 6.5px,#7070f7 7.5px,#c5c5fc 9.5px,#e2e2fd 10.5px,#f5f1fa 12.5px,#faeef1 15.5px,#efeefd 18.5px,#e4e4fd 19.5px,#cdcdfc 20.5px,#7a7af7 22.5px,#4545f4 24.5px,#0f0ff1 27.5px,#0909f1 28.5px,#3b3bf3 31.5px,#6c6cf6 33.5px,#c0c0fb 35.5px,#dfdffd 36.5px,#f4f0fa 38.5px,#fbeef1 41.5px,#f1effc 44.5px,#e6e6fd 45.5px,#d1d1fc 46.5px,#5d5df5 49.5px,#0e0ef1 53.5px,#0000f0 55.5px,#0000f0 56.5px)"></div>
<div style="left:276px;top:122px;width:57px;height:1px;background:linear-gradient(90deg,#0000f0 0.5px,#0707f0 2.5px,#5050f5 6.5px,#8b8bf8 8.5px,#d5d5fd 10.5px,#eaeafe 12.5px,#efeefd 16.5px,#d8d8fd 19.5px,#bfbffb 20.5px,#7373f7 22.5px,#1f1ff2 26.5px,#0f0ff1 27.5px,#0909f1 28.5px,#3b3bf3 31.5px,#6767f6 33.5px,#d2d2fc 36.5px,#e9e9fe 38.5px,#efeefd 42.5px,#dadafd 45.5px,#c3c3fb 46.5px,#7676f7 48.5px,#1f1ff2 52.5px,#0303f0 54.5px,#0000f0 56.5px)"></div>
<div style="left:276px;top:123px;width:57px;height:1px;background:linear-gradient(90deg,#0000f0 0.5px,#0707f0 2.5px,#6767f6 7.5px,#c8c8fc 10.5px,#ddddfd 12.5px,#e2e2fd 16.5px,#ccccfc 19.5px,#b3b3fb 20.5px,#7272f7 22.5px,#1f1ff2 26.5px,#0f0ff1 27.5px,#0909f1 28.5px,#3b3bf3 31.5px,#8080f8 34.5px,#c5c5fc 36.5px,#dcdcfd 38.5px,#e2e2fd 42.5px,#cecefc 45.5px,#b6b6fb 46.5px,#7373f7 48.5px,#1f1ff2 52.5px,#0303f0 54.5px,#0000f0 56.5px)"></div>
<div style="left:276px;top:124px;width:57px;height:1px;background:linear-gradient(90deg,#0000f0 0.5px,#0707f0 2.5px,#6666f6 7.5px,#bebefb 10.5px,#d1d1fc 12.5px,#d5d5fd 16.5px,#c2c2fb 19.5px,#adadfa 20.5px,#5a5af5 23.5px,#0f0ff1 27.5px,#0909f1 28.5px,#3b3bf3 31.5px,#7f7ff7 34.5px,#bcbcfb 36.5px,#d0d0fc 38.5px,#d5d5fd 42.5px,#c3c3fb 45.5px,#afaffa 46.5px,#5b5bf5 49.5px,#0e0ef1 53.5px,#0000f0 55.5px,#0000f0 56.5px)"></div>
<div style="left:276px;top:125px;width:57px;height:1px;background:linear-gradient(90deg,#0000f0 0.5px,#0707f0 2.5px,#6666f6 7.5px,#b9b9fb 10.5px,#cbcbfc 14.5px,#bdbdfb 19.5px,#acacfa 20.5px,#5a5af5 23.5px,#0f0ff1 27.5px,#0909f1 28.5px,#3b3bf3 31.5px,#7e7ef7 34.5px,#b8b8fb 36.5px,#cacafc 40.5px,#bebefb 45.5px,#adadfa 46.5px,#5b5bf5 49.5px,#0e0ef1 53.5px,#0000f0 55.5px,#0000f0 56.5px)"></div>
<div style="left:276px;top:126px;width:57px;height:1px;background:linear-gradient(90deg,#0000f0 0.5px,#0707f0 2.5px,#6666f6 7.5px,#b8b8fb 10.5px,#c2c2fb 14.5px,#bcbcfb 19.5px,#acacfa 20.5px,#5a5af5 23.5px,#0f0ff1 27.5px,#0909f1 28.5px,#3b3bf3 31.5px,#7e7ef7 34.5px,#b7b7fb 36.5px,#c1c1fb 39.5px,#bdbdfb 45.5px,#adadfa 46.5px,#5b5bf5 49.5px,#0e0ef1 53.5px,#0000f0 55.5px,#0000f0 56.5px)"></div>
<div style="left:276px;top:127px;width:57px;height:1px;background:linear-gradient(90deg,#0000f0 0.5px,#0707f0 2.5px,#6666f6 7.5px,#b8b8fb 10.5px,#bfbffb 14.5px,#bcbcfb 19.5px,#acacfa 20.5px,#5a5af5 23.5px,#0f0ff1 27.5px,#0909f1 28.5px,#3b3bf3 31.5px,#7e7ef7 34.5px,#b7b7fb 36.5px,#bfbffb 39.5px,#bdbdfb 45.5px,#adadfa 46.5px,#5b5bf5 49.5px,#0e0ef1 53.5px,#0000f0 55.5px,#0000f0 56.5px)"></div>
<div style="left:276px;top:128px;width:57px;height:1px;background:linear-gradient(90deg,#0000f0 0.5px,#0707f0 2.5px,#6666f6 7.5px,#b8b8fb 10.5px,#bfbffb 13.5px,#bcbcfb 19.5px,#acacfa 20.5px,#5a5af5 23.5px,#0f0ff1 27.5px,#0909f1 28.5px,#3b3bf3 31.5px,#7e7ef7 34.5px,#b7b7fb 36.5px,#bfbffb 39.5px,#bdbdfb 45.5px,#adadfa 46.5px,#5b5bf5 49.5px,#0e0ef1 53.5px,#0000f0 55.5px,#0000f0 56.5px)"></div>
<div style="left:211px;top:174px;width:110px;height:1px;background:linear-gradient(90deg,#1f48a0 0.5px,#2049a0 9.5px,#3656a6 11.5px,#4c64ad 12.5px,#7e8cc4 13.5px,#bdc2e2 14.5px,#f4edf2 15.5px,#f5a4a6 16.5px,#ec5154 17.5px,#e7282c 18.5px,#e41b1f 21.5px,#e72428 23.5px,#ea3e41 24.5px,#f7e1e3 26.5px,#cbcde6 27.5px,#556bb1 29.5px,#3b59a8 30.5px,#214aa0 32.5px,#1e48a0 109.5px)"></div>
<div style="left:211px;top:175px;width:110px;height:1px;background:linear-gradient(90deg,#1f48a0 0.5px,#234ba1 10.5px,#435eaa 12.5px,#697bbb 13.5px,#e0deec 15.5px,#f6c0c2 16.5px,#ef6a6d 17.5px,#e82d31 18.5px,#e51c20 20.5px,#e62226 23.5px,#e93034 24.5px,#f0777a 25.5px,#f6ced0 26.5px,#d7d6ea 27.5px,#6073b6 29.5px,#3f5ba9 30.5px,#214aa0 32.5px,#1e48a0 109.5px)"></div>
<div style="left:211px;top:176px;width:110px;height:1px;background:linear-gradient(90deg,#1f48a0 0.5px,#2149a0 10.5px,#3957a7 12.5px,#5268b0 13.5px,#c9cbe5 15.5px,#f5dee2 16.5px,#ea3d41 18.5px,#e72428 19.5px,#e51c20 22.5px,#e82a2e 24.5px,#ee6062 25.5px,#f5b5b7 26.5px,#e7e2ee 27.5px,#aeb5db 28.5px,#6e7fbd 29.5px,#445fab 30.5px,#234ba1 32.5px,#1e48a0 109.5px)"></div>
<div style="left:211px;top:177px;width:110px;height:1px;background:linear-gradient(90deg,#1f48a0 0.5px,#234ba1 11.5px,#445fab 13.5px,#6e7fbd 14.5px,#aeb5db 15.5px,#e7e1ec 16.5px,#f5b2b4 17.5px,#ed5c5f 18.5px,#e82a2e 19.5px,#e41c20 21.5px,#e7262a 24.5px,#eb464a 25.5px,#f6eaef 27.5px,#bfc4e2 28.5px,#7e8dc4 29.5px,#4b63ad 30.5px,#264ca2 32.5px,#1f48a0 43.5px,#1e48a0 109.5px)"></div>
<div style="left:211px;top:178px;width:110px;height:1px;background:linear-gradient(90deg,#1f48a0 0.5px,#2149a0 11.5px,#3958a7 13.5px,#546ab1 14.5px,#cdcfe6 16.5px,#f5d5d9 17.5px,#f17f81 18.5px,#e93236 19.5px,#e62226 20.5px,#e51d21 23.5px,#e62226 24.5px,#e93135 25.5px,#f17c7e 26.5px,#f6d4d7 27.5px,#d0d0e7 28.5px,#556bb1 30.5px,#3a58a7 31.5px,#2149a0 33.5px,#1e48a0 109.5px)"></div>
<div style="left:211px;top:179px;width:110px;height:1px;background:linear-gradient(90deg,#1f48a0 0.5px,#224aa1 12.5px,#455fab 14.5px,#7081be 15.5px,#b2b8dd 16.5px,#ebe3ec 17.5px,#f4a8aa 18.5px,#ec5255 19.5px,#e7282b 20.5px,#e41b1f 22.5px,#e61f23 24.5px,#e82a2e 25.5px,#ee6063 26.5px,#f5b8ba 27.5px,#e2deec 28.5px,#6578b9 30.5px,#405ca9 31.5px,#214aa0 33.5px,#1e48a0 109.5px)"></div>
<div style="left:211px;top:180px;width:110px;height:1px;background:linear-gradient(90deg,#1e48a0 0.5px,#2149a0 12.5px,#3957a7 14.5px,#546ab1 15.5px,#d0d0e7 17.5px,#f5cfd2 18.5px,#f0777a 19.5px,#e93034 20.5px,#e62125 21.5px,#e51e22 24.5px,#e72529 25.5px,#eb4447 26.5px,#f4e9ee 28.5px,#bbc0e1 29.5px,#7887c1 30.5px,#4761ac 31.5px,#234ba1 33.5px,#1e48a0 109.5px)"></div>
<div style="left:211px;top:181px;width:110px;height:1px;background:linear-gradient(90deg,#1e48a0 0.5px,#224aa1 13.5px,#445fab 15.5px,#6f81be 16.5px,#b3b9dd 17.5px,#ede3ec 18.5px,#f4a2a4 19.5px,#ec4b4f 20.5px,#e7262a 21.5px,#e51c20 24.5px,#e62125 25.5px,#e83033 26.5px,#f0777a 27.5px,#f6d2d5 28.5px,#cecfe6 29.5px,#5167af 31.5px,#274da2 33.5px,#1f49a0 38.5px,#1e48a0 109.5px)"></div>
<div style="left:211px;top:182px;width:110px;height:1px;background:linear-gradient(90deg,#1e48a0 0.5px,#2049a0 13.5px,#3757a7 15.5px,#5269b0 16.5px,#d1d0e7 18.5px,#f5cccf 19.5px,#f07275 20.5px,#e82f33 21.5px,#e51c20 23.5px,#e51f23 25.5px,#e7282c 26.5px,#ed585b 27.5px,#f5b1b4 28.5px,#e3deeb 29.5px,#6276b7 31.5px,#3e5ba9 32.5px,#214aa0 34.5px,#1e48a0 109.5px)"></div>
<div style="left:211px;top:183px;width:110px;height:1px;background:linear-gradient(90deg,#1e48a0 0.5px,#224aa0 14.5px,#425daa 16.5px,#6d7ebc 17.5px,#b1b7dc 18.5px,#ece2eb 19.5px,#f49fa1 20.5px,#eb474b 21.5px,#e72529 22.5px,#e51d21 25.5px,#e62327 26.5px,#ea393c 27.5px,#f5e5e9 29.5px,#bdc1e1 30.5px,#7787c1 31.5px,#4660ab 32.5px,#224aa1 34.5px,#1e48a0 109.5px)"></div>
<div style="left:211px;top:184px;width:110px;height:1px;background:linear-gradient(90deg,#1e48a0 0.5px,#254ca1 15.5px,#3555a6 16.5px,#4f67af 17.5px,#cecfe6 19.5px,#f4cbce 20.5px,#f07073 21.5px,#e82e32 22.5px,#e51c20 24.5px,#e61f23 26.5px,#e82c30 27.5px,#ef6a6d 28.5px,#f5c7ca 29.5px,#d2d2e7 30.5px,#5167af 32.5px,#3656a6 33.5px,#264ca2 34.5px,#1e48a0 47.5px,#1e48a0 109.5px)"></div>
<div style="left:211px;top:185px;width:110px;height:1px;background:linear-gradient(90deg,#1e48a0 0.5px,#214aa0 15.5px,#2b4fa3 16.5px,#3f5ca9 17.5px,#687aba 18.5px,#adb3da 19.5px,#eae0ea 20.5px,#f39fa1 21.5px,#eb464a 22.5px,#e72529 23.5px,#e41b1f 25.5px,#e72529 27.5px,#eb484b 28.5px,#f4a2a4 29.5px,#e9e1eb 30.5px,#aab2d9 31.5px,#6578b9 32.5px,#3e5ba9 33.5px,#2a4fa3 34.5px,#2049a0 36.5px,#1e48a0 109.5px)"></div>
<div style="left:211px;top:186px;width:110px;height:1px;background:linear-gradient(90deg,#1e48a0 0.5px,#234ba1 16.5px,#3254a5 17.5px,#4c64ae 18.5px,#8492c7 19.5px,#cacbe4 20.5px,#f4cdd1 21.5px,#f07275 22.5px,#e82e32 23.5px,#e62024 24.5px,#e62024 27.5px,#e83034 28.5px,#f17a7d 29.5px,#f5d7db 30.5px,#c4c6e2 31.5px,#7d8cc4 32.5px,#4861ac 33.5px,#224aa1 35.5px,#1e48a0 109.5px)"></div>
<div style="left:211px;top:187px;width:110px;height:1px;background:linear-gradient(90deg,#1e48a0 0.5px,#2149a0 16.5px,#284ea2 17.5px,#3b59a8 18.5px,#6074b6 19.5px,#a4add6 20.5px,#e5dce9 21.5px,#f3a3a6 22.5px,#eb494c 23.5px,#e72529 24.5px,#e41b1f 26.5px,#e7272b 28.5px,#ed5558 29.5px,#f4b2b5 30.5px,#ddd9e9 31.5px,#566cb2 33.5px,#3757a7 34.5px,#264ca2 35.5px,#1f48a0 46.5px,#1e48a0 109.5px)"></div>
<div style="left:211px;top:188px;width:110px;height:1px;background:linear-gradient(90deg,#1e48a0 0.5px,#224aa1 17.5px,#2f52a4 18.5px,#4761ac 19.5px,#7b8ac3 20.5px,#c3c5e1 21.5px,#f3d3d7 22.5px,#f0777a 23.5px,#e82f33 24.5px,#e62024 25.5px,#e62125 28.5px,#e93337 29.5px,#f2888a 30.5px,#f4e3e8 31.5px,#b7bcde 32.5px,#6e7fbd 33.5px,#415daa 34.5px,#2b50a3 35.5px,#2049a0 37.5px,#1e48a0 109.5px)"></div>
<div style="left:211px;top:189px;width:110px;height:1px;background:linear-gradient(90deg,#1e48a0 0.5px,#254ca1 18.5px,#3756a6 19.5px,#566cb2 20.5px,#ded7e7 22.5px,#f3acae 23.5px,#ec4e51 24.5px,#e7262a 25.5px,#e41c20 27.5px,#e7292d 29.5px,#ee5f62 30.5px,#f4c0c3 31.5px,#d2d0e6 32.5px,#8a97ca 33.5px,#4d65ae 34.5px,#3253a5 35.5px,#224aa1 36.5px,#1e48a0 109.5px)"></div>
<div style="left:211px;top:190px;width:110px;height:1px;background:linear-gradient(90deg,#1e48a0 0.5px,#214aa0 18.5px,#2b4fa3 19.5px,#415daa 20.5px,#6f81be 21.5px,#b9bdde 22.5px,#f2dbe0 23.5px,#f18082 24.5px,#e93135 25.5px,#e62024 26.5px,#e62226 29.5px,#e9373b 30.5px,#f29295 31.5px,#ece1ea 32.5px,#abb2d9 33.5px,#6175b7 34.5px,#3b59a8 35.5px,#274da2 36.5px,#1f49a0 40.5px,#1e48a0 109.5px)"></div>
<div style="left:211px;top:191px;width:110px;height:1px;background:linear-gradient(90deg,#1e48a0 0.5px,#224aa1 19.5px,#3253a5 20.5px,#4d66ae 21.5px,#d4d1e5 23.5px,#f3b7ba 24.5px,#ed575a 25.5px,#e7272b 26.5px,#e41c20 28.5px,#e82a2e 30.5px,#ef676a 31.5px,#f4c8cc 32.5px,#c8c9e3 33.5px,#7e8dc4 34.5px,#4661ac 35.5px,#2e51a4 36.5px,#214aa0 37.5px,#1e48a0 109.5px)"></div>
<div style="left:211px;top:192px;width:110px;height:1px;background:linear-gradient(90deg,#1e48a0 0.5px,#2049a0 19.5px,#274da2 20.5px,#3a59a8 21.5px,#6276b7 22.5px,#acb3d9 23.5px,#eee0e8 24.5px,#f28b8d 25.5px,#e93438 26.5px,#e62125 27.5px,#e51c20 29.5px,#e62226 30.5px,#ea3c40 31.5px,#f29a9d 32.5px,#e5dce8 33.5px,#9fa8d4 34.5px,#576db2 35.5px,#3656a6 36.5px,#244ba1 37.5px,#1e48a0 109.5px)"></div>
<div style="left:211px;top:193px;width:110px;height:1px;background:linear-gradient(90deg,#1e48a0 0.5px,#214aa0 20.5px,#2c50a4 21.5px,#4560ac 22.5px,#7c8bc3 23.5px,#c7c7e2 24.5px,#f2c4c8 25.5px,#ee6366 26.5px,#e72a2e 27.5px,#e41c20 29.5px,#e82b2f 31.5px,#ef6c6e 32.5px,#f3ced2 33.5px,#c1c3e0 34.5px,#7485c0 35.5px,#425daa 36.5px,#2a4fa3 37.5px,#2049a0 39.5px,#1e48a0 109.5px)"></div>
<div style="left:211px;top:194px;width:110px;height:1px;background:linear-gradient(90deg,#1e48a0 0.5px,#234ba1 21.5px,#3354a5 22.5px,#5269b0 23.5px,#99a3d0 24.5px,#e0d7e5 25.5px,#f29c9f 26.5px,#ea3d41 27.5px,#e62226 28.5px,#e51c20 30.5px,#e62327 31.5px,#ea3e42 32.5px,#f29ea1 33.5px,#e0d8e7 34.5px,#5068af 36.5px,#3254a5 37.5px,#224aa1 38.5px,#1e48a0 109.5px)"></div>
<div style="left:211px;top:195px;width:110px;height:1px;background:linear-gradient(90deg,#1e48a0 0.5px,#2049a0 21.5px,#274da2 22.5px,#3c5aa8 23.5px,#6a7cbb 24.5px,#b7bbdd 25.5px,#f1d4da 26.5px,#f07477 27.5px,#e82e32 28.5px,#e51f23 29.5px,#e51e22 31.5px,#e82b2f 32.5px,#ef6d70 33.5px,#f2d1d5 34.5px,#bcbede 35.5px,#6d7fbd 36.5px,#3e5ba9 37.5px,#284ea2 38.5px,#1f49a0 41.5px,#1e48a0 109.5px)"></div>
<div style="left:211px;top:196px;width:110px;height:1px;background:linear-gradient(90deg,#1e48a0 0.5px,#214aa0 22.5px,#2d51a4 23.5px,#4862ad 24.5px,#8492c7 25.5px,#d0cde2 26.5px,#f2b0b4 27.5px,#ec4e51 28.5px,#e72529 29.5px,#e51c20 31.5px,#e62226 32.5px,#ea3e41 33.5px,#f29fa2 34.5px,#dcd5e5 35.5px,#4d65ae 37.5px,#3052a4 38.5px,#224aa0 39.5px,#1e48a0 109.5px)"></div>
<div style="left:211px;top:197px;width:110px;height:1px;background:linear-gradient(90deg,#1e48a0 0.5px,#234ba1 23.5px,#3455a6 24.5px,#566cb2 25.5px,#a2aad4 26.5px,#eadce5 27.5px,#f1878a 28.5px,#e93337 29.5px,#e62024 30.5px,#e51e22 32.5px,#e82b2f 33.5px,#ef6c6e 34.5px,#f2d0d5 35.5px,#b8bcdd 36.5px,#687bba 37.5px,#3b59a8 38.5px,#264ca2 39.5px,#1e48a0 50.5px,#1e48a0 109.5px)"></div>
<div style="left:211px;top:198px;width:110px;height:1px;background:linear-gradient(90deg,#1e48a0 0.5px,#2049a0 23.5px,#274da2 24.5px,#3d5ba9 25.5px,#6e80bd 26.5px,#bec0de 27.5px,#f1c5ca 28.5px,#ee6265 29.5px,#e7292d 30.5px,#e51c20 32.5px,#e62125 33.5px,#ea393d 34.5px,#f29da0 35.5px,#dbd4e4 36.5px,#8e9acb 37.5px,#4b64ad 38.5px,#2e51a4 39.5px,#214aa0 40.5px,#1e48a0 109.5px)"></div>
<div style="left:211px;top:199px;width:110px;height:1px;background:linear-gradient(90deg,#1e48a0 0.5px,#214aa0 24.5px,#2c50a4 25.5px,#4863ad 26.5px,#8895c9 27.5px,#d6cfe2 28.5px,#f2a1a4 29.5px,#ea3d41 30.5px,#e62226 31.5px,#e51e22 33.5px,#e7292d 34.5px,#ee676a 35.5px,#f1cdd3 36.5px,#b7bbdc 37.5px,#6679b9 38.5px,#3958a7 39.5px,#244ba1 40.5px,#1e48a0 109.5px)"></div>
<div style="left:211px;top:200px;width:110px;height:1px;background:linear-gradient(90deg,#1e48a0 0.5px,#224aa1 25.5px,#3354a5 26.5px,#566cb2 27.5px,#a6add6 28.5px,#efdde4 29.5px,#f07b7e 30.5px,#e82f33 31.5px,#e51f23 32.5px,#e62024 34.5px,#e9363a 35.5px,#f1979a 36.5px,#dcd3e3 37.5px,#8d99cb 38.5px,#4963ad 39.5px,#2c50a3 40.5px,#214aa0 41.5px,#1e48a0 109.5px)"></div>
<div style="left:211px;top:201px;width:110px;height:1px;background:linear-gradient(90deg,#1e48a0 0.5px,#2049a0 25.5px,#254ca1 26.5px,#3c5aa8 27.5px,#6e80bd 28.5px,#c0c1de 29.5px,#f0bcc1 30.5px,#ec5659 31.5px,#e7262a 32.5px,#e51d21 34.5px,#e7272b 35.5px,#ee6063 36.5px,#f1c7cd 37.5px,#b8bbdc 38.5px,#6578b9 39.5px,#3857a7 40.5px,#234ba1 41.5px,#1e48a0 109.5px)"></div>
<div style="left:211px;top:202px;width:110px;height:1px;background:linear-gradient(90deg,#1e48a0 0.5px,#2149a0 26.5px,#2b4fa3 27.5px,#4762ac 28.5px,#8794c8 29.5px,#d8cee1 30.5px,#f1979a 31.5px,#e9373b 32.5px,#e62024 33.5px,#e62024 35.5px,#e93337 36.5px,#f18d90 37.5px,#dfd4e3 38.5px,#8e9acc 39.5px,#4963ad 40.5px,#2b50a3 41.5px,#1f49a0 43.5px,#1e48a0 109.5px)"></div>
<div style="left:211px;top:203px;width:110px;height:1px;background:linear-gradient(90deg,#1e48a0 0.5px,#224aa1 27.5px,#3053a5 28.5px,#536ab1 29.5px,#a4acd5 30.5px,#eed8df 31.5px,#ef7476 32.5px,#e82d30 33.5px,#e51e22 34.5px,#e72529 36.5px,#ec5558 37.5px,#f1bec3 38.5px,#bcbddc 39.5px,#667aba 40.5px,#3857a7 41.5px,#234ba1 42.5px,#1e48a0 109.5px)"></div>
<div style="left:211px;top:204px;width:110px;height:1px;background:linear-gradient(90deg,#1e48a0 0.5px,#234ba1 28.5px,#3858a7 29.5px,#697cbb 30.5px,#bebedc 31.5px,#f0b7bc 32.5px,#ec4f52 33.5px,#e62428 34.5px,#e51f23 36.5px,#e83034 37.5px,#f08184 38.5px,#e4d7e3 39.5px,#939ece 40.5px,#4a64ad 41.5px,#2b50a3 42.5px,#1f49a0 44.5px,#1e48a0 109.5px)"></div>
<div style="left:211px;top:205px;width:110px;height:1px;background:linear-gradient(90deg,#1e48a0 0.5px,#2049a0 28.5px,#284da2 29.5px,#435fab 30.5px,#8290c6 31.5px,#d5ccdf 32.5px,#f09397 33.5px,#e9363a 34.5px,#e62024 35.5px,#e62327 37.5px,#eb464a 38.5px,#f1b2b6 39.5px,#c2c1de 40.5px,#6a7dbb 41.5px,#3858a7 42.5px,#234ba1 43.5px,#1e48a0 109.5px)"></div>
<div style="left:211px;top:206px;width:110px;height:1px;background:linear-gradient(90deg,#1e48a0 0.5px,#214aa0 29.5px,#2d51a4 30.5px,#4f67af 31.5px,#9da6d2 32.5px,#edd9e0 33.5px,#ef7275 34.5px,#e82c2f 35.5px,#e51e22 36.5px,#e51e22 37.5px,#e82c2f 38.5px,#ef7477 39.5px,#eddbe3 40.5px,#9aa4d1 41.5px,#4c65ae 42.5px,#2c50a3 43.5px,#1f49a0 45.5px,#1e48a0 109.5px)"></div>
<div style="left:211px;top:207px;width:110px;height:1px;background:linear-gradient(90deg,#1e48a0 0.5px,#224aa1 30.5px,#3455a6 31.5px,#6075b7 32.5px,#b8b9da 33.5px,#efb7bd 34.5px,#eb4d51 35.5px,#e62428 36.5px,#e51d21 37.5px,#e62024 38.5px,#e9393c 39.5px,#f0a2a6 40.5px,#c9c5de 41.5px,#7182be 42.5px,#3a59a8 43.5px,#234ba1 44.5px,#1e48a0 109.5px)"></div>
<div style="left:211px;top:208px;width:110px;height:1px;background:linear-gradient(90deg,#1e48a0 0.5px,#244ba1 31.5px,#3d5ba9 32.5px,#7888c1 33.5px,#cec6dc 34.5px,#ef9498 35.5px,#e9363a 36.5px,#e52024 37.5px,#e51d21 38.5px,#e7272b 39.5px,#ee6265 40.5px,#eeced5 41.5px,#a4aad4 42.5px,#5068b0 43.5px,#2c50a4 44.5px,#2149a0 45.5px,#1e48a0 109.5px)"></div>
<div style="left:211px;top:209px;width:110px;height:1px;background:linear-gradient(90deg,#1e48a0 0.5px,#2049a0 31.5px,#284ea2 32.5px,#4863ad 33.5px,#929dcd 34.5px,#e7d5df 35.5px,#ef7477 36.5px,#e82c30 37.5px,#e51e22 38.5px,#e51f23 39.5px,#e93336 40.5px,#ef8c90 41.5px,#d3cade 42.5px,#7a89c2 43.5px,#3c5ba9 44.5px,#234ba1 45.5px,#1e48a0 109.5px)"></div>
<div style="left:211px;top:210px;width:110px;height:1px;background:linear-gradient(90deg,#1e48a0 0.5px,#214aa0 32.5px,#2e51a4 33.5px,#546bb2 34.5px,#adb0d6 35.5px,#edbdc4 36.5px,#ec5155 37.5px,#e62428 38.5px,#e51d21 39.5px,#e62327 40.5px,#eb4c4f 41.5px,#efbbc1 42.5px,#b0b3d7 43.5px,#556bb2 44.5px,#2e51a4 45.5px,#214aa0 46.5px,#1e48a0 109.5px)"></div>
<div style="left:211px;top:211px;width:110px;height:1px;background:linear-gradient(90deg,#1e48a0 0.5px,#224aa1 33.5px,#3556a6 34.5px,#697bba 35.5px,#c3bed9 36.5px,#ee9ba0 37.5px,#e9383c 38.5px,#e52024 39.5px,#e51e22 40.5px,#e82c30 41.5px,#ee777a 42.5px,#e1d1df 43.5px,#8693c7 44.5px,#405daa 45.5px,#244ba1 46.5px,#1e48a0 109.5px)"></div>
<div style="left:211px;top:212px;width:110px;height:1px;background:linear-gradient(90deg,#1e48a0 0.5px,#244ba1 34.5px,#3e5caa 35.5px,#808ec5 36.5px,#dacbdb 37.5px,#ee7b7f 38.5px,#e82e32 39.5px,#e51e22 40.5px,#e62024 41.5px,#e9393d 42.5px,#efa4a9 43.5px,#bdbbd9 44.5px,#5d72b5 45.5px,#3053a5 46.5px,#214aa0 47.5px,#1e48a0 109.5px)"></div>
<div style="left:211px;top:213px;width:110px;height:1px;background:linear-gradient(90deg,#1e48a0 0.5px,#2049a0 34.5px,#264da2 35.5px,#4763ad 36.5px,#97a0ce 37.5px,#ebcad2 38.5px,#ed5c5f 39.5px,#e62529 40.5px,#e51d21 41.5px,#e7262a 42.5px,#ed6063 43.5px,#ecd2da 44.5px,#929dcc 45.5px,#4360ab 46.5px,#244ba1 47.5px,#1e48a0 109.5px)"></div>
<div style="left:211px;top:214px;width:110px;height:1px;background:linear-gradient(90deg,#1e48a0 0.5px,#2049a0 35.5px,#2a4fa3 36.5px,#526ab1 37.5px,#afafd4 38.5px,#eca8af 39.5px,#e93c40 40.5px,#e62024 41.5px,#e51f23 42.5px,#e83135 43.5px,#ee898d 44.5px,#c8c0d9 45.5px,#6578b9 46.5px,#3153a5 47.5px,#214aa0 48.5px,#1e48a0 109.5px)"></div>
<div style="left:211px;top:215px;width:110px;height:1px;background:linear-gradient(90deg,#1e48a0 0.5px,#214aa0 36.5px,#2f52a5 37.5px,#6175b7 38.5px,#c3bad5 39.5px,#ec878c 40.5px,#e83236 41.5px,#e51f23 42.5px,#e62125 43.5px,#ea4246 44.5px,#ecb8bf 45.5px,#9fa5cf 46.5px,#4762ad 47.5px,#244ca1 48.5px,#1e48a0 101.5px,#1e48a0 109.5px)"></div>
<div style="left:211px;top:216px;width:110px;height:1px;background:linear-gradient(90deg,#1e48a0 0.5px,#224aa1 37.5px,#3657a7 38.5px,#7888c1 39.5px,#dcc9d8 40.5px,#ed6b6f 41.5px,#e7292c 42.5px,#e51e22 43.5px,#e7292d 44.5px,#ed6f73 45.5px,#d8c8d9 46.5px,#7182be 47.5px,#3355a6 48.5px,#214aa0 49.5px,#1e48a0 109.5px)"></div>
<div style="left:211px;top:217px;width:110px;height:1px;background:linear-gradient(90deg,#1e48a0 0.5px,#244ba1 38.5px,#405eab 39.5px,#909aca 40.5px,#e8bdc6 41.5px,#eb494c 42.5px,#e62226 43.5px,#e51f23 44.5px,#e9363a 45.5px,#ec9aa0 46.5px,#b1b0d3 47.5px,#4d67af 48.5px,#254ca1 49.5px,#1e48a0 68.5px,#1e48a0 109.5px)"></div>
<div style="left:211px;top:218px;width:110px;height:1px;background:linear-gradient(90deg,#1e48a0 0.5px,#2049a0 38.5px,#254ca2 39.5px,#4a65ae 40.5px,#a9a8cf 41.5px,#e99ba2 42.5px,#e9383b 43.5px,#e51f23 44.5px,#e62327 45.5px,#eb5054 46.5px,#e8cad3 47.5px,#818fc4 48.5px,#3657a7 49.5px,#214aa0 50.5px,#1e48a0 109.5px)"></div>
<div style="left:211px;top:219px;width:110px;height:1px;background:linear-gradient(90deg,#1e48a0 0.5px,#2049a0 39.5px,#274da2 40.5px,#566db2 41.5px,#bfb4d0 42.5px,#eb7b81 43.5px,#e72e32 44.5px,#e51f23 45.5px,#e72c30 46.5px,#ec7a7f 47.5px,#c3b8d3 48.5px,#556cb2 49.5px,#264da2 50.5px,#1f48a0 55.5px,#1e48a0 109.5px)"></div>
<div style="left:211px;top:220px;width:110px;height:1px;background:linear-gradient(90deg,#1e48a0 0.5px,#2049a0 40.5px,#2d51a4 41.5px,#6a7dba 42.5px,#d9c4d4 43.5px,#eb5e62 44.5px,#e62529 45.5px,#e52024 46.5px,#e93a3d 47.5px,#e9a7af 48.5px,#969cca 49.5px,#3d5caa 50.5px,#224aa1 51.5px,#1e48a0 109.5px)"></div>
<div style="left:211px;top:221px;width:110px;height:1px;background:linear-gradient(90deg,#1e48a0 0.5px,#214aa1 41.5px,#3657a7 42.5px,#848fc3 43.5px,#e5b5bf 44.5px,#e94044 45.5px,#e62125 46.5px,#e62428 47.5px,#eb595d 48.5px,#dbc6d5 49.5px,#6579b8 50.5px,#294fa3 51.5px,#1f49a0 53.5px,#1e48a0 109.5px)"></div>
<div style="left:211px;top:222px;width:110px;height:1px;background:linear-gradient(90deg,#1e48a0 0.5px,#234ba1 42.5px,#415fab 43.5px,#9e9ec9 44.5px,#e7929a 45.5px,#e83539 46.5px,#e52024 47.5px,#e82e32 48.5px,#ea8187 49.5px,#b0aace 50.5px,#4663ad 51.5px,#234ba1 52.5px,#1e48a0 109.5px)"></div>
<div style="left:211px;top:223px;width:110px;height:1px;background:linear-gradient(90deg,#1e48a0 0.5px,#1f49a0 42.5px,#254ca2 43.5px,#4d67af 44.5px,#b7accc 45.5px,#e97379 46.5px,#e72b2f 47.5px,#e62024 48.5px,#e93c40 49.5px,#e6b1bb 50.5px,#7e8ac0 51.5px,#3053a5 52.5px,#2049a0 53.5px,#1e48a0 109.5px)"></div>
<div style="left:211px;top:224px;width:110px;height:1px;background:linear-gradient(90deg,#1e48a0 0.5px,#2049a0 43.5px,#274da2 44.5px,#5a70b4 45.5px,#d2bccf 46.5px,#ea565a 47.5px,#e62428 48.5px,#e62529 49.5px,#ea5d61 50.5px,#cbb9cf 51.5px,#536bb1 52.5px,#254ca2 53.5px,#1e48a0 65.5px,#1e48a0 109.5px)"></div>
<div style="left:211px;top:225px;width:110px;height:1px;background:linear-gradient(90deg,#1e48a0 0.5px,#2049a0 44.5px,#2b50a4 45.5px,#7281bb 46.5px,#e1b3be 47.5px,#e93f43 48.5px,#e62125 49.5px,#e82f33 50.5px,#e7858c 51.5px,#9d9cc7 52.5px,#395aa9 53.5px,#214aa0 54.5px,#1e48a0 109.5px)"></div>
<div style="left:211px;top:226px;width:110px;height:1px;background:linear-gradient(90deg,#1e48a0 0.5px,#2149a0 45.5px,#3557a7 46.5px,#8e91c1 47.5px,#e48e97 48.5px,#e83438 49.5px,#e62125 50.5px,#e93e42 51.5px,#e2b8c3 52.5px,#697ab8 53.5px,#284ea3 54.5px,#1f48a0 56.5px,#1e48a0 109.5px)"></div>
<div style="left:211px;top:227px;width:110px;height:1px;background:linear-gradient(90deg,#1e48a0 0.5px,#224ba1 46.5px,#4160ac 47.5px,#aca2c7 48.5px,#e66e75 49.5px,#e72a2e 50.5px,#e6262a 51.5px,#e95e63 52.5px,#beaecb 53.5px,#4864ad 54.5px,#224ba1 55.5px,#1e48a0 109.5px)"></div>
<div style="left:211px;top:228px;width:110px;height:1px;background:linear-gradient(90deg,#1e48a0 0.5px,#1f49a0 46.5px,#244ca2 47.5px,#5069b0 48.5px,#c7b3ca 49.5px,#e85156 50.5px,#e62428 51.5px,#e73034 52.5px,#e4878f 53.5px,#8c90c1 54.5px,#2e53a5 55.5px,#2049a0 56.5px,#1e48a0 109.5px)"></div>
<div style="left:211px;top:229px;width:110px;height:1px;background:linear-gradient(90deg,#1e48a0 0.5px,#1f49a0 47.5px,#274ea2 48.5px,#5e72b3 49.5px,#ddb5c2 50.5px,#e94044 51.5px,#e62327 52.5px,#e93f43 53.5px,#dfbdc9 54.5px,#5a70b3 55.5px,#254ca2 56.5px,#1e48a0 62.5px,#1e48a0 109.5px)"></div>
<div style="left:211px;top:230px;width:110px;height:1px;background:linear-gradient(90deg,#1e48a0 0.5px,#2049a0 48.5px,#2c51a4 49.5px,#7982b9 50.5px,#df8e98 51.5px,#e73438 52.5px,#e7262a 53.5px,#e75d63 54.5px,#b3a5c6 55.5px,#3e5daa 56.5px,#214aa1 57.5px,#1e48a0 109.5px)"></div>
<div style="left:211px;top:231px;width:110px;height:1px;background:linear-gradient(90deg,#1e48a0 0.5px,#2049a0 49.5px,#3356a7 50.5px,#9a93bf 51.5px,#e36c74 52.5px,#e72a2e 53.5px,#e73034 54.5px,#e1858f 55.5px,#7d84ba 56.5px,#2b51a4 57.5px,#1f49a0 58.5px,#1e48a0 109.5px)"></div>
<div style="left:211px;top:232px;width:110px;height:1px;background:linear-gradient(90deg,#1e48a0 0.5px,#224aa1 50.5px,#4261ac 51.5px,#baa7c5 52.5px,#e75055 53.5px,#e62529 54.5px,#e94044 55.5px,#ddbfcc 56.5px,#536cb1 57.5px,#234ba1 58.5px,#1e48a0 109.5px)"></div>
<div style="left:211px;top:233px;width:110px;height:1px;background:linear-gradient(90deg,#1e48a0 0.5px,#1f48a0 50.5px,#244ca2 51.5px,#536cb1 52.5px,#dabdcb 53.5px,#e94246 54.5px,#e7272b 55.5px,#e65960 56.5px,#ab9dc2 57.5px,#3557a7 58.5px,#2049a0 59.5px,#1e48a0 109.5px)"></div>
<div style="left:211px;top:234px;width:110px;height:1px;background:linear-gradient(90deg,#1e48a0 0.5px,#1f49a0 51.5px,#274ea2 52.5px,#6271b0 53.5px,#db919e 54.5px,#e73539 55.5px,#e73034 56.5px,#df828d 57.5px,#707ab4 58.5px,#284fa3 59.5px,#1f48a0 61.5px,#1e48a0 109.5px)"></div>
<div style="left:211px;top:235px;width:110px;height:1px;background:linear-gradient(90deg,#1e48a0 0.5px,#1f49a0 52.5px,#2d51a4 53.5px,#8382b5 54.5px,#df6b75 55.5px,#e72c30 56.5px,#e84044 57.5px,#dbc0cd 58.5px,#4c68af 59.5px,#224ba1 60.5px,#1e48a0 109.5px)"></div>
<div style="left:211px;top:236px;width:110px;height:1px;background:linear-gradient(90deg,#1e48a0 0.5px,#2049a0 53.5px,#3658a8 54.5px,#aa99be 55.5px,#e44e55 56.5px,#e7292d 57.5px,#e5545b 58.5px,#a496be 59.5px,#3155a6 60.5px,#1f49a0 61.5px,#1e48a0 109.5px)"></div>
<div style="left:211px;top:237px;width:110px;height:1px;background:linear-gradient(90deg,#1e48a0 0.5px,#214aa1 54.5px,#4563ad 55.5px,#ceb4c8 56.5px,#e74247 57.5px,#e73034 58.5px,#dc7c88 59.5px,#6470af 60.5px,#264da2 61.5px,#1e48a0 64.5px,#1e48a0 109.5px)"></div>
<div style="left:211px;top:238px;width:110px;height:1px;background:linear-gradient(90deg,#1e48a0 0.5px,#1f48a0 54.5px,#244ca2 55.5px,#566aae 56.5px,#d798a6 57.5px,#e7383c 58.5px,#e83f44 59.5px,#d8bdcb 60.5px,#4663ad 61.5px,#214aa1 62.5px,#1e48a0 109.5px)"></div>
<div style="left:211px;top:239px;width:110px;height:1px;background:linear-gradient(90deg,#1e48a0 0.5px,#1f49a0 55.5px,#284ea3 56.5px,#6b70ac 57.5px,#da6b77 58.5px,#e72f33 59.5px,#e34d54 60.5px,#9d8fba 61.5px,#3053a5 62.5px,#1f49a0 63.5px,#1e48a0 109.5px)"></div>
<div style="left:211px;top:240px;width:110px;height:1px;background:linear-gradient(90deg,#1e48a0 0.5px,#1f49a0 56.5px,#3054a5 57.5px,#9689b6 58.5px,#e04d55 59.5px,#e73135 60.5px,#da7582 61.5px,#5e6bac 62.5px,#254ca2 63.5px,#1e48a0 69.5px,#1e48a0 109.5px)"></div>
<div style="left:211px;top:241px;width:110px;height:1px;background:linear-gradient(90deg,#1e48a0 0.5px,#2049a1 57.5px,#3b5caa 58.5px,#bfa8c2 59.5px,#e64349 60.5px,#e84044 61.5px,#d7bbca 62.5px,#3f60ab 63.5px,#2049a1 64.5px,#1e48a0 109.5px)"></div>
<div style="left:211px;top:242px;width:110px;height:1px;background:linear-gradient(90deg,#1e48a0 0.5px,#224aa1 58.5px,#4a64ac 59.5px,#d5a1b0 60.5px,#e83c40 61.5px,#e2484f 62.5px,#9689b6 63.5px,#2e52a5 64.5px,#1f49a0 65.5px,#1e48a0 109.5px)"></div>
<div style="left:211px;top:243px;width:110px;height:1px;background:linear-gradient(90deg,#1e48a0 0.5px,#1f48a0 58.5px,#254ca2 59.5px,#5b65a7 60.5px,#d66c7a 61.5px,#e7363b 62.5px,#d9717d 63.5px,#5a68aa 64.5px,#244ca2 65.5px,#1e48a0 85.5px,#1e48a0 109.5px)"></div>
<div style="left:211px;top:244px;width:110px;height:1px;background:linear-gradient(90deg,#1e48a0 0.5px,#1f48a0 59.5px,#2b50a3 60.5px,#8078ac 61.5px,#dc4c56 62.5px,#e84145 63.5px,#d6baca 64.5px,#3d5eaa 65.5px,#2049a0 66.5px,#1e48a0 109.5px)"></div>
<div style="left:211px;top:245px;width:110px;height:1px;background:linear-gradient(90deg,#1e48a0 0.5px,#2049a0 60.5px,#3759a8 61.5px,#b39dbd 62.5px,#e5454b 63.5px,#e1454d 64.5px,#9083b2 65.5px,#2d51a4 66.5px,#1f48a0 67.5px,#1e48a0 109.5px)"></div>
<div style="left:211px;top:246px;width:110px;height:1px;background:linear-gradient(90deg,#1e48a0 0.5px,#204aa1 61.5px,#4160aa 62.5px,#d4a9b9 63.5px,#e84448 64.5px,#d76d7a 65.5px,#5565a8 66.5px,#234ba1 67.5px,#1e48a0 109.5px)"></div>
<div style="left:211px;top:247px;width:110px;height:1px;background:linear-gradient(90deg,#1e48a0 0.5px,#234ba1 62.5px,#5261a6 63.5px,#d36e7c 64.5px,#e8474c 65.5px,#d5b9c9 66.5px,#3c5daa 67.5px,#2049a0 68.5px,#1e48a0 109.5px)"></div>
<div style="left:211px;top:248px;width:110px;height:1px;background:linear-gradient(90deg,#1e48a0 0.5px,#1f48a0 62.5px,#284ea2 63.5px,#6f6aa4 64.5px,#da4c57 65.5px,#e0464f 66.5px,#877cae 67.5px,#2b50a3 68.5px,#1f48a0 69.5px,#1e48a0 109.5px)"></div>
<div style="left:211px;top:249px;width:110px;height:1px;background:linear-gradient(90deg,#1e48a0 0.5px,#1f49a0 63.5px,#3356a6 64.5px,#ab95ba 65.5px,#e44b52 66.5px,#d56d7a 67.5px,#4f61a6 68.5px,#224ba1 69.5px,#1e48a0 109.5px)"></div>
<div style="left:211px;top:250px;width:110px;height:1px;background:linear-gradient(90deg,#1e48a0 0.5px,#2049a1 64.5px,#405faa 65.5px,#d4abba 66.5px,#e85459 67.5px,#d1b7c9 68.5px,#3b5ca9 69.5px,#1f49a0 70.5px,#1e48a0 109.5px)"></div>
<div style="left:211px;top:251px;width:110px;height:1px;background:linear-gradient(90deg,#1e48a0 0.5px,#224ba1 65.5px,#4f5fa5 66.5px,#d36b7a 67.5px,#df4f59 68.5px,#837aad 69.5px,#2a4fa3 70.5px,#1e48a0 71.5px,#1e48a0 109.5px)"></div>
<div style="left:211px;top:252px;width:110px;height:1px;background:linear-gradient(90deg,#1e48a0 0.5px,#1e48a0 65.5px,#294ea2 66.5px,#7770a8 67.5px,#dc5560 68.5px,#d5717f 69.5px,#4f62a7 70.5px,#224ba1 71.5px,#1e48a0 109.5px)"></div>
<div style="left:211px;top:253px;width:110px;height:1px;background:linear-gradient(90deg,#1e48a0 0.5px,#1f49a0 66.5px,#3658a8 67.5px,#baa5c1 68.5px,#e75d63 69.5px,#d4bdcd 70.5px,#3c5daa 71.5px,#2049a0 72.5px,#1e48a0 109.5px)"></div>
<div style="left:211px;top:254px;width:110px;height:1px;background:linear-gradient(90deg,#1e48a0 0.5px,#204aa1 67.5px,#425ea8 68.5px,#d399a8 69.5px,#e26870 70.5px,#8981b3 71.5px,#2b50a4 72.5px,#1e48a0 73.5px,#1e48a0 109.5px)"></div>
<div style="left:211px;top:255px;width:110px;height:1px;background:linear-gradient(90deg,#1e48a0 0.5px,#1e48a0 67.5px,#244ba1 68.5px,#5a63a5 69.5px,#d8727f 70.5px,#d77f8c 71.5px,#5063a8 72.5px,#224ba1 73.5px,#1e48a0 109.5px)"></div>
<div style="left:211px;top:256px;width:110px;height:1px;background:linear-gradient(90deg,#1e48a0 0.5px,#1f48a0 68.5px,#2e52a5 69.5px,#998db9 70.5px,#e57880 71.5px,#d2c0d2 72.5px,#3b5daa 73.5px,#1f49a0 74.5px,#1e48a0 109.5px)"></div>
<div style="left:211px;top:257px;width:110px;height:1px;background:linear-gradient(90deg,#1e48a0 0.5px,#2049a1 69.5px,#3e5fab 70.5px,#d4c2d3 71.5px,#e4838c 72.5px,#8784b6 73.5px,#2a50a4 74.5px,#1e48a0 75.5px,#1e48a0 109.5px)"></div>
<div style="left:211px;top:258px;width:110px;height:1px;background:linear-gradient(90deg,#1e48a0 0.5px,#224ba1 70.5px,#4e65aa 71.5px,#d796a4 72.5px,#d898a5 73.5px,#4e64aa 74.5px,#224ba1 75.5px,#1e48a0 109.5px)"></div>
<div style="left:211px;top:259px;width:110px;height:1px;background:linear-gradient(90deg,#1e48a0 0.5px,#1e48a0 70.5px,#284ea3 71.5px,#7879b1 72.5px,#e08e99 73.5px,#c8bcd3 74.5px,#385ba9 75.5px,#1f49a0 76.5px,#1e48a0 109.5px)"></div>
<div style="left:211px;top:260px;width:110px;height:1px;background:linear-gradient(90deg,#1e48a0 0.5px,#1f49a0 71.5px,#3659a8 72.5px,#b9b0cd 73.5px,#e199a4 74.5px,#7b80b7 75.5px,#284fa3 76.5px,#1e48a0 78.5px,#1e48a0 109.5px)"></div>
<div style="left:211px;top:261px;width:110px;height:1px;background:linear-gradient(90deg,#1e48a0 0.5px,#204aa1 72.5px,#4361ab 73.5px,#d7bccb 74.5px,#d9b9c7 75.5px,#4763ab 76.5px,#214aa1 77.5px,#1e48a0 109.5px)"></div>
<div style="left:211px;top:262px;width:110px;height:1px;background:linear-gradient(90deg,#1e48a0 0.5px,#1e48a0 72.5px,#244ca2 73.5px,#616faf 74.5px,#dcabb9 75.5px,#b6b4d3 76.5px,#3357a7 77.5px,#1f48a0 78.5px,#1e48a0 109.5px)"></div>
<div style="left:211px;top:263px;width:110px;height:1px;background:linear-gradient(90deg,#1e48a0 0.5px,#1f48a0 73.5px,#3155a6 74.5px,#a6a6cd 75.5px,#ddb7c5 76.5px,#6677b5 77.5px,#254da2 78.5px,#1e48a0 81.5px,#1e48a0 109.5px)"></div>
<div style="left:211px;top:264px;width:110px;height:1px;background:linear-gradient(90deg,#1e48a0 0.5px,#2049a1 74.5px,#3f61ad 75.5px,#d4d5e6 76.5px,#d8dbeb 77.5px,#3f61ad 78.5px,#2049a1 79.5px,#1e48a0 109.5px)"></div>
<div style="left:211px;top:265px;width:110px;height:1px;background:linear-gradient(90deg,#1e48a0 0.5px,#1e48a0 74.5px,#244ca2 75.5px,#5b72b4 76.5px,#dacbdb 77.5px,#9ca5d0 78.5px,#2e53a6 79.5px,#1f48a0 80.5px,#1e48a0 109.5px)"></div>
<div style="left:211px;top:266px;width:110px;height:1px;background:linear-gradient(90deg,#1e48a0 0.5px,#1f48a0 75.5px,#2e53a5 76.5px,#959fcd 77.5px,#d7d5e5 78.5px,#546eb3 79.5px,#234ba1 80.5px,#1e48a0 109.5px)"></div>
<div style="left:211px;top:267px;width:110px;height:1px;background:linear-gradient(90deg,#1e48a0 0.5px,#2049a0 76.5px,#3b5eab 77.5px,#bdc4e1 78.5px,#b4bdde 79.5px,#3559a9 80.5px,#1f49a0 81.5px,#1e48a0 109.5px)"></div>
<div style="left:211px;top:268px;width:110px;height:1px;background:linear-gradient(90deg,#1e48a0 0.5px,#234ba1 77.5px,#556fb4 78.5px,#c7cde6 79.5px,#6d81be 80.5px,#274ea3 81.5px,#1e48a0 83.5px,#1e48a0 109.5px)"></div>
<div style="left:211px;top:269px;width:110px;height:1px;background:linear-gradient(90deg,#1e48a0 0.5px,#1f48a0 77.5px,#2c51a5 78.5px,#8292c8 79.5px,#b3bbdd 80.5px,#3c5eab 81.5px,#2049a1 82.5px,#1e48a0 109.5px)"></div>
<div style="left:211px;top:270px;width:110px;height:1px;background:linear-gradient(90deg,#1e48a0 0.5px,#1f49a0 78.5px,#375aa9 79.5px,#a2acd6 80.5px,#8191c7 81.5px,#2b51a5 82.5px,#1f48a0 83.5px,#1e48a0 109.5px)"></div>
<div style="left:211px;top:271px;width:110px;height:1px;background:linear-gradient(90deg,#1e48a0 0.5px,#234ba1 79.5px,#4d68b0 80.5px,#9fa9d4 81.5px,#4663ae 82.5px,#224aa1 83.5px,#1e48a0 109.5px)"></div>
<div style="left:211px;top:272px;width:110px;height:1px;background:linear-gradient(90deg,#1e48a0 0.5px,#1f48a0 79.5px,#2950a4 80.5px,#6c7fbd 81.5px,#7d8dc5 82.5px,#2d52a5 83.5px,#1f48a0 84.5px,#1e48a0 109.5px)"></div>
<div style="left:211px;top:273px;width:110px;height:1px;background:linear-gradient(90deg,#1e48a0 0.5px,#1f49a0 80.5px,#3155a7 81.5px,#7b8bc4 82.5px,#4762ad 83.5px,#224ba1 84.5px,#1e48a0 109.5px)"></div>
<div style="left:211px;top:274px;width:110px;height:1px;background:linear-gradient(90deg,#1e48a0 0.5px,#224aa1 81.5px,#677bbb 83.5px,#2b50a4 84.5px,#1f48a0 85.5px,#1e48a0 109.5px)"></div>
<div style="left:211px;top:275px;width:110px;height:1px;background:linear-gradient(90deg,#1e48a0 0.5px,#1f48a0 81.5px,#264da2 82.5px,#4b65ae 83.5px,#3f5ba9 84.5px,#224aa1 85.5px,#1e48a0 109.5px)"></div>
<div style="left:211px;top:276px;width:110px;height:1px;background:linear-gradient(90deg,#1e48a0 0.5px,#1f49a0 82.5px,#284ea3 83.5px,#4761ac 84.5px,#264da2 85.5px,#1e48a0 88.5px,#1e48a0 109.5px)"></div>
<div style="left:211px;top:277px;width:110px;height:1px;background:linear-gradient(90deg,#1e48a0 0.5px,#214aa1 83.5px,#3254a5 84.5px,#3455a6 85.5px,#214aa1 86.5px,#1e48a0 109.5px)"></div>
<div style="left:211px;top:278px;width:110px;height:1px;background:linear-gradient(90deg,#1e48a0 0.5px,#234ba1 84.5px,#3253a5 85.5px,#234ba1 86.5px,#1e48a0 109.5px)"></div>
<div style="left:211px;top:279px;width:110px;height:1px;background:linear-gradient(90deg,#1e48a0 0.5px,#224aa1 85.5px,#264da2 86.5px,#1e48a0 91.5px,#1e48a0 109.5px)"></div>
<div style="left:211px;top:280px;width:110px;height:5px;background:linear-gradient(90deg,#1e48a0 0.5px,#1e48a0 109.5px)"></div>
</div>
<svg width="342" height="314" viewBox="0 0 342 314">
<text x="-0.3" y="8.2" font-size="10.3" text-anchor="start" fill="#000" stroke="#000" stroke-width="0.35" >(a)</text>
<rect x="44" y="9" width="101.5" height="61.5" fill="#eeedd0" stroke="none" stroke-width="1" />
<line x1="44" y1="9" x2="145.5" y2="9" stroke="#3a3a3a" stroke-width="1" />
<line x1="145.5" y1="9" x2="145.5" y2="70.5" stroke="#3a3a3a" stroke-width="1" />
<line x1="44" y1="70.5" x2="145.5" y2="70.5" stroke="#3a3a3a" stroke-width="1" />
<line x1="44" y1="9" x2="44" y2="72.5" stroke="#3a3a3a" stroke-width="1" />
<line x1="40.5" y1="9" x2="44" y2="9" stroke="#3a3a3a" stroke-width="1" />
<line x1="42" y1="24.375" x2="44" y2="24.375" stroke="#3a3a3a" stroke-width="1" />
<line x1="40.5" y1="39.75" x2="44" y2="39.75" stroke="#3a3a3a" stroke-width="1" />
<line x1="42" y1="55.125" x2="44" y2="55.125" stroke="#3a3a3a" stroke-width="1" />
<line x1="40.5" y1="70.5" x2="44" y2="70.5" stroke="#3a3a3a" stroke-width="1" />
<text x="38.3" y="10.9" font-size="9.7" text-anchor="end" fill="#000" stroke="#000" stroke-width="0.35" >590</text>
<text x="38.3" y="42.05" font-size="9.7" text-anchor="end" fill="#000" stroke="#000" stroke-width="0.35" >610</text>
<text x="38.3" y="72.1" font-size="9.7" text-anchor="end" fill="#000" stroke="#000" stroke-width="0.35" >630</text>
<line x1="44" y1="70.5" x2="44" y2="73.3" stroke="#3a3a3a" stroke-width="1" />
<line x1="54.15" y1="70.5" x2="54.15" y2="72.3" stroke="#3a3a3a" stroke-width="1" />
<line x1="64.3" y1="70.5" x2="64.3" y2="73.3" stroke="#3a3a3a" stroke-width="1" />
<line x1="74.45" y1="70.5" x2="74.45" y2="72.3" stroke="#3a3a3a" stroke-width="1" />
<line x1="84.6" y1="70.5" x2="84.6" y2="73.3" stroke="#3a3a3a" stroke-width="1" />
<line x1="94.75" y1="70.5" x2="94.75" y2="72.3" stroke="#3a3a3a" stroke-width="1" />
<line x1="104.9" y1="70.5" x2="104.9" y2="73.3" stroke="#3a3a3a" stroke-width="1" />
<line x1="115.05" y1="70.5" x2="115.05" y2="72.3" stroke="#3a3a3a" stroke-width="1" />
<line x1="125.2" y1="70.5" x2="125.2" y2="73.3" stroke="#3a3a3a" stroke-width="1" />
<line x1="135.35" y1="70.5" x2="135.35" y2="72.3" stroke="#3a3a3a" stroke-width="1" />
<line x1="145.5" y1="70.5" x2="145.5" y2="73.3" stroke="#3a3a3a" stroke-width="1" />
<rect x="44" y="77.5" width="101.5" height="61" fill="#eeedd0" stroke="none" stroke-width="1" />
<line x1="44" y1="77.5" x2="145.5" y2="77.5" stroke="#3a3a3a" stroke-width="1" />
<line x1="145.5" y1="77.5" x2="145.5" y2="138.5" stroke="#3a3a3a" stroke-width="1" />
<line x1="44" y1="138.5" x2="145.5" y2="138.5" stroke="#3a3a3a" stroke-width="1" />
<line x1="44" y1="77.5" x2="44" y2="140.5" stroke="#3a3a3a" stroke-width="1" />
<line x1="40.5" y1="77.5" x2="44" y2="77.5" stroke="#3a3a3a" stroke-width="1" />
<line x1="42" y1="92.75" x2="44" y2="92.75" stroke="#3a3a3a" stroke-width="1" />
<line x1="40.5" y1="108" x2="44" y2="108" stroke="#3a3a3a" stroke-width="1" />
<line x1="42" y1="123.25" x2="44" y2="123.25" stroke="#3a3a3a" stroke-width="1" />
<line x1="40.5" y1="138.5" x2="44" y2="138.5" stroke="#3a3a3a" stroke-width="1" />
<text x="38.3" y="80.3" font-size="9.7" text-anchor="end" fill="#000" stroke="#000" stroke-width="0.35" >590</text>
<text x="38.3" y="110.8" font-size="9.7" text-anchor="end" fill="#000" stroke="#000" stroke-width="0.35" >610</text>
<text x="38.3" y="140.8" font-size="9.7" text-anchor="end" fill="#000" stroke="#000" stroke-width="0.35" >630</text>
<line x1="44" y1="138.5" x2="44" y2="141.3" stroke="#3a3a3a" stroke-width="1" />
<line x1="54.15" y1="138.5" x2="54.15" y2="140.3" stroke="#3a3a3a" stroke-width="1" />
<line x1="64.3" y1="138.5" x2="64.3" y2="141.3" stroke="#3a3a3a" stroke-width="1" />
<line x1="74.45" y1="138.5" x2="74.45" y2="140.3" stroke="#3a3a3a" stroke-width="1" />
<line x1="84.6" y1="138.5" x2="84.6" y2="141.3" stroke="#3a3a3a" stroke-width="1" />
<line x1="94.75" y1="138.5" x2="94.75" y2="140.3" stroke="#3a3a3a" stroke-width="1" />
<line x1="104.9" y1="138.5" x2="104.9" y2="141.3" stroke="#3a3a3a" stroke-width="1" />
<line x1="115.05" y1="138.5" x2="115.05" y2="140.3" stroke="#3a3a3a" stroke-width="1" />
<line x1="125.2" y1="138.5" x2="125.2" y2="141.3" stroke="#3a3a3a" stroke-width="1" />
<line x1="135.35" y1="138.5" x2="135.35" y2="140.3" stroke="#3a3a3a" stroke-width="1" />
<line x1="145.5" y1="138.5" x2="145.5" y2="141.3" stroke="#3a3a3a" stroke-width="1" />
<text x="44" y="151.2" font-size="9.7" text-anchor="middle" fill="#000" stroke="#000" stroke-width="0.35" >0</text>
<text x="64.3" y="151.2" font-size="9.7" text-anchor="middle" fill="#000" stroke="#000" stroke-width="0.35" >1</text>
<text x="84.6" y="151.2" font-size="9.7" text-anchor="middle" fill="#000" stroke="#000" stroke-width="0.35" >2</text>
<text x="104.9" y="151.2" font-size="9.7" text-anchor="middle" fill="#000" stroke="#000" stroke-width="0.35" >3</text>
<text x="125.2" y="151.2" font-size="9.7" text-anchor="middle" fill="#000" stroke="#000" stroke-width="0.35" >4</text>
<text x="145.5" y="151.2" font-size="9.7" text-anchor="middle" fill="#000" stroke="#000" stroke-width="0.35" >5</text>
<text x="95.5" y="162.3" font-size="9.5" text-anchor="middle" fill="#000" stroke="#000" stroke-width="0.35" >Angle (Degree)</text>
<text x="15.3" y="72.75" font-size="9.5" text-anchor="middle" fill="#000" stroke="#000" stroke-width="0.35" transform="rotate(-90 15.3 72.75)">Wavelength (nm)</text>
<path d="M44.80 30.74 L46.50 30.83 L48.21 30.96 L49.91 31.11 L51.61 31.29 L53.32 31.49 L55.02 31.72 L56.72 31.98 L58.43 32.26 L60.13 32.57 L61.83 32.90 L63.54 33.25 L65.24 33.63 L66.94 34.02 L68.65 34.44 L70.35 34.89 L72.05 35.35 L73.76 35.83 L75.46 36.34 L77.16 36.86 L78.87 37.41 L80.57 37.97 L82.27 38.55 L83.98 39.15 L85.68 39.77 L87.38 40.40 L89.09 41.05 L90.79 41.71 L92.49 42.40 L94.20 43.09 L95.90 43.80 L97.61 44.53 L99.31 45.27 L101.01 46.02 L102.72 46.78 L104.42 47.56 L106.12 48.35 L107.83 49.15 L109.53 49.96 L111.23 50.78 L112.94 51.62 L114.64 52.46 L116.34 53.31 L118.05 54.17 L119.75 55.03 L121.45 55.91 L123.16 56.79 L124.86 57.68 L126.56 58.57 L128.27 59.47 L129.97 60.38 L131.67 61.29 L133.38 62.20 L135.08 63.12 L136.78 64.04 L138.49 64.97 L140.19 65.90 L141.89 66.83 L143.60 67.76 L145.30 68.69" fill="none" stroke="#f0ac70" stroke-width="0.6"/>
<path d="M44.80 94.04 L46.50 94.13 L48.21 94.26 L49.91 94.41 L51.61 94.59 L53.32 94.79 L55.02 95.02 L56.72 95.28 L58.43 95.56 L60.13 95.87 L61.83 96.20 L63.54 96.55 L65.24 96.93 L66.94 97.32 L68.65 97.74 L70.35 98.19 L72.05 98.65 L73.76 99.13 L75.46 99.64 L77.16 100.16 L78.87 100.71 L80.57 101.27 L82.27 101.85 L83.98 102.45 L85.68 103.07 L87.38 103.70 L89.09 104.35 L90.79 105.01 L92.49 105.70 L94.20 106.39 L95.90 107.10 L97.61 107.83 L99.31 108.57 L101.01 109.32 L102.72 110.08 L104.42 110.86 L106.12 111.65 L107.83 112.45 L109.53 113.26 L111.23 114.08 L112.94 114.92 L114.64 115.76 L116.34 116.61 L118.05 117.47 L119.75 118.33 L121.45 119.21 L123.16 120.09 L124.86 120.98 L126.56 121.87 L128.27 122.77 L129.97 123.68 L131.67 124.59 L133.38 125.50 L135.08 126.42 L136.78 127.34 L138.49 128.27 L140.19 129.20 L141.89 130.13 L143.60 131.06 L145.30 131.99" fill="none" stroke="#f2691c" stroke-width="1.0"/>
<line x1="55.7" y1="21.8" x2="47.3" y2="27.4" stroke="#111" stroke-width="1.1" />
<path d="M45.6 28.6 L49.4 27.6 L47.4 25.6 Z" fill="#111" transform="translate(0 0)"/>
<line x1="55.7" y1="85.3" x2="47.3" y2="90.9" stroke="#111" stroke-width="1.1" />
<path d="M45.6 28.6 L49.4 27.6 L47.4 25.6 Z" fill="#111" transform="translate(0 63.5)"/>
<text x="60" y="22.1" font-size="7.3" text-anchor="start" fill="#e21c78" stroke="#e21c78" stroke-width="0.3" >BIC</text>
<text x="59.9" y="85.6" font-size="7.2" text-anchor="start" fill="#f26c14" stroke="#f26c14" stroke-width="0.25" >quasi-BIC</text>
<defs><linearGradient id="cba" x1="0" y1="0" x2="0" y2="1"><stop offset="0" stop-color="#f1edcd"/><stop offset="0.25" stop-color="#f2cb92"/><stop offset="0.5" stop-color="#f39536"/><stop offset="0.75" stop-color="#e02a20"/><stop offset="0.9" stop-color="#90101c"/><stop offset="1" stop-color="#500010"/></linearGradient></defs>
<rect x="151" y="43" width="9.5" height="65" fill="url(#cba)" stroke="none" stroke-width="1" />
<text x="163.5" y="50.2" font-size="9.7" text-anchor="start" fill="#000" stroke="#000" stroke-width="0.35" >1</text>
<text x="163.5" y="108.2" font-size="9.7" text-anchor="start" fill="#000" stroke="#000" stroke-width="0.35" >0</text>
<text x="172" y="10.2" font-size="10.3" text-anchor="start" fill="#000" stroke="#000" stroke-width="0.35" >(b)</text>
<text x="230.4" y="14.4" font-size="7.1" text-anchor="middle" fill="#e5307f" stroke="#e5307f" stroke-width="0.2" >BIC</text>
<text x="304" y="14.8" font-size="7.1" text-anchor="middle" fill="#f26c14" stroke="#f26c14" stroke-width="0.15" >quasi-BIC</text>
<rect x="210" y="23.5" width="13.8" height="40.5" fill="none" stroke="#555" stroke-width="0.85" stroke-dasharray="2.3 1.4"/>
<rect x="236.5" y="23.5" width="13.5" height="40.5" fill="none" stroke="#555" stroke-width="0.85" stroke-dasharray="2.3 1.4"/>
<rect x="284.6" y="22.9" width="13.3" height="40.6" fill="none" stroke="#555" stroke-width="0.85" stroke-dasharray="2.3 1.4"/>
<rect x="310.7" y="25.5" width="13.3" height="35.6" fill="none" stroke="#555" stroke-width="0.85" stroke-dasharray="2.3 1.4"/>
<rect x="209.9" y="88.3" width="13.7" height="27.5" fill="none" stroke="#555" stroke-width="0.85" stroke-dasharray="2.3 1.4"/>
<rect x="236.5" y="88.3" width="13.5" height="27.5" fill="none" stroke="#555" stroke-width="0.85" stroke-dasharray="2.3 1.4"/>
<rect x="283.9" y="88.3" width="14.1" height="27.5" fill="none" stroke="#555" stroke-width="0.85" stroke-dasharray="2.3 1.4"/>
<rect x="310.5" y="88.3" width="13.5" height="27.5" fill="none" stroke="#555" stroke-width="0.85" stroke-dasharray="2.3 1.4"/>
<line x1="187.8" y1="56.4" x2="187.8" y2="70.3" stroke="#888" stroke-width="1.4" />
<circle cx="187.8" cy="56.6" r="0.9" fill="#222"/>
<line x1="183.3" y1="62.2" x2="197.5" y2="62.2" stroke="#222" stroke-width="1" />
<path d="M199.5 62.2 L196 60.6 L196 63.8 Z" fill="#222"/>
<text x="189.9" y="56.2" font-size="9" text-anchor="start" fill="#000" stroke="#000" stroke-width="0.25" font-style="italic">y</text>
<text x="195.4" y="69.8" font-size="9" text-anchor="start" fill="#000" stroke="#000" stroke-width="0.25" font-style="italic">x</text>
<line x1="187.8" y1="112.4" x2="187.8" y2="126.3" stroke="#888" stroke-width="1.4" />
<circle cx="187.8" cy="112.6" r="0.9" fill="#222"/>
<line x1="183.3" y1="121.2" x2="197.5" y2="121.2" stroke="#222" stroke-width="1" />
<path d="M199.5 121.2 L196 119.6 L196 122.8 Z" fill="#222"/>
<text x="189.9" y="114.6" font-size="9" text-anchor="start" fill="#000" stroke="#000" stroke-width="0.25" font-style="italic">z</text>
<text x="195.4" y="128.8" font-size="9" text-anchor="start" fill="#000" stroke="#000" stroke-width="0.25" font-style="italic">x</text>
<defs><linearGradient id="cbb" x1="0" y1="0" x2="1" y2="0"><stop offset="0" stop-color="#0000f0"/><stop offset="0.48" stop-color="#ffffff"/><stop offset="0.52" stop-color="#ffffff"/><stop offset="1" stop-color="#f00000"/></linearGradient></defs>
<rect x="239.7" y="131.1" width="51.3" height="8.6" fill="url(#cbb)" stroke="none" stroke-width="1" />
<text x="231.3" y="149" font-size="9" text-anchor="start" fill="#000" stroke="#000" stroke-width="0.35" >Min.</text>
<text x="282.6" y="149" font-size="9" text-anchor="start" fill="#000" stroke="#000" stroke-width="0.35" >Max.</text>
<text x="-0.3" y="170.6" font-size="10.3" text-anchor="start" fill="#000" stroke="#000" stroke-width="0.35" >(c)</text>
<path d="M38.40 175.55 L38.67 175.58 L38.93 175.62 L39.20 175.65 L39.47 175.68 L39.73 175.72 L40.00 175.76 L40.26 175.80 L40.53 175.84 L40.80 175.88 L41.06 175.93 L41.33 175.97 L41.60 176.02 L41.86 176.07 L42.13 176.13 L42.40 176.18 L42.66 176.24 L42.93 176.30 L43.20 176.36 L43.46 176.42 L43.73 176.49 L43.99 176.56 L44.26 176.64 L44.53 176.72 L44.79 176.80 L45.06 176.88 L45.33 176.97 L45.59 177.07 L45.86 177.17 L46.13 177.27 L46.39 177.38 L46.66 177.49 L46.93 177.61 L47.19 177.74 L47.46 177.87 L47.72 178.01 L47.99 178.16 L48.26 178.31 L48.52 178.48 L48.79 178.65 L49.06 178.83 L49.32 179.02 L49.59 179.22 L49.86 179.44 L50.12 179.66 L50.39 179.90 L50.66 180.14 L50.92 180.40 L51.19 180.68 L51.45 180.97 L51.72 181.27 L51.99 181.58 L52.00 181.60 L52.06 181.67 L52.12 181.75 L52.18 181.82 L52.24 181.90 L52.25 181.92 L52.30 181.98 L52.36 182.05 L52.42 182.13 L52.48 182.21 L52.52 182.26 L52.54 182.29 L52.60 182.37 L52.66 182.45 L52.72 182.53 L52.78 182.62 L52.79 182.62 L52.84 182.70 L52.90 182.78 L52.96 182.87 L53.03 182.95 L53.05 182.99 L53.09 183.04 L53.15 183.12 L53.21 183.21 L53.27 183.30 L53.32 183.38 L53.33 183.39 L53.39 183.48 L53.45 183.57 L53.51 183.66 L53.57 183.75 L53.59 183.77 L53.63 183.84 L53.69 183.93 L53.75 184.02 L53.81 184.11 L53.85 184.18 L53.87 184.21 L53.93 184.30 L53.99 184.39 L54.05 184.49 L54.11 184.58 L54.12 184.59 L54.17 184.67 L54.23 184.77 L54.29 184.86 L54.35 184.96 L54.38 185.01 L54.41 185.05 L54.47 185.15 L54.53 185.24 L54.59 185.34 L54.65 185.43 L54.65 185.44 L54.71 185.53 L54.77 185.63 L54.83 185.72 L54.89 185.82 L54.92 185.85 L54.95 185.91 L55.02 186.00 L55.08 186.10 L55.14 186.19 L55.18 186.26 L55.20 186.28 L55.26 186.37 L55.32 186.47 L55.38 186.56 L55.44 186.65 L55.45 186.67 L55.50 186.74 L55.56 186.82 L55.62 186.91 L55.68 187.00 L55.72 187.05 L55.74 187.08 L55.80 187.17 L55.86 187.25 L55.92 187.33 L55.98 187.41 L55.98 187.42 L56.04 187.49 L56.10 187.57 L56.16 187.65 L56.22 187.72 L56.25 187.76 L56.28 187.79 L56.34 187.86 L56.40 187.93 L56.46 188.00 L56.52 188.06 L56.52 188.07 L56.58 188.13 L56.64 188.19 L56.70 188.25 L56.76 188.31 L56.78 188.32 L56.82 188.36 L56.88 188.41 L56.94 188.46 L57.01 188.51 L57.05 188.54 L57.07 188.55 L57.13 188.60 L57.19 188.64 L57.25 188.67 L57.31 188.71 L57.32 188.71 L57.37 188.74 L57.43 188.77 L57.49 188.79 L57.55 188.82 L57.58 188.83 L57.61 188.84 L57.67 188.86 L57.73 188.87 L57.79 188.88 L57.85 188.89 L57.85 188.89 L57.91 188.90 L57.97 188.90 L58.03 188.90 L58.09 188.90 L58.11 188.89 L58.15 188.89 L58.21 188.87 L58.27 188.86 L58.33 188.84 L58.38 188.82 L58.39 188.81 L58.45 188.78 L58.51 188.75 L58.57 188.71 L58.63 188.67 L58.65 188.66 L58.69 188.62 L58.75 188.58 L58.81 188.52 L58.87 188.47 L58.91 188.43 L58.93 188.41 L58.99 188.34 L59.06 188.28 L59.12 188.21 L59.18 188.13 L59.18 188.13 L59.24 188.06 L59.30 187.98 L59.36 187.90 L59.42 187.81 L59.45 187.77 L59.48 187.73 L59.54 187.64 L59.60 187.55 L59.66 187.45 L59.71 187.37 L59.72 187.36 L59.78 187.26 L59.84 187.16 L59.90 187.06 L59.96 186.96 L59.98 186.92 L60.02 186.85 L60.08 186.75 L60.14 186.64 L60.20 186.53 L60.25 186.45 L60.26 186.42 L60.32 186.31 L60.38 186.20 L60.44 186.09 L60.50 185.98 L60.51 185.96 L60.56 185.86 L60.62 185.75 L60.68 185.64 L60.74 185.52 L60.78 185.45 L60.80 185.41 L60.86 185.29 L60.92 185.18 L60.98 185.06 L61.05 184.95 L61.05 184.95 L61.11 184.84 L61.17 184.72 L61.23 184.61 L61.29 184.50 L61.31 184.45 L61.35 184.38 L61.41 184.27 L61.47 184.16 L61.53 184.05 L61.58 183.96 L61.59 183.94 L61.65 183.83 L61.71 183.72 L61.77 183.61 L61.83 183.50 L61.84 183.48 L61.89 183.40 L61.95 183.29 L62.01 183.18 L62.07 183.08 L62.11 183.01 L62.13 182.98 L62.19 182.88 L62.25 182.77 L62.31 182.67 L62.37 182.57 L62.38 182.57 L62.43 182.48 L62.49 182.38 L62.55 182.28 L62.61 182.19 L62.64 182.14 L62.67 182.09 L62.73 182.00 L62.79 181.91 L62.85 181.82 L62.91 181.73 L62.91 181.73 L62.97 181.64 L63.04 181.55 L63.10 181.46 L63.16 181.38 L63.18 181.35 L63.22 181.29 L63.28 181.21 L63.34 181.12 L63.40 181.04 L63.44 180.98 L63.46 180.96 L63.52 180.88 L63.58 180.80 L63.64 180.73 L63.70 180.65 L63.71 180.64 L63.76 180.58 L63.82 180.50 L63.88 180.43 L63.94 180.36 L63.98 180.31 L64.00 180.28 L64.24 180.01 L64.51 179.72 L64.78 179.45 L65.04 179.19 L65.31 178.96 L65.57 178.73 L65.84 178.52 L66.11 178.32 L66.37 178.14 L66.64 177.96 L66.91 177.80 L67.17 177.64 L67.44 177.50 L67.71 177.36 L67.97 177.23 L68.24 177.11 L68.51 177.00 L68.77 176.89 L69.04 176.79 L69.30 176.69 L69.57 176.60 L69.84 176.51 L70.10 176.43 L70.37 176.35 L70.64 176.28 L70.90 176.21 L71.17 176.14 L71.44 176.08 L71.70 176.02 L71.97 175.96 L72.23 175.90 L72.50 175.85 L72.77 175.80 L73.03 175.75 L73.30 175.71 L73.57 175.67 L73.83 175.62 L74.10 175.58 L74.37 175.55 L74.63 175.51 L74.90 175.48 L75.17 175.44 L75.43 175.41 L75.70 175.38 L75.96 175.35 L76.23 175.32 L76.50 175.29 L76.76 175.27 L77.03 175.24 L77.30 175.22 L77.56 175.20 L77.83 175.17 L78.10 175.15 L78.36 175.13 L78.63 175.11 L78.90 175.09 L79.16 175.07 L79.43 175.05 L79.69 175.04 L79.96 175.02 L80.23 175.00 L80.49 174.99 L80.76 174.97 L81.03 174.96 L81.29 174.94 L81.56 174.93 L81.83 174.92 L82.09 174.90 L82.36 174.89 L82.63 174.88 L82.89 174.87 L83.16 174.85 L83.42 174.84 L83.69 174.83 L83.96 174.82 L84.22 174.81 L84.49 174.80 L84.76 174.79 L85.02 174.78 L85.29 174.77 L85.56 174.77 L85.82 174.76 L86.09 174.75 L86.35 174.74 L86.62 174.73 L86.89 174.72 L87.15 174.72 L87.42 174.71 L87.69 174.70 L87.95 174.70 L88.22 174.69 L88.49 174.68 L88.75 174.68 L89.02 174.67 L89.29 174.66 L89.55 174.66 L89.82 174.65 L90.08 174.65 L90.35 174.64 L90.62 174.64 L90.88 174.63 L91.15 174.62 L91.42 174.62 L91.68 174.61 L91.95 174.61 L92.22 174.61 L92.48 174.60 L92.75 174.60 L93.02 174.59 L93.28 174.59 L93.55 174.58 L93.81 174.58 L94.08 174.58 L94.35 174.57 L94.61 174.57 L94.88 174.56 L95.15 174.56 L95.41 174.56 L95.68 174.55 L95.95 174.55 L96.21 174.55 L96.48 174.54 L96.75 174.54 L97.01 174.54 L97.28 174.53 L97.54 174.53 L97.81 174.53 L98.08 174.52 L98.34 174.52 L98.61 174.52 L98.88 174.52 L99.14 174.51 L99.41 174.51 L99.68 174.51 L99.94 174.50 L100.21 174.50 L100.47 174.50 L100.74 174.50 L101.01 174.49 L101.27 174.49 L101.54 174.49 L101.81 174.49 L102.07 174.49 L102.34 174.48 L102.61 174.48 L102.87 174.48 L103.14 174.48 L103.41 174.47 L103.67 174.47 L103.94 174.47 L104.20 174.47 L104.47 174.47 L104.74 174.47 L105.00 174.46 L105.27 174.46 L105.54 174.46 L105.80 174.46 L106.07 174.46 L106.34 174.45 L106.60 174.45 L106.87 174.45 L107.14 174.45 L107.40 174.45 L107.67 174.45 L107.93 174.44 L108.20 174.44 L108.47 174.44 L108.73 174.44 L109.00 174.44 L109.27 174.44 L109.53 174.44 L109.80 174.43 L110.07 174.43 L110.33 174.43 L110.60 174.43 L110.87 174.43 L111.13 174.43 L111.40 174.43 L111.66 174.43 L111.93 174.42 L112.20 174.42 L112.46 174.42 L112.73 174.42 L113.00 174.42 L113.26 174.42 L113.53 174.42 L113.80 174.42 L114.06 174.42 L114.33 174.41 L114.59 174.41 L114.86 174.41 L115.13 174.41 L115.39 174.41 L115.66 174.41 L115.93 174.41 L116.19 174.41 L116.46 174.41 L116.73 174.41 L116.99 174.40 L117.26 174.40 L117.53 174.40 L117.79 174.40 L118.06 174.40 L118.32 174.40 L118.59 174.40 L118.86 174.40 L119.12 174.40 L119.39 174.40 L119.66 174.40 L119.92 174.39 L120.19 174.39 L120.46 174.39 L120.72 174.39 L120.99 174.39 L121.26 174.39 L121.52 174.39 L121.79 174.39 L122.05 174.39 L122.32 174.39 L122.59 174.39 L122.85 174.39 L123.12 174.39 L123.39 174.38 L123.65 174.38 L123.92 174.38 L124.19 174.38 L124.45 174.38 L124.72 174.38 L124.99 174.38 L125.25 174.38 L125.52 174.38 L125.78 174.38 L126.05 174.38 L126.32 174.38 L126.58 174.38 L126.85 174.38 L127.12 174.38 L127.38 174.38 L127.65 174.37 L127.92 174.37 L128.18 174.37 L128.45 174.37 L128.72 174.37 L128.98 174.37 L129.25 174.37 L129.51 174.37 L129.78 174.37 L130.05 174.37 L130.31 174.37 L130.58 174.37 L130.85 174.37 L131.11 174.37 L131.38 174.37 L131.65 174.37 L131.91 174.37 L132.18 174.37 L132.44 174.37 L132.71 174.37 L132.98 174.36 L133.24 174.36 L133.51 174.36 L133.78 174.36 L134.04 174.36 L134.31 174.36 L134.58 174.36 L134.84 174.36 L135.11 174.36 L135.38 174.36 L135.64 174.36 L135.91 174.36 L136.17 174.36 L136.44 174.36 L136.71 174.36 L136.97 174.36 L137.24 174.36 L137.51 174.36 L137.77 174.36 L138.04 174.36 L138.31 174.36 L138.57 174.36 L138.84 174.36 L139.11 174.36 L139.37 174.35 L139.64 174.35 L139.90 174.35 L140.17 174.35 L140.44 174.35 L140.70 174.35 L140.97 174.35 L141.24 174.35 L141.50 174.35 L141.77 174.35 L142.04 174.35 L142.30 174.35 L142.57 174.35 L142.84 174.35 L143.10 174.35 L143.37 174.35 L143.63 174.35 L143.90 174.35 L144.17 174.35 L144.43 174.35 L144.70 174.35" fill="none" stroke="#6ec6bd" stroke-width="1.0"/>
<path d="M38.40 190.69 L38.67 190.70 L38.93 190.70 L39.20 190.71 L39.47 190.72 L39.73 190.72 L40.00 190.73 L40.26 190.74 L40.53 190.75 L40.80 190.76 L41.06 190.77 L41.33 190.78 L41.60 190.78 L41.86 190.79 L42.13 190.80 L42.40 190.81 L42.66 190.82 L42.93 190.83 L43.20 190.85 L43.46 190.86 L43.73 190.87 L43.99 190.88 L44.26 190.89 L44.53 190.91 L44.79 190.92 L45.06 190.93 L45.33 190.95 L45.59 190.96 L45.86 190.98 L46.13 190.99 L46.39 191.01 L46.66 191.03 L46.93 191.04 L47.19 191.06 L47.46 191.08 L47.72 191.10 L47.99 191.12 L48.26 191.14 L48.52 191.16 L48.79 191.18 L49.06 191.21 L49.32 191.23 L49.59 191.26 L49.86 191.28 L50.12 191.31 L50.39 191.34 L50.66 191.37 L50.92 191.40 L51.19 191.43 L51.45 191.46 L51.72 191.50 L51.99 191.53 L52.25 191.57 L52.52 191.61 L52.79 191.65 L53.05 191.70 L53.32 191.74 L53.59 191.79 L53.85 191.84 L54.12 191.89 L54.38 191.94 L54.65 192.00 L54.92 192.06 L55.18 192.13 L55.45 192.19 L55.72 192.26 L55.98 192.34 L56.25 192.42 L56.52 192.50 L56.78 192.59 L57.05 192.68 L57.32 192.77 L57.58 192.88 L57.85 192.99 L58.11 193.10 L58.38 193.22 L58.65 193.35 L58.91 193.49 L59.18 193.64 L59.45 193.79 L59.71 193.96 L59.98 194.13 L60.25 194.32 L60.51 194.52 L60.78 194.73 L61.05 194.96 L61.31 195.20 L61.58 195.46 L61.84 195.73 L62.11 196.02 L62.20 196.12 L62.26 196.19 L62.32 196.26 L62.38 196.33 L62.38 196.33 L62.44 196.40 L62.50 196.48 L62.56 196.55 L62.62 196.63 L62.64 196.65 L62.68 196.70 L62.74 196.78 L62.80 196.86 L62.86 196.94 L62.91 197.00 L62.92 197.02 L62.98 197.10 L63.04 197.18 L63.10 197.27 L63.16 197.35 L63.18 197.37 L63.23 197.44 L63.29 197.52 L63.35 197.61 L63.41 197.70 L63.44 197.75 L63.47 197.79 L63.53 197.88 L63.59 197.97 L63.65 198.06 L63.71 198.16 L63.71 198.16 L63.77 198.25 L63.83 198.35 L63.89 198.44 L63.95 198.54 L63.98 198.59 L64.01 198.64 L64.07 198.74 L64.13 198.84 L64.19 198.94 L64.24 199.03 L64.25 199.04 L64.31 199.15 L64.37 199.25 L64.43 199.36 L64.49 199.46 L64.51 199.49 L64.55 199.57 L64.61 199.67 L64.67 199.78 L64.73 199.89 L64.78 199.97 L64.79 200.00 L64.85 200.11 L64.91 200.22 L64.97 200.33 L65.03 200.44 L65.04 200.45 L65.09 200.55 L65.15 200.66 L65.22 200.77 L65.28 200.88 L65.31 200.94 L65.34 200.99 L65.40 201.10 L65.46 201.21 L65.52 201.32 L65.57 201.43 L65.58 201.44 L65.64 201.55 L65.70 201.66 L65.76 201.76 L65.82 201.87 L65.84 201.91 L65.88 201.98 L65.94 202.09 L66.00 202.20 L66.06 202.30 L66.11 202.38 L66.12 202.40 L66.18 202.51 L66.24 202.61 L66.30 202.71 L66.36 202.81 L66.37 202.83 L66.42 202.90 L66.48 203.00 L66.54 203.09 L66.60 203.18 L66.64 203.24 L66.66 203.27 L66.72 203.36 L66.78 203.44 L66.84 203.53 L66.90 203.61 L66.91 203.61 L66.96 203.68 L67.02 203.76 L67.08 203.83 L67.14 203.89 L67.17 203.93 L67.21 203.96 L67.27 204.02 L67.33 204.08 L67.39 204.13 L67.44 204.18 L67.45 204.18 L67.51 204.23 L67.57 204.28 L67.63 204.32 L67.69 204.35 L67.71 204.36 L67.75 204.38 L67.81 204.41 L67.87 204.44 L67.93 204.46 L67.97 204.47 L67.99 204.47 L68.05 204.49 L68.11 204.50 L68.17 204.50 L68.23 204.50 L68.24 204.50 L68.29 204.49 L68.35 204.48 L68.41 204.47 L68.47 204.44 L68.51 204.43 L68.53 204.42 L68.59 204.38 L68.65 204.34 L68.71 204.30 L68.77 204.25 L68.77 204.25 L68.83 204.20 L68.89 204.14 L68.95 204.08 L69.01 204.01 L69.04 203.98 L69.07 203.94 L69.13 203.86 L69.19 203.78 L69.26 203.69 L69.30 203.62 L69.32 203.60 L69.38 203.51 L69.44 203.42 L69.50 203.32 L69.56 203.21 L69.57 203.19 L69.62 203.11 L69.68 203.00 L69.74 202.89 L69.80 202.78 L69.84 202.70 L69.86 202.66 L69.92 202.54 L69.98 202.42 L70.04 202.30 L70.10 202.18 L70.10 202.17 L70.16 202.06 L70.22 201.93 L70.28 201.81 L70.34 201.68 L70.37 201.62 L70.40 201.55 L70.46 201.42 L70.52 201.29 L70.58 201.17 L70.64 201.05 L70.64 201.04 L70.70 200.91 L70.76 200.78 L70.82 200.65 L70.88 200.52 L70.90 200.48 L70.94 200.39 L71.00 200.26 L71.06 200.14 L71.12 200.01 L71.17 199.92 L71.18 199.88 L71.25 199.76 L71.31 199.63 L71.37 199.51 L71.43 199.39 L71.44 199.37 L71.49 199.26 L71.55 199.14 L71.61 199.02 L71.67 198.90 L71.70 198.84 L71.73 198.79 L71.79 198.67 L71.85 198.56 L71.91 198.44 L71.97 198.33 L71.97 198.33 L72.03 198.22 L72.09 198.11 L72.15 198.00 L72.21 197.89 L72.23 197.85 L72.27 197.79 L72.33 197.69 L72.39 197.58 L72.45 197.48 L72.50 197.40 L72.51 197.38 L72.57 197.28 L72.63 197.19 L72.69 197.09 L72.75 196.99 L72.77 196.97 L72.81 196.90 L72.87 196.81 L72.93 196.72 L72.99 196.63 L73.03 196.57 L73.05 196.54 L73.11 196.46 L73.17 196.37 L73.24 196.29 L73.30 196.21 L73.30 196.20 L73.36 196.13 L73.42 196.05 L73.48 195.97 L73.54 195.89 L73.57 195.85 L73.60 195.81 L73.66 195.74 L73.72 195.67 L73.78 195.59 L73.83 195.53 L73.84 195.52 L73.90 195.45 L73.96 195.38 L74.02 195.32 L74.08 195.25 L74.10 195.23 L74.14 195.18 L74.20 195.12 L74.37 194.95 L74.63 194.69 L74.90 194.44 L75.17 194.22 L75.43 194.01 L75.70 193.81 L75.96 193.63 L76.23 193.46 L76.50 193.31 L76.76 193.16 L77.03 193.02 L77.30 192.89 L77.56 192.77 L77.83 192.66 L78.10 192.56 L78.36 192.46 L78.63 192.36 L78.90 192.28 L79.16 192.19 L79.43 192.12 L79.69 192.04 L79.96 191.97 L80.23 191.91 L80.49 191.85 L80.76 191.79 L81.03 191.73 L81.29 191.68 L81.56 191.63 L81.83 191.59 L82.09 191.54 L82.36 191.50 L82.63 191.46 L82.89 191.42 L83.16 191.38 L83.42 191.35 L83.69 191.32 L83.96 191.28 L84.22 191.25 L84.49 191.22 L84.76 191.20 L85.02 191.17 L85.29 191.15 L85.56 191.12 L85.82 191.10 L86.09 191.08 L86.35 191.05 L86.62 191.03 L86.89 191.01 L87.15 191.00 L87.42 190.98 L87.69 190.96 L87.95 190.94 L88.22 190.93 L88.49 190.91 L88.75 190.90 L89.02 190.88 L89.29 190.87 L89.55 190.85 L89.82 190.84 L90.08 190.83 L90.35 190.82 L90.62 190.80 L90.88 190.79 L91.15 190.78 L91.42 190.77 L91.68 190.76 L91.95 190.75 L92.22 190.74 L92.48 190.73 L92.75 190.72 L93.02 190.71 L93.28 190.71 L93.55 190.70 L93.81 190.69 L94.08 190.68 L94.35 190.67 L94.61 190.67 L94.88 190.66 L95.15 190.65 L95.41 190.65 L95.68 190.64 L95.95 190.63 L96.21 190.63 L96.48 190.62 L96.75 190.62 L97.01 190.61 L97.28 190.60 L97.54 190.60 L97.81 190.59 L98.08 190.59 L98.34 190.58 L98.61 190.58 L98.88 190.57 L99.14 190.57 L99.41 190.56 L99.68 190.56 L99.94 190.56 L100.21 190.55 L100.47 190.55 L100.74 190.54 L101.01 190.54 L101.27 190.54 L101.54 190.53 L101.81 190.53 L102.07 190.53 L102.34 190.52 L102.61 190.52 L102.87 190.52 L103.14 190.51 L103.41 190.51 L103.67 190.51 L103.94 190.50 L104.20 190.50 L104.47 190.50 L104.74 190.49 L105.00 190.49 L105.27 190.49 L105.54 190.49 L105.80 190.48 L106.07 190.48 L106.34 190.48 L106.60 190.48 L106.87 190.47 L107.14 190.47 L107.40 190.47 L107.67 190.47 L107.93 190.46 L108.20 190.46 L108.47 190.46 L108.73 190.46 L109.00 190.46 L109.27 190.45 L109.53 190.45 L109.80 190.45 L110.07 190.45 L110.33 190.45 L110.60 190.44 L110.87 190.44 L111.13 190.44 L111.40 190.44 L111.66 190.44 L111.93 190.44 L112.20 190.43 L112.46 190.43 L112.73 190.43 L113.00 190.43 L113.26 190.43 L113.53 190.43 L113.80 190.43 L114.06 190.42 L114.33 190.42 L114.59 190.42 L114.86 190.42 L115.13 190.42 L115.39 190.42 L115.66 190.42 L115.93 190.41 L116.19 190.41 L116.46 190.41 L116.73 190.41 L116.99 190.41 L117.26 190.41 L117.53 190.41 L117.79 190.41 L118.06 190.40 L118.32 190.40 L118.59 190.40 L118.86 190.40 L119.12 190.40 L119.39 190.40 L119.66 190.40 L119.92 190.40 L120.19 190.40 L120.46 190.40 L120.72 190.39 L120.99 190.39 L121.26 190.39 L121.52 190.39 L121.79 190.39 L122.05 190.39 L122.32 190.39 L122.59 190.39 L122.85 190.39 L123.12 190.39 L123.39 190.39 L123.65 190.38 L123.92 190.38 L124.19 190.38 L124.45 190.38 L124.72 190.38 L124.99 190.38 L125.25 190.38 L125.52 190.38 L125.78 190.38 L126.05 190.38 L126.32 190.38 L126.58 190.38 L126.85 190.38 L127.12 190.38 L127.38 190.37 L127.65 190.37 L127.92 190.37 L128.18 190.37 L128.45 190.37 L128.72 190.37 L128.98 190.37 L129.25 190.37 L129.51 190.37 L129.78 190.37 L130.05 190.37 L130.31 190.37 L130.58 190.37 L130.85 190.37 L131.11 190.37 L131.38 190.37 L131.65 190.36 L131.91 190.36 L132.18 190.36 L132.44 190.36 L132.71 190.36 L132.98 190.36 L133.24 190.36 L133.51 190.36 L133.78 190.36 L134.04 190.36 L134.31 190.36 L134.58 190.36 L134.84 190.36 L135.11 190.36 L135.38 190.36 L135.64 190.36 L135.91 190.36 L136.17 190.36 L136.44 190.36 L136.71 190.36 L136.97 190.36 L137.24 190.35 L137.51 190.35 L137.77 190.35 L138.04 190.35 L138.31 190.35 L138.57 190.35 L138.84 190.35 L139.11 190.35 L139.37 190.35 L139.64 190.35 L139.90 190.35 L140.17 190.35 L140.44 190.35 L140.70 190.35 L140.97 190.35 L141.24 190.35 L141.50 190.35 L141.77 190.35 L142.04 190.35 L142.30 190.35 L142.57 190.35 L142.84 190.35 L143.10 190.35 L143.37 190.35 L143.63 190.35 L143.90 190.35 L144.17 190.35 L144.43 190.35 L144.70 190.34" fill="none" stroke="#6ec6bd" stroke-width="1.0"/>
<path d="M38.40 206.39 L38.67 206.39 L38.93 206.39 L39.20 206.39 L39.47 206.39 L39.73 206.39 L40.00 206.40 L40.26 206.40 L40.53 206.40 L40.80 206.40 L41.06 206.40 L41.33 206.40 L41.60 206.40 L41.86 206.40 L42.13 206.41 L42.40 206.41 L42.66 206.41 L42.93 206.41 L43.20 206.41 L43.46 206.41 L43.73 206.41 L43.99 206.42 L44.26 206.42 L44.53 206.42 L44.79 206.42 L45.06 206.42 L45.33 206.43 L45.59 206.43 L45.86 206.43 L46.13 206.43 L46.39 206.43 L46.66 206.43 L46.93 206.44 L47.19 206.44 L47.46 206.44 L47.72 206.44 L47.99 206.45 L48.26 206.45 L48.52 206.45 L48.79 206.45 L49.06 206.45 L49.32 206.46 L49.59 206.46 L49.86 206.46 L50.12 206.46 L50.39 206.47 L50.66 206.47 L50.92 206.47 L51.19 206.48 L51.45 206.48 L51.72 206.48 L51.99 206.49 L52.25 206.49 L52.52 206.49 L52.79 206.50 L53.05 206.50 L53.32 206.50 L53.59 206.51 L53.85 206.51 L54.12 206.51 L54.38 206.52 L54.65 206.52 L54.92 206.53 L55.18 206.53 L55.45 206.54 L55.72 206.54 L55.98 206.55 L56.25 206.55 L56.52 206.56 L56.78 206.56 L57.05 206.57 L57.32 206.57 L57.58 206.58 L57.85 206.58 L58.11 206.59 L58.38 206.60 L58.65 206.60 L58.91 206.61 L59.18 206.62 L59.45 206.62 L59.71 206.63 L59.98 206.64 L60.25 206.65 L60.51 206.66 L60.78 206.66 L61.05 206.67 L61.31 206.68 L61.58 206.69 L61.84 206.70 L62.11 206.71 L62.38 206.72 L62.64 206.73 L62.91 206.75 L63.18 206.76 L63.44 206.77 L63.71 206.78 L63.98 206.80 L64.24 206.81 L64.51 206.83 L64.78 206.84 L65.04 206.86 L65.31 206.88 L65.57 206.89 L65.84 206.91 L66.11 206.93 L66.37 206.95 L66.64 206.97 L66.91 207.00 L67.17 207.02 L67.44 207.05 L67.71 207.07 L67.97 207.10 L68.24 207.13 L68.51 207.16 L68.77 207.19 L69.04 207.22 L69.30 207.26 L69.57 207.30 L69.84 207.34 L70.10 207.38 L70.37 207.43 L70.64 207.47 L70.90 207.53 L71.17 207.58 L71.44 207.64 L71.70 207.70 L71.97 207.77 L72.23 207.84 L72.50 207.91 L72.77 207.99 L73.03 208.08 L73.30 208.18 L73.57 208.28 L73.83 208.39 L74.10 208.50 L74.37 208.63 L74.63 208.77 L74.90 208.92 L75.17 209.08 L75.43 209.25 L75.70 209.45 L75.96 209.65 L76.20 209.85 L76.23 209.88 L76.26 209.91 L76.32 209.96 L76.38 210.02 L76.44 210.08 L76.50 210.13 L76.50 210.13 L76.56 210.19 L76.62 210.25 L76.68 210.32 L76.74 210.38 L76.76 210.40 L76.80 210.44 L76.86 210.51 L76.92 210.58 L76.98 210.65 L77.03 210.70 L77.04 210.72 L77.10 210.79 L77.16 210.86 L77.23 210.94 L77.29 211.01 L77.30 211.03 L77.35 211.09 L77.41 211.17 L77.47 211.25 L77.53 211.33 L77.56 211.38 L77.59 211.41 L77.65 211.50 L77.71 211.59 L77.77 211.68 L77.83 211.77 L77.83 211.77 L77.89 211.86 L77.95 211.96 L78.01 212.05 L78.07 212.15 L78.10 212.19 L78.13 212.25 L78.19 212.35 L78.25 212.46 L78.31 212.56 L78.36 212.66 L78.37 212.67 L78.43 212.78 L78.49 212.90 L78.55 213.01 L78.61 213.13 L78.63 213.16 L78.67 213.24 L78.73 213.37 L78.79 213.49 L78.85 213.61 L78.90 213.70 L78.91 213.74 L78.97 213.87 L79.03 214.00 L79.09 214.13 L79.15 214.27 L79.16 214.28 L79.22 214.41 L79.28 214.54 L79.34 214.68 L79.40 214.83 L79.43 214.90 L79.46 214.97 L79.52 215.12 L79.58 215.26 L79.64 215.41 L79.69 215.56 L79.70 215.56 L79.76 215.72 L79.82 215.87 L79.88 216.02 L79.94 216.18 L79.96 216.23 L80.00 216.33 L80.06 216.49 L80.12 216.64 L80.18 216.80 L80.23 216.92 L80.24 216.96 L80.30 217.11 L80.36 217.27 L80.42 217.43 L80.48 217.58 L80.49 217.61 L80.54 217.73 L80.60 217.89 L80.66 218.03 L80.72 218.18 L80.76 218.27 L80.78 218.33 L80.84 218.47 L80.90 218.61 L80.96 218.75 L81.02 218.88 L81.03 218.89 L81.08 219.01 L81.14 219.13 L81.21 219.25 L81.27 219.37 L81.29 219.42 L81.33 219.48 L81.39 219.58 L81.45 219.68 L81.51 219.77 L81.56 219.85 L81.57 219.86 L81.63 219.93 L81.69 220.01 L81.75 220.07 L81.81 220.13 L81.83 220.14 L81.87 220.18 L81.93 220.22 L81.99 220.25 L82.05 220.27 L82.09 220.29 L82.11 220.29 L82.17 220.30 L82.23 220.30 L82.29 220.29 L82.35 220.26 L82.36 220.26 L82.41 220.23 L82.47 220.19 L82.53 220.13 L82.59 220.07 L82.63 220.02 L82.65 219.99 L82.71 219.90 L82.77 219.81 L82.83 219.70 L82.89 219.59 L82.89 219.59 L82.95 219.47 L83.01 219.34 L83.07 219.20 L83.13 219.06 L83.16 219.00 L83.19 218.91 L83.26 218.76 L83.32 218.60 L83.38 218.44 L83.42 218.30 L83.44 218.27 L83.50 218.10 L83.56 217.92 L83.62 217.75 L83.68 217.57 L83.69 217.53 L83.74 217.39 L83.80 217.21 L83.86 217.02 L83.92 216.84 L83.96 216.72 L83.98 216.66 L84.04 216.48 L84.10 216.29 L84.16 216.11 L84.22 215.93 L84.22 215.92 L84.28 215.75 L84.34 215.58 L84.40 215.40 L84.46 215.23 L84.49 215.15 L84.52 215.06 L84.58 214.89 L84.64 214.72 L84.70 214.56 L84.76 214.41 L84.76 214.39 L84.82 214.23 L84.88 214.08 L84.94 213.92 L85.00 213.77 L85.02 213.73 L85.06 213.62 L85.12 213.48 L85.18 213.34 L85.25 213.20 L85.29 213.09 L85.31 213.06 L85.37 212.92 L85.43 212.79 L85.49 212.66 L85.55 212.54 L85.56 212.52 L85.61 212.41 L85.67 212.29 L85.73 212.18 L85.79 212.06 L85.82 212.00 L85.85 211.95 L85.91 211.84 L85.97 211.73 L86.03 211.62 L86.09 211.52 L86.09 211.52 L86.15 211.42 L86.21 211.32 L86.27 211.23 L86.33 211.13 L86.35 211.10 L86.39 211.04 L86.45 210.95 L86.51 210.87 L86.57 210.78 L86.62 210.71 L86.63 210.70 L86.69 210.62 L86.75 210.54 L86.81 210.46 L86.87 210.39 L86.89 210.37 L86.93 210.31 L86.99 210.24 L87.05 210.17 L87.11 210.10 L87.15 210.06 L87.17 210.03 L87.24 209.97 L87.30 209.90 L87.36 209.84 L87.42 209.78 L87.42 209.78 L87.48 209.72 L87.54 209.66 L87.60 209.60 L87.66 209.55 L87.69 209.52 L87.72 209.49 L87.78 209.44 L87.84 209.39 L87.90 209.34 L87.95 209.29 L87.96 209.29 L88.02 209.24 L88.08 209.19 L88.14 209.15 L88.20 209.10 L88.22 209.09 L88.49 208.90 L88.75 208.73 L89.02 208.57 L89.29 208.43 L89.55 208.30 L89.82 208.18 L90.08 208.07 L90.35 207.97 L90.62 207.88 L90.88 207.79 L91.15 207.71 L91.42 207.64 L91.68 207.57 L91.95 207.51 L92.22 207.45 L92.48 207.40 L92.75 207.35 L93.02 207.30 L93.28 207.26 L93.55 207.21 L93.81 207.18 L94.08 207.14 L94.35 207.10 L94.61 207.07 L94.88 207.04 L95.15 207.01 L95.41 206.99 L95.68 206.96 L95.95 206.94 L96.21 206.91 L96.48 206.89 L96.75 206.87 L97.01 206.85 L97.28 206.83 L97.54 206.82 L97.81 206.80 L98.08 206.78 L98.34 206.77 L98.61 206.75 L98.88 206.74 L99.14 206.73 L99.41 206.71 L99.68 206.70 L99.94 206.69 L100.21 206.68 L100.47 206.67 L100.74 206.66 L101.01 206.65 L101.27 206.64 L101.54 206.63 L101.81 206.62 L102.07 206.61 L102.34 206.60 L102.61 206.60 L102.87 206.59 L103.14 206.58 L103.41 206.57 L103.67 206.57 L103.94 206.56 L104.20 206.56 L104.47 206.55 L104.74 206.54 L105.00 206.54 L105.27 206.53 L105.54 206.53 L105.80 206.52 L106.07 206.52 L106.34 206.51 L106.60 206.51 L106.87 206.50 L107.14 206.50 L107.40 206.50 L107.67 206.49 L107.93 206.49 L108.20 206.48 L108.47 206.48 L108.73 206.48 L109.00 206.47 L109.27 206.47 L109.53 206.47 L109.80 206.46 L110.07 206.46 L110.33 206.46 L110.60 206.45 L110.87 206.45 L111.13 206.45 L111.40 206.45 L111.66 206.44 L111.93 206.44 L112.20 206.44 L112.46 206.44 L112.73 206.43 L113.00 206.43 L113.26 206.43 L113.53 206.43 L113.80 206.43 L114.06 206.42 L114.33 206.42 L114.59 206.42 L114.86 206.42 L115.13 206.42 L115.39 206.41 L115.66 206.41 L115.93 206.41 L116.19 206.41 L116.46 206.41 L116.73 206.40 L116.99 206.40 L117.26 206.40 L117.53 206.40 L117.79 206.40 L118.06 206.40 L118.32 206.40 L118.59 206.39 L118.86 206.39 L119.12 206.39 L119.39 206.39 L119.66 206.39 L119.92 206.39 L120.19 206.39 L120.46 206.39 L120.72 206.38 L120.99 206.38 L121.26 206.38 L121.52 206.38 L121.79 206.38 L122.05 206.38 L122.32 206.38 L122.59 206.38 L122.85 206.38 L123.12 206.37 L123.39 206.37 L123.65 206.37 L123.92 206.37 L124.19 206.37 L124.45 206.37 L124.72 206.37 L124.99 206.37 L125.25 206.37 L125.52 206.37 L125.78 206.37 L126.05 206.37 L126.32 206.36 L126.58 206.36 L126.85 206.36 L127.12 206.36 L127.38 206.36 L127.65 206.36 L127.92 206.36 L128.18 206.36 L128.45 206.36 L128.72 206.36 L128.98 206.36 L129.25 206.36 L129.51 206.36 L129.78 206.36 L130.05 206.35 L130.31 206.35 L130.58 206.35 L130.85 206.35 L131.11 206.35 L131.38 206.35 L131.65 206.35 L131.91 206.35 L132.18 206.35 L132.44 206.35 L132.71 206.35 L132.98 206.35 L133.24 206.35 L133.51 206.35 L133.78 206.35 L134.04 206.35 L134.31 206.35 L134.58 206.35 L134.84 206.35 L135.11 206.34 L135.38 206.34 L135.64 206.34 L135.91 206.34 L136.17 206.34 L136.44 206.34 L136.71 206.34 L136.97 206.34 L137.24 206.34 L137.51 206.34 L137.77 206.34 L138.04 206.34 L138.31 206.34 L138.57 206.34 L138.84 206.34 L139.11 206.34 L139.37 206.34 L139.64 206.34 L139.90 206.34 L140.17 206.34 L140.44 206.34 L140.70 206.34 L140.97 206.34 L141.24 206.34 L141.50 206.34 L141.77 206.34 L142.04 206.34 L142.30 206.33 L142.57 206.33 L142.84 206.33 L143.10 206.33 L143.37 206.33 L143.63 206.33 L143.90 206.33 L144.17 206.33 L144.43 206.33 L144.70 206.33" fill="none" stroke="#6ec6bd" stroke-width="1.0"/>
<path d="M38.40 222.31 L38.67 222.31 L38.93 222.31 L39.20 222.31 L39.47 222.31 L39.73 222.31 L40.00 222.31 L40.26 222.31 L40.53 222.31 L40.80 222.31 L41.06 222.31 L41.33 222.31 L41.60 222.31 L41.86 222.31 L42.13 222.31 L42.40 222.31 L42.66 222.31 L42.93 222.31 L43.20 222.31 L43.46 222.31 L43.73 222.31 L43.99 222.31 L44.26 222.31 L44.53 222.32 L44.79 222.32 L45.06 222.32 L45.33 222.32 L45.59 222.32 L45.86 222.32 L46.13 222.32 L46.39 222.32 L46.66 222.32 L46.93 222.32 L47.19 222.32 L47.46 222.32 L47.72 222.32 L47.99 222.32 L48.26 222.32 L48.52 222.32 L48.79 222.32 L49.06 222.32 L49.32 222.32 L49.59 222.32 L49.86 222.32 L50.12 222.32 L50.39 222.32 L50.66 222.32 L50.92 222.32 L51.19 222.32 L51.45 222.32 L51.72 222.32 L51.99 222.32 L52.25 222.32 L52.52 222.32 L52.79 222.32 L53.05 222.32 L53.32 222.32 L53.59 222.32 L53.85 222.32 L54.12 222.32 L54.38 222.32 L54.65 222.32 L54.92 222.32 L55.18 222.32 L55.45 222.32 L55.72 222.32 L55.98 222.32 L56.25 222.32 L56.52 222.33 L56.78 222.33 L57.05 222.33 L57.32 222.33 L57.58 222.33 L57.85 222.33 L58.11 222.33 L58.38 222.33 L58.65 222.33 L58.91 222.33 L59.18 222.33 L59.45 222.33 L59.71 222.33 L59.98 222.33 L60.25 222.33 L60.51 222.33 L60.78 222.33 L61.05 222.33 L61.31 222.33 L61.58 222.33 L61.84 222.33 L62.11 222.33 L62.38 222.33 L62.64 222.33 L62.91 222.34 L63.18 222.34 L63.44 222.34 L63.71 222.34 L63.98 222.34 L64.24 222.34 L64.51 222.34 L64.78 222.34 L65.04 222.34 L65.31 222.34 L65.57 222.34 L65.84 222.34 L66.11 222.34 L66.37 222.34 L66.64 222.34 L66.91 222.35 L67.17 222.35 L67.44 222.35 L67.71 222.35 L67.97 222.35 L68.24 222.35 L68.51 222.35 L68.77 222.35 L69.04 222.35 L69.30 222.35 L69.57 222.35 L69.84 222.36 L70.10 222.36 L70.37 222.36 L70.64 222.36 L70.90 222.36 L71.17 222.36 L71.44 222.36 L71.70 222.36 L71.97 222.36 L72.23 222.37 L72.50 222.37 L72.77 222.37 L73.03 222.37 L73.30 222.37 L73.57 222.37 L73.83 222.38 L74.10 222.38 L74.37 222.38 L74.63 222.38 L74.90 222.38 L75.17 222.38 L75.43 222.39 L75.70 222.39 L75.96 222.39 L76.23 222.39 L76.50 222.40 L76.76 222.40 L77.03 222.40 L77.30 222.40 L77.56 222.41 L77.83 222.41 L78.10 222.41 L78.36 222.42 L78.63 222.42 L78.90 222.42 L79.16 222.43 L79.43 222.43 L79.69 222.43 L79.96 222.44 L80.23 222.44 L80.49 222.45 L80.76 222.45 L81.03 222.46 L81.29 222.46 L81.56 222.47 L81.83 222.47 L82.09 222.48 L82.36 222.48 L82.63 222.49 L82.89 222.50 L83.16 222.50 L83.42 222.51 L83.69 222.52 L83.96 222.53 L84.22 222.54 L84.49 222.55 L84.76 222.56 L85.02 222.57 L85.29 222.58 L85.56 222.59 L85.82 222.61 L86.09 222.62 L86.35 222.64 L86.62 222.65 L86.89 222.67 L87.15 222.69 L87.42 222.71 L87.69 222.73 L87.95 222.76 L88.22 222.78 L88.49 222.81 L88.75 222.84 L89.02 222.87 L89.29 222.91 L89.55 222.95 L89.82 222.99 L90.08 223.04 L90.35 223.10 L90.62 223.16 L90.88 223.22 L91.15 223.30 L91.40 223.37 L91.42 223.38 L91.46 223.39 L91.52 223.41 L91.58 223.44 L91.64 223.46 L91.68 223.47 L91.70 223.48 L91.76 223.50 L91.82 223.53 L91.88 223.55 L91.94 223.58 L91.95 223.58 L92.00 223.60 L92.06 223.63 L92.12 223.66 L92.18 223.68 L92.22 223.70 L92.24 223.71 L92.30 223.74 L92.36 223.77 L92.43 223.80 L92.48 223.84 L92.49 223.84 L92.55 223.87 L92.61 223.91 L92.67 223.94 L92.73 223.98 L92.75 223.99 L92.79 224.02 L92.85 224.06 L92.91 224.10 L92.97 224.14 L93.02 224.17 L93.03 224.18 L93.09 224.23 L93.15 224.28 L93.21 224.32 L93.27 224.37 L93.28 224.39 L93.33 224.43 L93.39 224.48 L93.45 224.54 L93.51 224.59 L93.55 224.63 L93.57 224.65 L93.63 224.71 L93.69 224.78 L93.75 224.85 L93.81 224.91 L93.81 224.92 L93.87 224.99 L93.93 225.06 L93.99 225.14 L94.05 225.22 L94.08 225.25 L94.11 225.30 L94.17 225.39 L94.23 225.48 L94.29 225.57 L94.35 225.65 L94.35 225.67 L94.42 225.77 L94.48 225.87 L94.54 225.98 L94.60 226.09 L94.61 226.13 L94.66 226.21 L94.72 226.33 L94.78 226.46 L94.84 226.59 L94.88 226.69 L94.90 226.73 L94.96 226.88 L95.02 227.03 L95.08 227.18 L95.14 227.34 L95.15 227.36 L95.20 227.51 L95.26 227.68 L95.32 227.87 L95.38 228.05 L95.41 228.16 L95.44 228.25 L95.50 228.45 L95.56 228.66 L95.62 228.88 L95.68 229.09 L95.68 229.10 L95.74 229.33 L95.80 229.57 L95.86 229.82 L95.92 230.07 L95.95 230.17 L95.98 230.33 L96.04 230.59 L96.10 230.86 L96.16 231.13 L96.21 231.36 L96.22 231.41 L96.28 231.69 L96.34 231.97 L96.41 232.26 L96.47 232.54 L96.48 232.60 L96.53 232.82 L96.59 233.09 L96.65 233.36 L96.71 233.62 L96.75 233.78 L96.77 233.87 L96.83 234.10 L96.89 234.32 L96.95 234.53 L97.01 234.71 L97.01 234.72 L97.07 234.87 L97.13 235.01 L97.19 235.12 L97.25 235.21 L97.28 235.24 L97.31 235.27 L97.37 235.30 L97.43 235.29 L97.49 235.25 L97.54 235.18 L97.55 235.17 L97.61 235.05 L97.67 234.89 L97.73 234.69 L97.79 234.47 L97.81 234.39 L97.85 234.22 L97.91 233.94 L97.97 233.65 L98.03 233.33 L98.08 233.10 L98.09 233.01 L98.15 232.68 L98.21 232.34 L98.27 232.00 L98.33 231.66 L98.34 231.61 L98.39 231.33 L98.46 231.00 L98.52 230.67 L98.58 230.35 L98.61 230.18 L98.64 230.04 L98.70 229.74 L98.76 229.45 L98.82 229.17 L98.88 228.90 L98.88 228.90 L98.94 228.64 L99.00 228.39 L99.06 228.15 L99.12 227.92 L99.14 227.83 L99.18 227.70 L99.24 227.49 L99.30 227.29 L99.36 227.10 L99.41 226.95 L99.42 226.92 L99.48 226.75 L99.54 226.58 L99.60 226.42 L99.66 226.27 L99.68 226.24 L99.72 226.13 L99.78 225.99 L99.84 225.86 L99.90 225.74 L99.94 225.66 L99.96 225.62 L100.02 225.50 L100.08 225.39 L100.14 225.29 L100.20 225.19 L100.21 225.19 L100.26 225.10 L100.32 225.01 L100.38 224.92 L100.45 224.84 L100.47 224.80 L100.51 224.76 L100.57 224.68 L100.63 224.61 L100.69 224.54 L100.74 224.48 L100.75 224.47 L100.81 224.41 L100.87 224.35 L100.93 224.29 L100.99 224.23 L101.01 224.22 L101.05 224.18 L101.11 224.13 L101.17 224.08 L101.23 224.03 L101.27 223.99 L101.29 223.98 L101.35 223.94 L101.41 223.90 L101.47 223.85 L101.53 223.81 L101.54 223.81 L101.59 223.78 L101.65 223.74 L101.71 223.70 L101.77 223.67 L101.81 223.65 L101.83 223.64 L101.89 223.60 L101.95 223.57 L102.01 223.54 L102.07 223.51 L102.07 223.51 L102.13 223.49 L102.19 223.46 L102.25 223.43 L102.31 223.41 L102.34 223.40 L102.37 223.38 L102.44 223.36 L102.50 223.34 L102.56 223.31 L102.61 223.30 L102.62 223.29 L102.68 223.27 L102.74 223.25 L102.80 223.23 L102.86 223.21 L102.87 223.21 L102.92 223.19 L102.98 223.18 L103.04 223.16 L103.10 223.14 L103.14 223.13 L103.16 223.13 L103.22 223.11 L103.28 223.09 L103.34 223.08 L103.40 223.06 L103.41 223.06 L103.67 223.00 L103.94 222.95 L104.20 222.90 L104.47 222.86 L104.74 222.82 L105.00 222.79 L105.27 222.76 L105.54 222.73 L105.80 222.70 L106.07 222.68 L106.34 222.66 L106.60 222.64 L106.87 222.62 L107.14 222.60 L107.40 222.59 L107.67 222.57 L107.93 222.56 L108.20 222.55 L108.47 222.53 L108.73 222.52 L109.00 222.51 L109.27 222.50 L109.53 222.50 L109.80 222.49 L110.07 222.48 L110.33 222.47 L110.60 222.47 L110.87 222.46 L111.13 222.45 L111.40 222.45 L111.66 222.44 L111.93 222.44 L112.20 222.43 L112.46 222.43 L112.73 222.42 L113.00 222.42 L113.26 222.42 L113.53 222.41 L113.80 222.41 L114.06 222.40 L114.33 222.40 L114.59 222.40 L114.86 222.40 L115.13 222.39 L115.39 222.39 L115.66 222.39 L115.93 222.38 L116.19 222.38 L116.46 222.38 L116.73 222.38 L116.99 222.38 L117.26 222.37 L117.53 222.37 L117.79 222.37 L118.06 222.37 L118.32 222.37 L118.59 222.36 L118.86 222.36 L119.12 222.36 L119.39 222.36 L119.66 222.36 L119.92 222.36 L120.19 222.36 L120.46 222.35 L120.72 222.35 L120.99 222.35 L121.26 222.35 L121.52 222.35 L121.79 222.35 L122.05 222.35 L122.32 222.35 L122.59 222.35 L122.85 222.34 L123.12 222.34 L123.39 222.34 L123.65 222.34 L123.92 222.34 L124.19 222.34 L124.45 222.34 L124.72 222.34 L124.99 222.34 L125.25 222.34 L125.52 222.34 L125.78 222.34 L126.05 222.34 L126.32 222.33 L126.58 222.33 L126.85 222.33 L127.12 222.33 L127.38 222.33 L127.65 222.33 L127.92 222.33 L128.18 222.33 L128.45 222.33 L128.72 222.33 L128.98 222.33 L129.25 222.33 L129.51 222.33 L129.78 222.33 L130.05 222.33 L130.31 222.33 L130.58 222.33 L130.85 222.33 L131.11 222.33 L131.38 222.33 L131.65 222.32 L131.91 222.32 L132.18 222.32 L132.44 222.32 L132.71 222.32 L132.98 222.32 L133.24 222.32 L133.51 222.32 L133.78 222.32 L134.04 222.32 L134.31 222.32 L134.58 222.32 L134.84 222.32 L135.11 222.32 L135.38 222.32 L135.64 222.32 L135.91 222.32 L136.17 222.32 L136.44 222.32 L136.71 222.32 L136.97 222.32 L137.24 222.32 L137.51 222.32 L137.77 222.32 L138.04 222.32 L138.31 222.32 L138.57 222.32 L138.84 222.32 L139.11 222.32 L139.37 222.32 L139.64 222.32 L139.90 222.32 L140.17 222.32 L140.44 222.32 L140.70 222.32 L140.97 222.32 L141.24 222.32 L141.50 222.32 L141.77 222.31 L142.04 222.31 L142.30 222.31 L142.57 222.31 L142.84 222.31 L143.10 222.31 L143.37 222.31 L143.63 222.31 L143.90 222.31 L144.17 222.31 L144.43 222.31 L144.70 222.31" fill="none" stroke="#6ec6bd" stroke-width="1.0"/>
<path d="M38.40 238.30 L38.67 238.30 L38.93 238.30 L39.20 238.30 L39.47 238.30 L39.73 238.30 L40.00 238.30 L40.26 238.30 L40.53 238.30 L40.80 238.30 L41.06 238.30 L41.33 238.30 L41.60 238.30 L41.86 238.30 L42.13 238.30 L42.40 238.30 L42.66 238.30 L42.93 238.30 L43.20 238.30 L43.46 238.30 L43.73 238.30 L43.99 238.30 L44.26 238.30 L44.53 238.30 L44.79 238.30 L45.06 238.30 L45.33 238.30 L45.59 238.30 L45.86 238.30 L46.13 238.30 L46.39 238.30 L46.66 238.30 L46.93 238.30 L47.19 238.30 L47.46 238.30 L47.72 238.30 L47.99 238.30 L48.26 238.30 L48.52 238.30 L48.79 238.30 L49.06 238.30 L49.32 238.30 L49.59 238.30 L49.86 238.30 L50.12 238.30 L50.39 238.30 L50.66 238.30 L50.92 238.30 L51.19 238.30 L51.45 238.30 L51.72 238.30 L51.99 238.30 L52.25 238.30 L52.52 238.30 L52.79 238.30 L53.05 238.30 L53.32 238.30 L53.59 238.30 L53.85 238.30 L54.12 238.30 L54.38 238.30 L54.65 238.30 L54.92 238.30 L55.18 238.30 L55.45 238.30 L55.72 238.30 L55.98 238.30 L56.25 238.30 L56.52 238.30 L56.78 238.30 L57.05 238.30 L57.32 238.30 L57.58 238.30 L57.85 238.30 L58.11 238.30 L58.38 238.30 L58.65 238.30 L58.91 238.30 L59.18 238.30 L59.45 238.30 L59.71 238.30 L59.98 238.30 L60.25 238.30 L60.51 238.30 L60.78 238.30 L61.05 238.30 L61.31 238.30 L61.58 238.30 L61.84 238.30 L62.11 238.30 L62.38 238.30 L62.64 238.30 L62.91 238.30 L63.18 238.30 L63.44 238.30 L63.71 238.30 L63.98 238.30 L64.24 238.30 L64.51 238.30 L64.78 238.30 L65.04 238.30 L65.31 238.30 L65.57 238.30 L65.84 238.30 L66.11 238.30 L66.37 238.30 L66.64 238.30 L66.91 238.30 L67.17 238.30 L67.44 238.30 L67.71 238.30 L67.97 238.30 L68.24 238.30 L68.51 238.30 L68.77 238.30 L69.04 238.30 L69.30 238.30 L69.57 238.30 L69.84 238.30 L70.10 238.30 L70.37 238.30 L70.64 238.30 L70.90 238.30 L71.17 238.30 L71.44 238.30 L71.70 238.30 L71.97 238.30 L72.23 238.30 L72.50 238.30 L72.77 238.30 L73.03 238.30 L73.30 238.30 L73.57 238.30 L73.83 238.30 L74.10 238.31 L74.37 238.31 L74.63 238.31 L74.90 238.31 L75.17 238.31 L75.43 238.31 L75.70 238.31 L75.96 238.31 L76.23 238.31 L76.50 238.31 L76.76 238.31 L77.03 238.31 L77.30 238.31 L77.56 238.31 L77.83 238.31 L78.10 238.31 L78.36 238.31 L78.63 238.31 L78.90 238.31 L79.16 238.31 L79.43 238.31 L79.69 238.31 L79.96 238.31 L80.23 238.31 L80.49 238.31 L80.76 238.31 L81.03 238.31 L81.29 238.31 L81.56 238.31 L81.83 238.31 L82.09 238.31 L82.36 238.31 L82.63 238.31 L82.89 238.31 L83.16 238.31 L83.42 238.31 L83.69 238.31 L83.96 238.31 L84.22 238.31 L84.49 238.31 L84.76 238.31 L85.02 238.31 L85.29 238.31 L85.56 238.31 L85.82 238.31 L86.09 238.31 L86.35 238.31 L86.62 238.31 L86.89 238.31 L87.15 238.31 L87.42 238.31 L87.69 238.31 L87.95 238.31 L88.22 238.31 L88.49 238.31 L88.75 238.31 L89.02 238.31 L89.29 238.31 L89.55 238.31 L89.82 238.31 L90.08 238.32 L90.35 238.32 L90.62 238.32 L90.88 238.32 L91.15 238.32 L91.42 238.32 L91.68 238.32 L91.95 238.32 L92.22 238.32 L92.48 238.32 L92.75 238.32 L93.02 238.32 L93.28 238.32 L93.55 238.32 L93.81 238.32 L94.08 238.32 L94.35 238.32 L94.61 238.32 L94.88 238.32 L95.15 238.33 L95.41 238.33 L95.68 238.33 L95.95 238.33 L96.21 238.33 L96.48 238.33 L96.75 238.33 L97.01 238.33 L97.28 238.33 L97.54 238.33 L97.81 238.34 L98.08 238.34 L98.34 238.34 L98.61 238.34 L98.88 238.34 L99.14 238.34 L99.41 238.34 L99.68 238.35 L99.94 238.35 L100.21 238.35 L100.47 238.35 L100.74 238.36 L101.01 238.36 L101.27 238.36 L101.54 238.36 L101.81 238.37 L102.07 238.37 L102.34 238.38 L102.61 238.38 L102.87 238.38 L103.14 238.39 L103.41 238.39 L103.67 238.40 L103.94 238.41 L104.20 238.41 L104.47 238.42 L104.74 238.43 L105.00 238.44 L105.27 238.45 L105.54 238.46 L105.80 238.48 L106.07 238.49 L106.20 238.50 L106.26 238.51 L106.32 238.51 L106.34 238.51 L106.38 238.51 L106.44 238.52 L106.50 238.52 L106.56 238.53 L106.60 238.53 L106.62 238.53 L106.68 238.54 L106.74 238.54 L106.80 238.55 L106.86 238.55 L106.87 238.55 L106.92 238.56 L106.98 238.57 L107.04 238.57 L107.10 238.58 L107.14 238.58 L107.16 238.58 L107.23 238.59 L107.29 238.60 L107.35 238.61 L107.40 238.61 L107.41 238.61 L107.47 238.62 L107.53 238.63 L107.59 238.64 L107.65 238.65 L107.67 238.65 L107.71 238.66 L107.77 238.67 L107.83 238.67 L107.89 238.69 L107.93 238.69 L107.95 238.70 L108.01 238.71 L108.07 238.72 L108.13 238.73 L108.19 238.74 L108.20 238.75 L108.25 238.76 L108.31 238.77 L108.37 238.79 L108.43 238.80 L108.47 238.81 L108.49 238.82 L108.55 238.83 L108.61 238.85 L108.67 238.87 L108.73 238.89 L108.73 238.89 L108.79 238.91 L108.85 238.93 L108.91 238.95 L108.97 238.97 L109.00 238.99 L109.03 239.00 L109.09 239.03 L109.15 239.05 L109.22 239.08 L109.27 239.11 L109.28 239.11 L109.34 239.15 L109.40 239.18 L109.46 239.22 L109.52 239.26 L109.53 239.27 L109.58 239.30 L109.64 239.34 L109.70 239.39 L109.76 239.44 L109.80 239.48 L109.82 239.49 L109.88 239.55 L109.94 239.61 L110.00 239.68 L110.06 239.75 L110.07 239.76 L110.12 239.83 L110.18 239.91 L110.24 240.00 L110.30 240.09 L110.33 240.15 L110.36 240.20 L110.42 240.31 L110.48 240.43 L110.54 240.57 L110.60 240.71 L110.60 240.71 L110.66 240.87 L110.72 241.05 L110.78 241.24 L110.84 241.45 L110.87 241.54 L110.90 241.69 L110.96 241.94 L111.02 242.22 L111.08 242.54 L111.13 242.80 L111.14 242.88 L111.21 243.27 L111.27 243.69 L111.33 244.16 L111.39 244.68 L111.40 244.79 L111.45 245.25 L111.51 245.87 L111.57 246.55 L111.63 247.28 L111.66 247.76 L111.69 248.06 L111.75 248.88 L111.81 249.72 L111.87 250.55 L111.93 251.34 L111.93 251.37 L111.99 252.05 L112.05 252.64 L112.11 253.05 L112.17 253.27 L112.20 253.30 L112.23 253.26 L112.29 252.97 L112.35 252.41 L112.41 251.65 L112.46 250.87 L112.47 250.75 L112.53 249.79 L112.59 248.81 L112.65 247.87 L112.71 246.97 L112.73 246.72 L112.77 246.15 L112.83 245.40 L112.89 244.72 L112.95 244.12 L113.00 243.73 L113.01 243.58 L113.07 243.10 L113.13 242.68 L113.19 242.30 L113.26 241.96 L113.26 241.92 L113.32 241.67 L113.38 241.40 L113.44 241.16 L113.50 240.95 L113.53 240.84 L113.56 240.75 L113.62 240.58 L113.68 240.42 L113.74 240.28 L113.80 240.16 L113.80 240.15 L113.86 240.04 L113.92 239.93 L113.98 239.83 L114.04 239.74 L114.06 239.71 L114.10 239.66 L114.16 239.59 L114.22 239.52 L114.28 239.45 L114.33 239.40 L114.34 239.39 L114.40 239.34 L114.46 239.29 L114.52 239.24 L114.58 239.20 L114.59 239.19 L114.64 239.15 L114.70 239.12 L114.76 239.08 L114.82 239.05 L114.86 239.03 L114.88 239.01 L114.94 238.98 L115.00 238.96 L115.06 238.93 L115.12 238.91 L115.13 238.90 L115.18 238.88 L115.25 238.86 L115.31 238.84 L115.37 238.82 L115.39 238.81 L115.43 238.80 L115.49 238.78 L115.55 238.77 L115.61 238.75 L115.66 238.74 L115.67 238.74 L115.73 238.72 L115.79 238.71 L115.85 238.70 L115.91 238.68 L115.93 238.68 L115.97 238.67 L116.03 238.66 L116.09 238.65 L116.15 238.64 L116.19 238.63 L116.21 238.63 L116.27 238.62 L116.33 238.61 L116.39 238.60 L116.45 238.59 L116.46 238.59 L116.51 238.58 L116.57 238.58 L116.63 238.57 L116.69 238.56 L116.73 238.56 L116.75 238.56 L116.81 238.55 L116.87 238.54 L116.93 238.54 L116.99 238.53 L116.99 238.53 L117.05 238.53 L117.11 238.52 L117.17 238.52 L117.24 238.51 L117.26 238.51 L117.30 238.51 L117.36 238.50 L117.42 238.50 L117.48 238.49 L117.53 238.49 L117.54 238.49 L117.60 238.48 L117.66 238.48 L117.72 238.48 L117.78 238.47 L117.79 238.47 L117.84 238.47 L117.90 238.46 L117.96 238.46 L118.02 238.46 L118.06 238.46 L118.08 238.45 L118.14 238.45 L118.20 238.45 L118.32 238.44 L118.59 238.43 L118.86 238.42 L119.12 238.41 L119.39 238.40 L119.66 238.40 L119.92 238.39 L120.19 238.38 L120.46 238.38 L120.72 238.37 L120.99 238.37 L121.26 238.37 L121.52 238.36 L121.79 238.36 L122.05 238.36 L122.32 238.35 L122.59 238.35 L122.85 238.35 L123.12 238.35 L123.39 238.34 L123.65 238.34 L123.92 238.34 L124.19 238.34 L124.45 238.34 L124.72 238.33 L124.99 238.33 L125.25 238.33 L125.52 238.33 L125.78 238.33 L126.05 238.33 L126.32 238.33 L126.58 238.33 L126.85 238.33 L127.12 238.32 L127.38 238.32 L127.65 238.32 L127.92 238.32 L128.18 238.32 L128.45 238.32 L128.72 238.32 L128.98 238.32 L129.25 238.32 L129.51 238.32 L129.78 238.32 L130.05 238.32 L130.31 238.32 L130.58 238.32 L130.85 238.32 L131.11 238.32 L131.38 238.31 L131.65 238.31 L131.91 238.31 L132.18 238.31 L132.44 238.31 L132.71 238.31 L132.98 238.31 L133.24 238.31 L133.51 238.31 L133.78 238.31 L134.04 238.31 L134.31 238.31 L134.58 238.31 L134.84 238.31 L135.11 238.31 L135.38 238.31 L135.64 238.31 L135.91 238.31 L136.17 238.31 L136.44 238.31 L136.71 238.31 L136.97 238.31 L137.24 238.31 L137.51 238.31 L137.77 238.31 L138.04 238.31 L138.31 238.31 L138.57 238.31 L138.84 238.31 L139.11 238.31 L139.37 238.31 L139.64 238.31 L139.90 238.31 L140.17 238.31 L140.44 238.31 L140.70 238.31 L140.97 238.31 L141.24 238.31 L141.50 238.31 L141.77 238.31 L142.04 238.31 L142.30 238.31 L142.57 238.31 L142.84 238.31 L143.10 238.31 L143.37 238.31 L143.63 238.31 L143.90 238.31 L144.17 238.31 L144.43 238.31 L144.70 238.31" fill="none" stroke="#6ec6bd" stroke-width="1.0"/>
<path d="M38.40 254.40 L38.67 254.40 L38.93 254.40 L39.20 254.40 L39.47 254.40 L39.73 254.40 L40.00 254.40 L40.26 254.40 L40.53 254.40 L40.80 254.40 L41.06 254.40 L41.33 254.40 L41.60 254.40 L41.86 254.40 L42.13 254.40 L42.40 254.40 L42.66 254.40 L42.93 254.40 L43.20 254.40 L43.46 254.40 L43.73 254.40 L43.99 254.40 L44.26 254.40 L44.53 254.40 L44.79 254.40 L45.06 254.40 L45.33 254.40 L45.59 254.40 L45.86 254.40 L46.13 254.40 L46.39 254.40 L46.66 254.40 L46.93 254.40 L47.19 254.40 L47.46 254.40 L47.72 254.40 L47.99 254.40 L48.26 254.40 L48.52 254.40 L48.79 254.40 L49.06 254.40 L49.32 254.40 L49.59 254.40 L49.86 254.40 L50.12 254.40 L50.39 254.40 L50.66 254.40 L50.92 254.40 L51.19 254.40 L51.45 254.40 L51.72 254.40 L51.99 254.40 L52.25 254.40 L52.52 254.40 L52.79 254.40 L53.05 254.40 L53.32 254.40 L53.59 254.40 L53.85 254.40 L54.12 254.40 L54.38 254.40 L54.65 254.40 L54.92 254.40 L55.18 254.40 L55.45 254.40 L55.72 254.40 L55.98 254.40 L56.25 254.40 L56.52 254.40 L56.78 254.40 L57.05 254.40 L57.32 254.40 L57.58 254.40 L57.85 254.40 L58.11 254.40 L58.38 254.40 L58.65 254.40 L58.91 254.40 L59.18 254.40 L59.45 254.40 L59.71 254.40 L59.98 254.40 L60.25 254.40 L60.51 254.40 L60.78 254.40 L61.05 254.40 L61.31 254.40 L61.58 254.40 L61.84 254.40 L62.11 254.40 L62.38 254.40 L62.64 254.40 L62.91 254.40 L63.18 254.40 L63.44 254.40 L63.71 254.40 L63.98 254.40 L64.24 254.40 L64.51 254.40 L64.78 254.40 L65.04 254.40 L65.31 254.40 L65.57 254.40 L65.84 254.40 L66.11 254.40 L66.37 254.40 L66.64 254.40 L66.91 254.40 L67.17 254.40 L67.44 254.40 L67.71 254.40 L67.97 254.40 L68.24 254.40 L68.51 254.40 L68.77 254.40 L69.04 254.40 L69.30 254.40 L69.57 254.40 L69.84 254.40 L70.10 254.40 L70.37 254.40 L70.64 254.40 L70.90 254.40 L71.17 254.40 L71.44 254.40 L71.70 254.40 L71.97 254.40 L72.23 254.40 L72.50 254.40 L72.77 254.40 L73.03 254.40 L73.30 254.40 L73.57 254.40 L73.83 254.40 L74.10 254.40 L74.37 254.40 L74.63 254.40 L74.90 254.40 L75.17 254.40 L75.43 254.40 L75.70 254.40 L75.96 254.40 L76.23 254.40 L76.50 254.40 L76.76 254.40 L77.03 254.40 L77.30 254.40 L77.56 254.40 L77.83 254.40 L78.10 254.40 L78.36 254.40 L78.63 254.40 L78.90 254.40 L79.16 254.40 L79.43 254.40 L79.69 254.40 L79.96 254.40 L80.23 254.40 L80.49 254.40 L80.76 254.40 L81.03 254.40 L81.29 254.40 L81.56 254.40 L81.83 254.40 L82.09 254.40 L82.36 254.40 L82.63 254.40 L82.89 254.40 L83.16 254.40 L83.42 254.40 L83.69 254.40 L83.96 254.40 L84.22 254.40 L84.49 254.40 L84.76 254.40 L85.02 254.40 L85.29 254.40 L85.56 254.40 L85.82 254.40 L86.09 254.40 L86.35 254.40 L86.62 254.40 L86.89 254.40 L87.15 254.40 L87.42 254.40 L87.69 254.40 L87.95 254.40 L88.22 254.40 L88.49 254.40 L88.75 254.40 L89.02 254.40 L89.29 254.40 L89.55 254.40 L89.82 254.40 L90.08 254.40 L90.35 254.40 L90.62 254.40 L90.88 254.40 L91.15 254.40 L91.42 254.40 L91.68 254.40 L91.95 254.40 L92.22 254.40 L92.48 254.40 L92.75 254.40 L93.02 254.40 L93.28 254.40 L93.55 254.40 L93.81 254.40 L94.08 254.40 L94.35 254.40 L94.61 254.40 L94.88 254.40 L95.15 254.40 L95.41 254.40 L95.68 254.40 L95.95 254.40 L96.21 254.40 L96.48 254.40 L96.75 254.40 L97.01 254.40 L97.28 254.40 L97.54 254.40 L97.81 254.40 L98.08 254.40 L98.34 254.40 L98.61 254.40 L98.88 254.40 L99.14 254.40 L99.41 254.40 L99.68 254.40 L99.94 254.40 L100.21 254.40 L100.47 254.40 L100.74 254.40 L101.01 254.40 L101.27 254.40 L101.54 254.40 L101.81 254.40 L102.07 254.40 L102.34 254.40 L102.61 254.40 L102.87 254.40 L103.14 254.41 L103.41 254.41 L103.67 254.41 L103.94 254.41 L104.20 254.41 L104.47 254.41 L104.74 254.41 L105.00 254.41 L105.27 254.41 L105.54 254.41 L105.80 254.41 L106.07 254.41 L106.34 254.41 L106.60 254.41 L106.87 254.41 L107.14 254.41 L107.40 254.41 L107.67 254.41 L107.93 254.41 L108.20 254.41 L108.47 254.41 L108.73 254.41 L109.00 254.41 L109.27 254.41 L109.53 254.41 L109.80 254.41 L110.07 254.42 L110.33 254.42 L110.60 254.42 L110.87 254.42 L111.13 254.42 L111.40 254.42 L111.66 254.42 L111.93 254.42 L112.20 254.43 L112.46 254.43 L112.73 254.43 L113.00 254.43 L113.26 254.44 L113.30 254.44 L113.36 254.44 L113.42 254.44 L113.48 254.44 L113.53 254.44 L113.54 254.44 L113.60 254.44 L113.66 254.44 L113.72 254.44 L113.78 254.44 L113.80 254.44 L113.84 254.44 L113.90 254.45 L113.96 254.45 L114.02 254.45 L114.06 254.45 L114.08 254.45 L114.14 254.45 L114.20 254.45 L114.26 254.45 L114.33 254.45 L114.33 254.45 L114.39 254.45 L114.45 254.46 L114.51 254.46 L114.57 254.46 L114.59 254.46 L114.63 254.46 L114.69 254.46 L114.75 254.46 L114.81 254.47 L114.86 254.47 L114.87 254.47 L114.93 254.47 L114.99 254.47 L115.05 254.47 L115.11 254.48 L115.13 254.48 L115.17 254.48 L115.23 254.48 L115.29 254.48 L115.35 254.48 L115.39 254.49 L115.41 254.49 L115.47 254.49 L115.53 254.49 L115.59 254.50 L115.65 254.50 L115.66 254.50 L115.71 254.50 L115.77 254.51 L115.83 254.51 L115.89 254.51 L115.93 254.52 L115.95 254.52 L116.01 254.52 L116.07 254.53 L116.13 254.53 L116.19 254.54 L116.19 254.54 L116.25 254.54 L116.32 254.55 L116.38 254.55 L116.44 254.56 L116.46 254.56 L116.50 254.57 L116.56 254.57 L116.62 254.58 L116.68 254.59 L116.73 254.60 L116.74 254.60 L116.80 254.61 L116.86 254.62 L116.92 254.63 L116.98 254.64 L116.99 254.65 L117.04 254.66 L117.10 254.67 L117.16 254.69 L117.22 254.70 L117.26 254.71 L117.28 254.72 L117.34 254.74 L117.40 254.76 L117.46 254.78 L117.52 254.81 L117.53 254.81 L117.58 254.84 L117.64 254.87 L117.70 254.90 L117.76 254.94 L117.79 254.96 L117.82 254.99 L117.88 255.03 L117.94 255.09 L118.00 255.15 L118.06 255.22 L118.06 255.22 L118.12 255.30 L118.18 255.40 L118.24 255.51 L118.31 255.63 L118.32 255.68 L118.37 255.78 L118.43 255.96 L118.49 256.17 L118.55 256.42 L118.59 256.65 L118.61 256.73 L118.67 257.11 L118.73 257.59 L118.79 258.18 L118.85 258.92 L118.86 259.06 L118.91 259.87 L118.97 261.06 L119.03 262.54 L119.09 264.30 L119.12 265.41 L119.15 266.22 L119.21 267.97 L119.27 269.05 L119.33 269.05 L119.39 267.97 L119.39 267.97 L119.45 266.22 L119.51 264.30 L119.57 262.54 L119.63 261.06 L119.66 260.53 L119.69 259.87 L119.75 258.92 L119.81 258.18 L119.87 257.59 L119.92 257.18 L119.93 257.11 L119.99 256.73 L120.05 256.42 L120.11 256.17 L120.17 255.96 L120.19 255.91 L120.23 255.78 L120.29 255.63 L120.36 255.51 L120.42 255.40 L120.46 255.33 L120.48 255.30 L120.54 255.22 L120.60 255.15 L120.66 255.09 L120.72 255.03 L120.72 255.03 L120.78 254.99 L120.84 254.94 L120.90 254.90 L120.96 254.87 L120.99 254.85 L121.02 254.84 L121.08 254.81 L121.14 254.78 L121.20 254.76 L121.26 254.74 L121.26 254.74 L121.32 254.72 L121.38 254.70 L121.44 254.69 L121.50 254.67 L121.52 254.66 L121.56 254.66 L121.62 254.64 L121.68 254.63 L121.74 254.62 L121.79 254.61 L121.80 254.61 L121.86 254.60 L121.92 254.59 L121.98 254.58 L122.04 254.57 L122.05 254.57 L122.10 254.57 L122.16 254.56 L122.22 254.55 L122.28 254.55 L122.32 254.54 L122.35 254.54 L122.41 254.54 L122.47 254.53 L122.53 254.53 L122.59 254.52 L122.59 254.52 L122.65 254.52 L122.71 254.51 L122.77 254.51 L122.83 254.51 L122.85 254.50 L122.89 254.50 L122.95 254.50 L123.01 254.50 L123.07 254.49 L123.12 254.49 L123.13 254.49 L123.19 254.49 L123.25 254.48 L123.31 254.48 L123.37 254.48 L123.39 254.48 L123.43 254.48 L123.49 254.48 L123.55 254.47 L123.61 254.47 L123.65 254.47 L123.67 254.47 L123.73 254.47 L123.79 254.47 L123.85 254.46 L123.91 254.46 L123.92 254.46 L123.97 254.46 L124.03 254.46 L124.09 254.46 L124.15 254.46 L124.19 254.46 L124.21 254.45 L124.27 254.45 L124.34 254.45 L124.40 254.45 L124.45 254.45 L124.46 254.45 L124.52 254.45 L124.58 254.45 L124.64 254.45 L124.70 254.45 L124.72 254.45 L124.76 254.44 L124.82 254.44 L124.88 254.44 L124.94 254.44 L124.99 254.44 L125.00 254.44 L125.06 254.44 L125.12 254.44 L125.18 254.44 L125.24 254.44 L125.25 254.44 L125.30 254.44 L125.52 254.43 L125.78 254.43 L126.05 254.43 L126.32 254.43 L126.58 254.43 L126.85 254.42 L127.12 254.42 L127.38 254.42 L127.65 254.42 L127.92 254.42 L128.18 254.42 L128.45 254.42 L128.72 254.42 L128.98 254.41 L129.25 254.41 L129.51 254.41 L129.78 254.41 L130.05 254.41 L130.31 254.41 L130.58 254.41 L130.85 254.41 L131.11 254.41 L131.38 254.41 L131.65 254.41 L131.91 254.41 L132.18 254.41 L132.44 254.41 L132.71 254.41 L132.98 254.41 L133.24 254.41 L133.51 254.41 L133.78 254.41 L134.04 254.41 L134.31 254.41 L134.58 254.41 L134.84 254.41 L135.11 254.41 L135.38 254.41 L135.64 254.40 L135.91 254.40 L136.17 254.40 L136.44 254.40 L136.71 254.40 L136.97 254.40 L137.24 254.40 L137.51 254.40 L137.77 254.40 L138.04 254.40 L138.31 254.40 L138.57 254.40 L138.84 254.40 L139.11 254.40 L139.37 254.40 L139.64 254.40 L139.90 254.40 L140.17 254.40 L140.44 254.40 L140.70 254.40 L140.97 254.40 L141.24 254.40 L141.50 254.40 L141.77 254.40 L142.04 254.40 L142.30 254.40 L142.57 254.40 L142.84 254.40 L143.10 254.40 L143.37 254.40 L143.63 254.40 L143.90 254.40 L144.17 254.40 L144.43 254.40 L144.70 254.40" fill="none" stroke="#6ec6bd" stroke-width="1.0"/>
<path d="M38.40 270.40 L38.67 270.40 L38.93 270.40 L39.20 270.40 L39.47 270.40 L39.73 270.40 L40.00 270.40 L40.26 270.40 L40.53 270.40 L40.80 270.40 L41.06 270.40 L41.33 270.40 L41.60 270.40 L41.86 270.40 L42.13 270.40 L42.40 270.40 L42.66 270.40 L42.93 270.40 L43.20 270.40 L43.46 270.40 L43.73 270.40 L43.99 270.40 L44.26 270.40 L44.53 270.40 L44.79 270.40 L45.06 270.40 L45.33 270.40 L45.59 270.40 L45.86 270.40 L46.13 270.40 L46.39 270.40 L46.66 270.40 L46.93 270.40 L47.19 270.40 L47.46 270.40 L47.72 270.40 L47.99 270.40 L48.26 270.40 L48.52 270.40 L48.79 270.40 L49.06 270.40 L49.32 270.40 L49.59 270.40 L49.86 270.40 L50.12 270.40 L50.39 270.40 L50.66 270.40 L50.92 270.40 L51.19 270.40 L51.45 270.40 L51.72 270.40 L51.99 270.40 L52.25 270.40 L52.52 270.40 L52.79 270.40 L53.05 270.40 L53.32 270.40 L53.59 270.40 L53.85 270.40 L54.12 270.40 L54.38 270.40 L54.65 270.40 L54.92 270.40 L55.18 270.40 L55.45 270.40 L55.72 270.40 L55.98 270.40 L56.25 270.40 L56.52 270.40 L56.78 270.40 L57.05 270.40 L57.32 270.40 L57.58 270.40 L57.85 270.40 L58.11 270.40 L58.38 270.40 L58.65 270.40 L58.91 270.40 L59.18 270.40 L59.45 270.40 L59.71 270.40 L59.98 270.40 L60.25 270.40 L60.51 270.40 L60.78 270.40 L61.05 270.40 L61.31 270.40 L61.58 270.40 L61.84 270.40 L62.11 270.40 L62.38 270.40 L62.64 270.40 L62.91 270.40 L63.18 270.40 L63.44 270.40 L63.71 270.40 L63.98 270.40 L64.24 270.40 L64.51 270.40 L64.78 270.40 L65.04 270.40 L65.31 270.40 L65.57 270.40 L65.84 270.40 L66.11 270.40 L66.37 270.40 L66.64 270.40 L66.91 270.40 L67.17 270.40 L67.44 270.40 L67.71 270.40 L67.97 270.40 L68.24 270.40 L68.51 270.40 L68.77 270.40 L69.04 270.40 L69.30 270.40 L69.57 270.40 L69.84 270.40 L70.10 270.40 L70.37 270.40 L70.64 270.40 L70.90 270.40 L71.17 270.40 L71.44 270.40 L71.70 270.40 L71.97 270.40 L72.23 270.40 L72.50 270.40 L72.77 270.40 L73.03 270.40 L73.30 270.40 L73.57 270.40 L73.83 270.40 L74.10 270.40 L74.37 270.40 L74.63 270.40 L74.90 270.40 L75.17 270.40 L75.43 270.40 L75.70 270.40 L75.96 270.40 L76.23 270.40 L76.50 270.40 L76.76 270.40 L77.03 270.40 L77.30 270.40 L77.56 270.40 L77.83 270.40 L78.10 270.40 L78.36 270.40 L78.63 270.40 L78.90 270.40 L79.16 270.40 L79.43 270.40 L79.69 270.40 L79.96 270.40 L80.23 270.40 L80.49 270.40 L80.76 270.40 L81.03 270.40 L81.29 270.40 L81.56 270.40 L81.83 270.40 L82.09 270.40 L82.36 270.40 L82.63 270.40 L82.89 270.40 L83.16 270.40 L83.42 270.40 L83.69 270.40 L83.96 270.40 L84.22 270.40 L84.49 270.40 L84.76 270.40 L85.02 270.40 L85.29 270.40 L85.56 270.40 L85.82 270.40 L86.09 270.40 L86.35 270.40 L86.62 270.40 L86.89 270.40 L87.15 270.40 L87.42 270.40 L87.69 270.40 L87.95 270.40 L88.22 270.40 L88.49 270.40 L88.75 270.40 L89.02 270.40 L89.29 270.40 L89.55 270.40 L89.82 270.40 L90.08 270.40 L90.35 270.40 L90.62 270.40 L90.88 270.40 L91.15 270.40 L91.42 270.40 L91.68 270.40 L91.95 270.40 L92.22 270.40 L92.48 270.40 L92.75 270.40 L93.02 270.40 L93.28 270.40 L93.55 270.40 L93.81 270.40 L94.08 270.40 L94.35 270.40 L94.61 270.40 L94.88 270.40 L95.15 270.40 L95.41 270.40 L95.68 270.40 L95.95 270.40 L96.21 270.40 L96.48 270.40 L96.75 270.40 L97.01 270.40 L97.28 270.40 L97.54 270.40 L97.81 270.40 L98.08 270.40 L98.34 270.40 L98.61 270.40 L98.88 270.40 L99.14 270.40 L99.41 270.40 L99.68 270.40 L99.94 270.40 L100.21 270.40 L100.47 270.40 L100.74 270.40 L101.01 270.40 L101.27 270.40 L101.54 270.40 L101.81 270.40 L102.07 270.40 L102.34 270.40 L102.61 270.40 L102.87 270.40 L103.14 270.40 L103.41 270.40 L103.67 270.40 L103.94 270.40 L104.20 270.40 L104.47 270.40 L104.74 270.40 L105.00 270.40 L105.27 270.40 L105.54 270.40 L105.80 270.40 L106.07 270.40 L106.34 270.40 L106.60 270.40 L106.87 270.40 L107.14 270.40 L107.40 270.40 L107.67 270.40 L107.93 270.40 L108.20 270.40 L108.47 270.40 L108.73 270.40 L109.00 270.40 L109.27 270.40 L109.53 270.40 L109.80 270.40 L110.07 270.40 L110.33 270.40 L110.60 270.40 L110.87 270.40 L111.13 270.40 L111.40 270.40 L111.66 270.40 L111.93 270.40 L112.20 270.40 L112.46 270.40 L112.73 270.40 L113.00 270.40 L113.26 270.40 L113.53 270.40 L113.80 270.40 L114.06 270.40 L114.33 270.40 L114.59 270.40 L114.86 270.40 L115.13 270.40 L115.39 270.40 L115.66 270.40 L115.93 270.40 L116.19 270.40 L116.46 270.40 L116.73 270.40 L116.99 270.40 L117.26 270.40 L117.53 270.40 L117.79 270.40 L118.06 270.40 L118.32 270.40 L118.59 270.40 L118.86 270.40 L119.12 270.40 L119.39 270.40 L119.66 270.40 L119.92 270.40 L120.19 270.40 L120.46 270.40 L120.72 270.40 L120.99 270.40 L121.26 270.40 L121.52 270.40 L121.79 270.40 L122.05 270.40 L122.32 270.40 L122.59 270.40 L122.85 270.40 L123.12 270.40 L123.39 270.40 L123.65 270.40 L123.92 270.40 L124.19 270.40 L124.45 270.40 L124.72 270.40 L124.99 270.40 L125.25 270.40 L125.52 270.40 L125.78 270.40 L126.05 270.40 L126.32 270.40 L126.58 270.40 L126.85 270.40 L127.12 270.40 L127.38 270.40 L127.65 270.40 L127.92 270.40 L128.18 270.40 L128.45 270.40 L128.72 270.40 L128.98 270.40 L129.25 270.40 L129.51 270.40 L129.78 270.40 L130.05 270.40 L130.31 270.40 L130.58 270.40 L130.85 270.40 L131.11 270.40 L131.38 270.40 L131.65 270.40 L131.91 270.40 L132.18 270.40 L132.44 270.40 L132.71 270.40 L132.98 270.40 L133.24 270.40 L133.51 270.40 L133.78 270.40 L134.04 270.40 L134.31 270.40 L134.58 270.40 L134.84 270.40 L135.11 270.40 L135.38 270.40 L135.64 270.40 L135.91 270.40 L136.17 270.40 L136.44 270.40 L136.71 270.40 L136.97 270.40 L137.24 270.40 L137.51 270.40 L137.77 270.40 L138.04 270.40 L138.31 270.40 L138.57 270.40 L138.84 270.40 L139.11 270.40 L139.37 270.40 L139.64 270.40 L139.90 270.40 L140.17 270.40 L140.44 270.40 L140.70 270.40 L140.97 270.40 L141.24 270.40 L141.50 270.40 L141.77 270.40 L142.04 270.40 L142.30 270.40 L142.57 270.40 L142.84 270.40 L143.10 270.40 L143.37 270.40 L143.63 270.40 L143.90 270.40 L144.17 270.40 L144.43 270.40 L144.70 270.40" fill="none" stroke="#6ec6bd" stroke-width="1.0"/>
<line x1="38.4" y1="173.7" x2="144.7" y2="173.7" stroke="#666" stroke-width="1.2" />
<line x1="144.7" y1="173.7" x2="144.7" y2="287.2" stroke="#555" stroke-width="1" />
<line x1="38.4" y1="173.7" x2="38.4" y2="288.2" stroke="#3a3a3a" stroke-width="1" />
<line x1="36.4" y1="285.2" x2="144.7" y2="285.2" stroke="#555" stroke-width="1" />
<line x1="35.4" y1="173.7" x2="38.4" y2="173.7" stroke="#3a3a3a" stroke-width="1" />
<line x1="35.4" y1="189.9" x2="38.4" y2="189.9" stroke="#3a3a3a" stroke-width="1" />
<line x1="35.4" y1="205.9" x2="38.4" y2="205.9" stroke="#3a3a3a" stroke-width="1" />
<line x1="35.4" y1="221.9" x2="38.4" y2="221.9" stroke="#3a3a3a" stroke-width="1" />
<line x1="35.4" y1="237.9" x2="38.4" y2="237.9" stroke="#3a3a3a" stroke-width="1" />
<line x1="35.4" y1="254" x2="38.4" y2="254" stroke="#3a3a3a" stroke-width="1" />
<line x1="35.4" y1="270.2" x2="38.4" y2="270.2" stroke="#3a3a3a" stroke-width="1" />
<line x1="38.4" y1="285.2" x2="38.4" y2="288.2" stroke="#3a3a3a" stroke-width="1" />
<line x1="51.6875" y1="285.2" x2="51.6875" y2="287.2" stroke="#3a3a3a" stroke-width="1" />
<line x1="64.975" y1="285.2" x2="64.975" y2="288.2" stroke="#3a3a3a" stroke-width="1" />
<line x1="78.2625" y1="285.2" x2="78.2625" y2="287.2" stroke="#3a3a3a" stroke-width="1" />
<line x1="91.55" y1="285.2" x2="91.55" y2="288.2" stroke="#3a3a3a" stroke-width="1" />
<line x1="104.837" y1="285.2" x2="104.837" y2="287.2" stroke="#3a3a3a" stroke-width="1" />
<line x1="118.125" y1="285.2" x2="118.125" y2="288.2" stroke="#3a3a3a" stroke-width="1" />
<line x1="131.412" y1="285.2" x2="131.412" y2="287.2" stroke="#3a3a3a" stroke-width="1" />
<line x1="144.7" y1="285.2" x2="144.7" y2="288.2" stroke="#3a3a3a" stroke-width="1" />
<text x="38.4" y="299.7" font-size="9.7" text-anchor="middle" fill="#000" stroke="#000" stroke-width="0.35" >555</text>
<text x="64.975" y="299.7" font-size="9.7" text-anchor="middle" fill="#000" stroke="#000" stroke-width="0.35" >570</text>
<text x="91.55" y="299.7" font-size="9.7" text-anchor="middle" fill="#000" stroke="#000" stroke-width="0.35" >585</text>
<text x="118.125" y="299.7" font-size="9.7" text-anchor="middle" fill="#000" stroke="#000" stroke-width="0.35" >600</text>
<text x="144.7" y="299.7" font-size="9.7" text-anchor="middle" fill="#000" stroke="#000" stroke-width="0.35" >615</text>
<text x="95.4" y="311.9" font-size="9.5" text-anchor="middle" fill="#000" stroke="#000" stroke-width="0.35" >Wavelength (nm)</text>
<text x="15.2" y="229" font-size="9.5" text-anchor="middle" fill="#000" stroke="#000" stroke-width="0.35" transform="rotate(-90 15.2 229)">Transmission</text>
<text x="31" y="273.8" font-size="9.7" text-anchor="end" fill="#000" stroke="#000" stroke-width="0.35" >1</text>
<text x="31.6" y="288.4" font-size="9.7" text-anchor="end" fill="#000" stroke="#000" stroke-width="0.35" >0</text>
<text x="143" y="181.8" font-size="7.7" text-anchor="end"><tspan font-style="italic">&#948;</tspan><tspan dx="0.7">=</tspan><tspan dx="0.7">1.0</tspan></text>
<text x="143" y="197" font-size="7.6" text-anchor="end" fill="#000" stroke="#000" stroke-width="0.15" >0.8</text>
<text x="143" y="212.9" font-size="7.6" text-anchor="end" fill="#000" stroke="#000" stroke-width="0.15" >0.6</text>
<text x="143" y="229" font-size="7.6" text-anchor="end" fill="#000" stroke="#000" stroke-width="0.15" >0.4</text>
<text x="143" y="245" font-size="7.6" text-anchor="end" fill="#000" stroke="#000" stroke-width="0.15" >0.2</text>
<text x="143" y="261" font-size="7.6" text-anchor="end" fill="#000" stroke="#000" stroke-width="0.15" >0.1</text>
<text x="137.2" y="277" font-size="7.6" text-anchor="end" fill="#000" stroke="#000" stroke-width="0.15" >0</text>
<circle cx="97.5" cy="236.2" r="1.6" fill="none" stroke="#f26c14" stroke-width="0.9"/>
<text x="62.6" y="237" font-size="7.2" text-anchor="start" fill="#f26c14" stroke="#f26c14" stroke-width="0.25" >quasi-BIC</text>
<circle cx="126.4" cy="270.5" r="1.6" fill="none" stroke="#e5207d" stroke-width="0.9"/>
<text x="111.7" y="279.8" font-size="7.5" text-anchor="start" fill="#e21c78" stroke="#e21c78" stroke-width="0.25" >BIC</text>
<text x="173" y="171" font-size="10.3" text-anchor="start" fill="#000" stroke="#000" stroke-width="0.35" >(d)</text>
<line x1="211" y1="173.8" x2="321" y2="173.8" stroke="#555" stroke-width="1" />
<line x1="211.5" y1="173.8" x2="211.5" y2="288" stroke="#3a3a3a" stroke-width="1" />
<line x1="207.5" y1="285.5" x2="321" y2="285.5" stroke="#3a3a3a" stroke-width="1" />
<line x1="207.4" y1="285.3" x2="210.9" y2="285.3" stroke="#3a3a3a" stroke-width="1" />
<line x1="208.9" y1="274.15" x2="210.9" y2="274.15" stroke="#3a3a3a" stroke-width="1" />
<line x1="207.4" y1="263" x2="210.9" y2="263" stroke="#3a3a3a" stroke-width="1" />
<line x1="208.9" y1="251.85" x2="210.9" y2="251.85" stroke="#3a3a3a" stroke-width="1" />
<line x1="207.4" y1="240.7" x2="210.9" y2="240.7" stroke="#3a3a3a" stroke-width="1" />
<line x1="208.9" y1="229.55" x2="210.9" y2="229.55" stroke="#3a3a3a" stroke-width="1" />
<line x1="207.4" y1="218.4" x2="210.9" y2="218.4" stroke="#3a3a3a" stroke-width="1" />
<line x1="208.9" y1="207.25" x2="210.9" y2="207.25" stroke="#3a3a3a" stroke-width="1" />
<line x1="207.4" y1="196.1" x2="210.9" y2="196.1" stroke="#3a3a3a" stroke-width="1" />
<line x1="208.9" y1="184.95" x2="210.9" y2="184.95" stroke="#3a3a3a" stroke-width="1" />
<line x1="207.4" y1="173.8" x2="210.9" y2="173.8" stroke="#3a3a3a" stroke-width="1" />
<text x="203.7" y="288.5" font-size="9.5" text-anchor="end" fill="#000" stroke="#000" stroke-width="0.35" >0.0</text>
<text x="203.7" y="266.2" font-size="9.5" text-anchor="end" fill="#000" stroke="#000" stroke-width="0.35" >0.2</text>
<text x="203.7" y="243.9" font-size="9.5" text-anchor="end" fill="#000" stroke="#000" stroke-width="0.35" >0.4</text>
<text x="203.7" y="221.6" font-size="9.5" text-anchor="end" fill="#000" stroke="#000" stroke-width="0.35" >0.6</text>
<text x="203.7" y="199.3" font-size="9.5" text-anchor="end" fill="#000" stroke="#000" stroke-width="0.35" >0.8</text>
<text x="203.7" y="177" font-size="9.5" text-anchor="end" fill="#000" stroke="#000" stroke-width="0.35" >1.0</text>
<line x1="211.4" y1="285.5" x2="211.4" y2="288.5" stroke="#3a3a3a" stroke-width="1" />
<line x1="225.1" y1="285.5" x2="225.1" y2="287.5" stroke="#3a3a3a" stroke-width="1" />
<line x1="238.8" y1="285.5" x2="238.8" y2="288.5" stroke="#3a3a3a" stroke-width="1" />
<line x1="252.5" y1="285.5" x2="252.5" y2="287.5" stroke="#3a3a3a" stroke-width="1" />
<line x1="266.2" y1="285.5" x2="266.2" y2="288.5" stroke="#3a3a3a" stroke-width="1" />
<line x1="279.9" y1="285.5" x2="279.9" y2="287.5" stroke="#3a3a3a" stroke-width="1" />
<line x1="293.6" y1="285.5" x2="293.6" y2="288.5" stroke="#3a3a3a" stroke-width="1" />
<line x1="307.3" y1="285.5" x2="307.3" y2="287.5" stroke="#3a3a3a" stroke-width="1" />
<line x1="321" y1="285.5" x2="321" y2="288.5" stroke="#3a3a3a" stroke-width="1" />
<text x="211.4" y="299.7" font-size="9.7" text-anchor="middle" fill="#000" stroke="#000" stroke-width="0.35" >555</text>
<text x="238.8" y="299.7" font-size="9.7" text-anchor="middle" fill="#000" stroke="#000" stroke-width="0.35" >570</text>
<text x="266.2" y="299.7" font-size="9.7" text-anchor="middle" fill="#000" stroke="#000" stroke-width="0.35" >585</text>
<text x="293.6" y="299.7" font-size="9.7" text-anchor="middle" fill="#000" stroke="#000" stroke-width="0.35" >600</text>
<text x="321" y="299.7" font-size="9.7" text-anchor="middle" fill="#000" stroke="#000" stroke-width="0.35" >615</text>
<text x="268.5" y="311.9" font-size="9.5" text-anchor="middle" fill="#000" stroke="#000" stroke-width="0.35" >Wavelength (nm)</text>
<text x="184.3" y="228.6" font-size="9.8" text-anchor="middle" fill="#000" stroke="#000" stroke-width="0.35" font-style="italic" transform="rotate(-90 184.3 228.6)">&#948;</text>
<defs><linearGradient id="cbd" x1="0" y1="0" x2="0" y2="1"><stop offset="0" stop-color="#2a4b9d"/><stop offset="0.25" stop-color="#3d50a0"/><stop offset="0.38" stop-color="#6a6aae"/><stop offset="0.5" stop-color="#ffffff"/><stop offset="0.65" stop-color="#f8c8c8"/><stop offset="0.85" stop-color="#ec6060"/><stop offset="1" stop-color="#e01818"/></linearGradient></defs>
<rect x="325.8" y="196.8" width="9.2" height="63.7" fill="url(#cbd)" stroke="none" stroke-width="1" />
<text x="337.3" y="199.6" font-size="9.7" text-anchor="start" fill="#000" stroke="#000" stroke-width="0.35" >1</text>
<text x="337.3" y="261.4" font-size="9.7" text-anchor="start" fill="#000" stroke="#000" stroke-width="0.35" >0</text>
</svg>
</body></html>
